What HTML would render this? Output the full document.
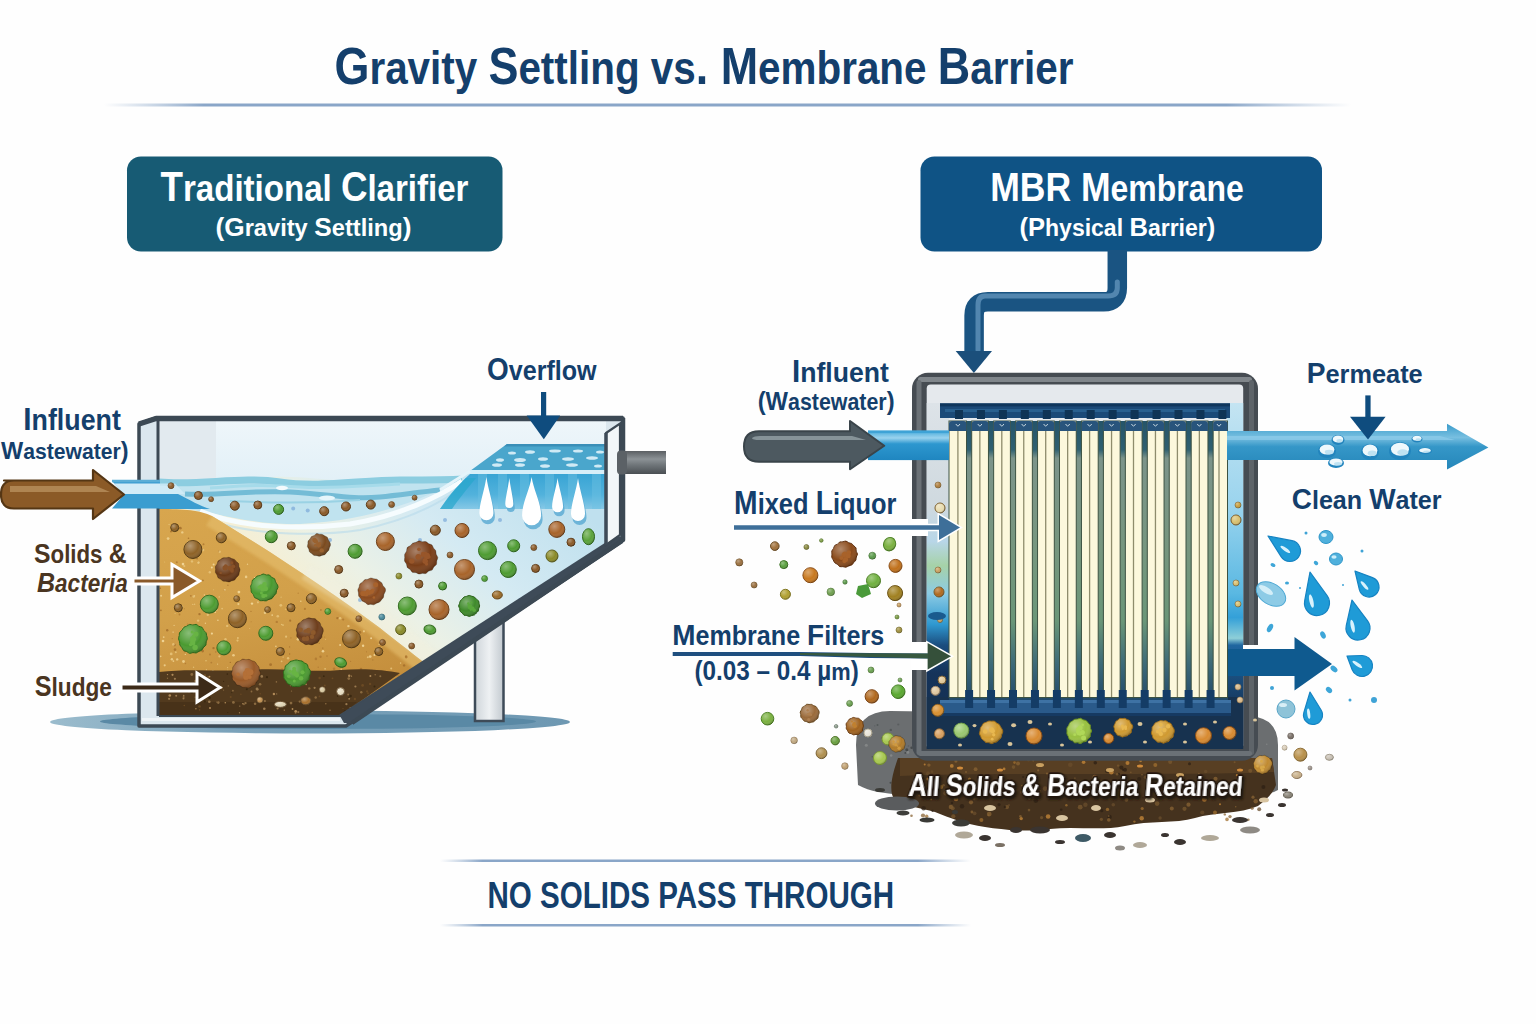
<!DOCTYPE html>
<html><head><meta charset="utf-8"><title>Gravity Settling vs. Membrane Barrier</title>
<style>
html,body{margin:0;padding:0;background:#fefefe;}
svg{display:block;}
text{font-family:'Liberation Sans',sans-serif;font-weight:bold;}
</style></head>
<body>
<svg width="1536" height="1024" viewBox="0 0 1536 1024">
<rect width="1536" height="1024" fill="#fefefe"/>

<defs>
 <linearGradient id="hline" x1="0" x2="1" y1="0" y2="0">
  <stop offset="0" stop-color="#9fb6d2" stop-opacity="0"/>
  <stop offset="0.08" stop-color="#8aa6c8" stop-opacity="1"/>
  <stop offset="0.9" stop-color="#8aa6c8" stop-opacity="1"/>
  <stop offset="1" stop-color="#9fb6d2" stop-opacity="0"/>
 </linearGradient>
 <linearGradient id="airL" x1="0" x2="0" y1="0" y2="1">
  <stop offset="0" stop-color="#eef6fa"/>
  <stop offset="1" stop-color="#e2f0f7"/>
 </linearGradient>
 <linearGradient id="waterL" gradientUnits="userSpaceOnUse" x1="560" y1="490" x2="400" y2="670">
  <stop offset="0" stop-color="#bfe0ee"/>
  <stop offset="0.45" stop-color="#d4eaf3"/>
  <stop offset="0.8" stop-color="#ebf1e6"/>
  <stop offset="1" stop-color="#f4efd6"/>
 </linearGradient>
 <linearGradient id="sludgeL" x1="0" x2="0.3" y1="0" y2="1">
  <stop offset="0" stop-color="#d8a64e"/>
  <stop offset="0.5" stop-color="#d2a04a"/>
  <stop offset="1" stop-color="#c48e3c"/>
 </linearGradient>
 <linearGradient id="sludgeGlow" x1="0" x2="1" y1="0" y2="0">
  <stop offset="0" stop-color="#e8c878" stop-opacity="0"/>
  <stop offset="1" stop-color="#e8c878" stop-opacity="0.7"/>
 </linearGradient>
 <linearGradient id="weirFace" x1="0" x2="0" y1="0" y2="1">
  <stop offset="0" stop-color="#38a4d4"/>
  <stop offset="0.6" stop-color="#52b2dc"/>
  <stop offset="1" stop-color="#86c8e6"/>
 </linearGradient>
 <linearGradient id="gapG" gradientUnits="userSpaceOnUse" x1="0" x2="0" y1="421" y2="707">
  <stop offset="0" stop-color="#24546a"/>
  <stop offset="0.1" stop-color="#2f6070"/>
  <stop offset="0.13" stop-color="#7c948a"/>
  <stop offset="0.45" stop-color="#76967f"/>
  <stop offset="0.7" stop-color="#6a9678"/>
  <stop offset="0.85" stop-color="#3d6a78"/>
  <stop offset="1" stop-color="#1d4468"/>
 </linearGradient>
 <linearGradient id="pipeL" x1="0" x2="0" y1="0" y2="1">
  <stop offset="0" stop-color="#5b5f63"/>
  <stop offset="0.35" stop-color="#8c9296"/>
  <stop offset="0.6" stop-color="#70767a"/>
  <stop offset="1" stop-color="#4a4f53"/>
 </linearGradient>
 <linearGradient id="legL" x1="0" x2="1" y1="0" y2="0">
  <stop offset="0" stop-color="#cfd5da"/>
  <stop offset="0.5" stop-color="#eef1f3"/>
  <stop offset="1" stop-color="#c2c9cf"/>
 </linearGradient>
 <linearGradient id="stripL" x1="0" x2="0" y1="0" y2="1">
  <stop offset="0" stop-color="#dde3e8"/>
  <stop offset="0.3" stop-color="#cfd9df"/>
  <stop offset="0.4" stop-color="#b8d6e8"/>
  <stop offset="0.47" stop-color="#a6d2a8"/>
  <stop offset="0.55" stop-color="#8ccbe4"/>
  <stop offset="0.64" stop-color="#2f98d0"/>
  <stop offset="0.7" stop-color="#1b4d7e"/>
  <stop offset="0.78" stop-color="#15335a"/>
  <stop offset="1" stop-color="#15304d"/>
 </linearGradient>
 <linearGradient id="stripR" x1="0" x2="0" y1="0" y2="1">
  <stop offset="0" stop-color="#c4e4f2"/>
  <stop offset="0.3" stop-color="#9ad4ee"/>
  <stop offset="0.55" stop-color="#5ab8e2"/>
  <stop offset="0.62" stop-color="#34a0d8"/>
  <stop offset="0.68" stop-color="#8ecfd8"/>
  <stop offset="0.7" stop-color="#1f66a0"/>
  <stop offset="0.85" stop-color="#183e66"/>
  <stop offset="1" stop-color="#16304d"/>
 </linearGradient>
 <linearGradient id="bluePipe" x1="0" x2="0" y1="0" y2="1">
  <stop offset="0" stop-color="#46a9da"/>
  <stop offset="0.25" stop-color="#9ad3ee"/>
  <stop offset="0.45" stop-color="#2d97cf"/>
  <stop offset="1" stop-color="#1f86c0"/>
 </linearGradient>
 <linearGradient id="permPipe" x1="0" x2="0" y1="0" y2="1">
  <stop offset="0" stop-color="#3a9ccb"/>
  <stop offset="0.3" stop-color="#78bfe0"/>
  <stop offset="0.5" stop-color="#3597c8"/>
  <stop offset="1" stop-color="#2586b9"/>
 </linearGradient>
 <linearGradient id="wallG" x1="0" x2="1" y1="0" y2="0">
  <stop offset="0" stop-color="#474d53"/>
  <stop offset="0.5" stop-color="#6b7176"/>
  <stop offset="1" stop-color="#474d53"/>
 </linearGradient>
 <linearGradient id="wallGH" x1="0" x2="0" y1="0" y2="1">
  <stop offset="0" stop-color="#42484e"/>
  <stop offset="0.5" stop-color="#7d8388"/>
  <stop offset="1" stop-color="#42484e"/>
 </linearGradient>
 <linearGradient id="mudG" x1="0" x2="0" y1="0" y2="1">
  <stop offset="0" stop-color="#4e3a22"/>
  <stop offset="1" stop-color="#5e4528"/>
 </linearGradient>
 <radialGradient id="ballShade" cx="0.35" cy="0.3" r="0.75">
  <stop offset="0" stop-color="#fff" stop-opacity="0.35"/>
  <stop offset="0.6" stop-color="#fff" stop-opacity="0"/>
  <stop offset="1" stop-color="#000" stop-opacity="0.25"/>
 </radialGradient>
 <filter id="tshadow" x="-5%" y="-20%" width="110%" height="140%">
  <feDropShadow dx="1.5" dy="2" stdDeviation="0.8" flood-color="#1a120a" flood-opacity="0.95"/>
 </filter>
 <filter id="blur1"><feGaussianBlur stdDeviation="0.6"/></filter>
 <filter id="blur2"><feGaussianBlur stdDeviation="1.5"/></filter>
</defs>

<text x="334.5" y="83.5" font-size="51.5" textLength="739" lengthAdjust="spacingAndGlyphs" fill="#143f6c" style="" xml:space="preserve" ><tspan font-size="51.50">G</tspan><tspan font-size="46.35">ravity </tspan><tspan font-size="51.50">S</tspan><tspan font-size="46.35">ettling vs</tspan><tspan font-size="51.50">. M</tspan><tspan font-size="46.35">embrane </tspan><tspan font-size="51.50">B</tspan><tspan font-size="46.35">arrier</tspan></text>
<rect x="104" y="103.5" width="1247" height="3" fill="url(#hline)"/>
<rect x="127" y="156.5" width="375.5" height="95" rx="14" fill="#175b74"/>
<text x="160.5" y="201" font-size="42" textLength="308" lengthAdjust="spacingAndGlyphs" fill="#ffffff" style="" xml:space="preserve" ><tspan font-size="42.00">T</tspan><tspan font-size="37.80">raditional </tspan><tspan font-size="42.00">C</tspan><tspan font-size="37.80">larifier</tspan></text>
<text x="215.5" y="235.5" font-size="26.5" textLength="196" lengthAdjust="spacingAndGlyphs" fill="#ffffff" style="" xml:space="preserve" ><tspan font-size="26.50">(G</tspan><tspan font-size="23.85">ravity </tspan><tspan font-size="26.50">S</tspan><tspan font-size="23.85">ettling</tspan><tspan font-size="26.50">)</tspan></text>
<rect x="920.5" y="156.5" width="401.5" height="95" rx="14" fill="#0f5385"/>
<text x="990.2" y="200.6" font-size="40.5" textLength="253.5" lengthAdjust="spacingAndGlyphs" fill="#ffffff" style="" xml:space="preserve" ><tspan font-size="40.50">MBR M</tspan><tspan font-size="36.45">embrane</tspan></text>
<text x="1019.5" y="235.5" font-size="26.5" textLength="195.75" lengthAdjust="spacingAndGlyphs" fill="#ffffff" style="" xml:space="preserve" ><tspan font-size="26.50">(P</tspan><tspan font-size="23.85">hysical </tspan><tspan font-size="26.50">B</tspan><tspan font-size="23.85">arrier</tspan><tspan font-size="26.50">)</tspan></text>
<path d="M1117.3 250 V288 Q1117.3 301.7 1103.6 301.7 H987.9 Q974.1 301.7 974.1 315.5 V352"
 fill="none" stroke="#1a5482" stroke-width="19.5"/>
<path d="M1117.3 282 V288 Q1117.3 296 1108 296 H985 Q978 296 978 305 V350" fill="none" stroke="#5d8fb7" stroke-width="5" stroke-linecap="round" opacity="0.85"/>
<path d="M955.7 351 L992 351 L973.9 373 Z" fill="#1b4f7b"/>
<rect x="440" y="859.5" width="531" height="2.5" fill="url(#hline)"/>
<rect x="440" y="924" width="531" height="2.5" fill="url(#hline)"/>
<text x="487.5" y="908" font-size="36.3" textLength="406.6" lengthAdjust="spacingAndGlyphs" fill="#143f6c" style="" xml:space="preserve" ><tspan font-size="36.30">NO SOLIDS PASS THROUGH</tspan></text>
<linearGradient id="shadowG" x1="0" x2="1" y1="0" y2="0"><stop offset="0" stop-color="#9bbccd"/><stop offset="0.35" stop-color="#7aa2ba"/><stop offset="1" stop-color="#6e98b2"/></linearGradient>
<ellipse cx="310" cy="722" rx="260" ry="11.5" fill="url(#shadowG)"/>
<ellipse cx="318" cy="721.5" rx="218" ry="7.5" fill="#5a89a5"/>
<rect x="475" y="600" width="28.5" height="121" fill="url(#legL)" stroke="#3e4b58" stroke-width="2.5"/>
<path d="M139 726 L139 424 L156 418 L623 418 L623 540 L352 722 L346 726 Z" fill="#dbe7ee" stroke="#3c4954" stroke-width="3.5" stroke-linejoin="round"/>
<clipPath id="clipL"><path d="M159 421 L606 421 L606 544 L340 716 L159 716 Z"/></clipPath>
<g clip-path="url(#clipL)">
<path d="M159 421 L606 421 L606 544 L340 716 L159 716 Z" fill="url(#waterL)"/>
<path d="M159 421 H606 V444 L507 444 L470 471 L459 480 C420 484 400 478 360 480 C320 482 300 474 260 478 C220 482 190 481 159 480 Z" fill="url(#airL)"/>
<rect x="159" y="421" width="57" height="60" fill="#e2eaef"/>
<path d="M159 481 C200 484 240 472 290 482 C330 490 380 482 420 481 C440 480 452 480 462 479 C430 495 380 520 300 524 C240 526 200 505 159 508 Z" fill="#c0e3ef"/>
<path d="M159 482 C200 486 240 476 280 482 C320 488 360 480 400 480 C430 480 450 480 462 479" fill="none" stroke="#8ccde0" stroke-width="7"/>
<path d="M185 494 C220 496 250 490 290 492 C330 494 350 500 380 497 C400 495 420 492 440 490" fill="none" stroke="#74bcd6" stroke-width="5"/>
<path d="M210 488 C240 486 260 484 300 487 C330 489 360 486 400 484" fill="none" stroke="#a6dbea" stroke-width="3"/>
<ellipse cx="282" cy="488" rx="6" ry="2.2" fill="#f2fafd"/>
<ellipse cx="327" cy="498" rx="8" ry="2.5" fill="#e6f6fb"/>
<path d="M230 501 C270 503 320 503 360 500" fill="none" stroke="#9ad2e4" stroke-width="2"/>
<path d="M200 511 C240 528 300 530 350 524 C400 516 440 496 462 481" fill="none" stroke="#f6fcfe" stroke-width="5"/>
<path d="M215 522 C260 536 320 536 360 530 C410 520 445 500 464 486" fill="none" stroke="#b7dbeb" stroke-width="2" opacity="0.6"/>
<path d="M159 494 L178 494 C190 500 200 506 210 509 L159 509 Z" fill="#3a9dd0"/>
<path d="M159 483.5 L175 483.5 L185 494 L159 494 Z" fill="#d2ecf7" opacity="0.8"/>
<path d="M440 509 C450 495 458 485 470 474 L606 474 L606 509 Z" fill="url(#weirFace)"/>
<path d="M440 509 C448 497 455 488 466 478 L476 478 C466 490 458 500 452 509 Z" fill="#26a6cc" opacity="0.7"/>
<rect x="478" y="474" width="9" height="35" fill="#6cc0e2" opacity="0.45"/>
<rect x="498" y="474" width="9" height="35" fill="#6cc0e2" opacity="0.45"/>
<rect x="520" y="474" width="9" height="35" fill="#6cc0e2" opacity="0.45"/>
<rect x="545" y="474" width="9" height="35" fill="#6cc0e2" opacity="0.45"/>
<rect x="568" y="474" width="9" height="35" fill="#6cc0e2" opacity="0.45"/>
<rect x="592" y="474" width="9" height="35" fill="#6cc0e2" opacity="0.45"/>
<path d="M507 444 L606 444 L606 471 L470 471 Z" fill="#4aa6cc"/>
<path d="M507 444 L606 444 L606 446.5 L504 446.5 Z" fill="#3a8fb8"/>
<path d="M470 470 L606 470 L606 474 L466 474 Z" fill="#d6eef8"/>
<path d="M470 471 L440 490" stroke="#e4f4fa" stroke-width="3"/>
<ellipse cx="512" cy="453" rx="4" ry="1.6" fill="#cfeaf5"/>
<ellipse cx="530" cy="452" rx="5" ry="1.8" fill="#cfeaf5"/>
<ellipse cx="555" cy="451" rx="6" ry="1.6" fill="#cfeaf5"/>
<ellipse cx="578" cy="451" rx="5" ry="1.5" fill="#cfeaf5"/>
<ellipse cx="600" cy="452" rx="4" ry="1.6" fill="#cfeaf5"/>
<ellipse cx="500" cy="460" rx="4" ry="1.8" fill="#cfeaf5"/>
<ellipse cx="520" cy="460" rx="6" ry="2" fill="#cfeaf5"/>
<ellipse cx="543" cy="459" rx="5" ry="1.8" fill="#cfeaf5"/>
<ellipse cx="568" cy="459" rx="6" ry="1.8" fill="#cfeaf5"/>
<ellipse cx="592" cy="458" rx="6" ry="1.8" fill="#cfeaf5"/>
<ellipse cx="497" cy="465" rx="5" ry="1.8" fill="#cfeaf5"/>
<ellipse cx="520" cy="465" rx="5" ry="1.8" fill="#cfeaf5"/>
<ellipse cx="545" cy="466" rx="5" ry="1.8" fill="#cfeaf5"/>
<ellipse cx="572" cy="465" rx="6" ry="1.8" fill="#cfeaf5"/>
<ellipse cx="598" cy="466" rx="4" ry="1.6" fill="#cfeaf5"/>
<path d="M486.4 477 C488.15 489.99 493.4 503.49999999999994 493.4 513.3 A7.0 7.0 0 0 1 479.4 513.3 C479.4 503.49999999999994 484.65 489.99 486.4 477 Z" fill="#58a9d2" transform="translate(1.5 4)" opacity="0.8"/>
<path d="M486.4 477 C488.15 489.99 493.4 503.49999999999994 493.4 513.3 A7.0 7.0 0 0 1 479.4 513.3 C479.4 503.49999999999994 484.65 489.99 486.4 477 Z" fill="#ffffff"/>
<path d="M509.3 478 C510.3 487.0 513.3 498.4 513.3 504.0 A4.0 4.0 0 0 1 505.3 504.0 C505.3 498.4 508.3 487.0 509.3 478 Z" fill="#58a9d2" transform="translate(1.5 4)" opacity="0.8"/>
<path d="M509.3 478 C510.3 487.0 513.3 498.4 513.3 504.0 A4.0 4.0 0 0 1 505.3 504.0 C505.3 498.4 508.3 487.0 509.3 478 Z" fill="#ffffff"/>
<path d="M531.6 477 C533.975 491.49 541.1 502.49999999999994 541.1 515.8 A9.5 9.5 0 0 1 522.1 515.8 C522.1 502.49999999999994 529.225 491.49 531.6 477 Z" fill="#58a9d2" transform="translate(1.5 4)" opacity="0.8"/>
<path d="M531.6 477 C533.975 491.49 541.1 502.49999999999994 541.1 515.8 A9.5 9.5 0 0 1 522.1 515.8 C522.1 502.49999999999994 529.225 491.49 531.6 477 Z" fill="#ffffff"/>
<path d="M557.6 478 C558.975 488.28999999999996 563.1 499.09999999999997 563.1 506.79999999999995 A5.5 5.5 0 0 1 552.1 506.79999999999995 C552.1 499.09999999999997 556.225 488.28999999999996 557.6 478 Z" fill="#58a9d2" transform="translate(1.5 4)" opacity="0.8"/>
<path d="M557.6 478 C558.975 488.28999999999996 563.1 499.09999999999997 563.1 506.79999999999995 A5.5 5.5 0 0 1 552.1 506.79999999999995 C552.1 499.09999999999997 556.225 488.28999999999996 557.6 478 Z" fill="#ffffff"/>
<path d="M578 478 C579.75 490.9 585.0 504.2 585.0 514.0 A7.0 7.0 0 0 1 571.0 514.0 C571.0 504.2 576.25 490.9 578 478 Z" fill="#58a9d2" transform="translate(1.5 4)" opacity="0.8"/>
<path d="M578 478 C579.75 490.9 585.0 504.2 585.0 514.0 A7.0 7.0 0 0 1 571.0 514.0 C571.0 504.2 576.25 490.9 578 478 Z" fill="#ffffff"/>
<path d="M159 509 C185 509 200 510 212 516 C260 545 330 590 380 628 C395 640 408 650 426 664 L340 716 L159 716 Z" fill="url(#sludgeL)"/>
<path d="M300 578 C330 598 360 615 380 628 C395 640 408 650 426 664" fill="none" stroke="#f0f0e0" stroke-width="16" opacity="0.55" filter="url(#blur2)" transform="translate(6 -6)"/>
<clipPath id="sludgeClip"><path d="M159 509 C185 509 200 510 212 516 C260 545 330 590 380 628 C395 640 408 650 426 664 L340 716 L159 716 Z"/></clipPath>
<path d="M212 516 C260 545 330 590 380 628 C395 640 408 650 426 664" fill="none" stroke="#e6c070" stroke-width="22" opacity="0.6" filter="url(#blur2)" clip-path="url(#sludgeClip)"/>
<circle cx="175.1" cy="613.5" r="0.6" fill="#e8c47a" opacity="0.85"/>
<circle cx="307.0" cy="701.5" r="1.1" fill="#e8c47a" opacity="0.85"/>
<circle cx="263.1" cy="707.3" r="1.0" fill="#e8c47a" opacity="0.85"/>
<circle cx="194.6" cy="595.8" r="0.6" fill="#f4dca0" opacity="0.85"/>
<circle cx="240.2" cy="675.2" r="0.6" fill="#b07a32" opacity="0.85"/>
<circle cx="185.3" cy="654.4" r="0.6" fill="#f4dca0" opacity="0.85"/>
<circle cx="213.5" cy="648.1" r="1.2" fill="#a56e2c" opacity="0.85"/>
<circle cx="281.1" cy="696.7" r="0.8" fill="#f0d290" opacity="0.85"/>
<circle cx="366.5" cy="651.8" r="0.6" fill="#b07a32" opacity="0.85"/>
<circle cx="238.1" cy="611.0" r="1.2" fill="#f0d290" opacity="0.85"/>
<circle cx="234.9" cy="708.0" r="1.0" fill="#e8c47a" opacity="0.85"/>
<circle cx="202.9" cy="580.4" r="0.9" fill="#a56e2c" opacity="0.85"/>
<circle cx="305.1" cy="669.8" r="0.8" fill="#f0d290" opacity="0.85"/>
<circle cx="251.0" cy="611.3" r="0.6" fill="#a56e2c" opacity="0.85"/>
<circle cx="184.3" cy="566.0" r="1.1" fill="#e8c47a" opacity="0.85"/>
<circle cx="175.8" cy="652.3" r="1.0" fill="#e8c47a" opacity="0.85"/>
<circle cx="346.3" cy="689.4" r="0.5" fill="#f0d290" opacity="0.85"/>
<circle cx="224.4" cy="590.2" r="0.6" fill="#a56e2c" opacity="0.85"/>
<circle cx="276.8" cy="621.9" r="1.2" fill="#b07a32" opacity="0.85"/>
<circle cx="268.0" cy="583.8" r="1.4" fill="#a56e2c" opacity="0.85"/>
<circle cx="199.2" cy="547.2" r="1.1" fill="#b07a32" opacity="0.85"/>
<circle cx="163.1" cy="678.2" r="0.7" fill="#b07a32" opacity="0.85"/>
<circle cx="161.1" cy="595.8" r="1.0" fill="#f0d290" opacity="0.85"/>
<circle cx="383.4" cy="702.0" r="1.1" fill="#e8c47a" opacity="0.85"/>
<circle cx="174.0" cy="691.9" r="1.2" fill="#e8c47a" opacity="0.85"/>
<circle cx="262.0" cy="591.8" r="0.9" fill="#e8c47a" opacity="0.85"/>
<circle cx="188.6" cy="632.1" r="0.5" fill="#e8c47a" opacity="0.85"/>
<circle cx="198.6" cy="562.5" r="1.0" fill="#f0d290" opacity="0.85"/>
<circle cx="286.9" cy="707.6" r="0.9" fill="#a56e2c" opacity="0.85"/>
<circle cx="182.3" cy="532.4" r="1.2" fill="#f0d290" opacity="0.85"/>
<circle cx="284.4" cy="650.4" r="0.5" fill="#f4dca0" opacity="0.85"/>
<circle cx="198.1" cy="620.6" r="1.2" fill="#e8c47a" opacity="0.85"/>
<circle cx="237.5" cy="640.6" r="1.1" fill="#e8c47a" opacity="0.85"/>
<circle cx="227.9" cy="585.3" r="0.8" fill="#b07a32" opacity="0.85"/>
<circle cx="217.9" cy="620.3" r="0.8" fill="#f4dca0" opacity="0.85"/>
<circle cx="218.0" cy="674.3" r="1.2" fill="#b07a32" opacity="0.85"/>
<circle cx="372.8" cy="660.0" r="0.7" fill="#b07a32" opacity="0.85"/>
<circle cx="288.1" cy="658.2" r="1.2" fill="#e8c47a" opacity="0.85"/>
<circle cx="370.2" cy="656.6" r="1.4" fill="#f0d290" opacity="0.85"/>
<circle cx="219.0" cy="551.3" r="0.9" fill="#b07a32" opacity="0.85"/>
<circle cx="160.5" cy="693.8" r="1.2" fill="#f0d290" opacity="0.85"/>
<circle cx="182.0" cy="644.1" r="1.2" fill="#a56e2c" opacity="0.85"/>
<circle cx="206.4" cy="669.8" r="0.6" fill="#f0d290" opacity="0.85"/>
<circle cx="406.0" cy="656.4" r="0.9" fill="#a56e2c" opacity="0.85"/>
<circle cx="406.2" cy="657.0" r="1.4" fill="#b07a32" opacity="0.85"/>
<circle cx="167.2" cy="630.2" r="1.2" fill="#a56e2c" opacity="0.85"/>
<circle cx="198.0" cy="677.3" r="1.1" fill="#a56e2c" opacity="0.85"/>
<circle cx="251.1" cy="621.7" r="0.5" fill="#b07a32" opacity="0.85"/>
<circle cx="367.8" cy="657.3" r="1.0" fill="#e8c47a" opacity="0.85"/>
<circle cx="386.7" cy="677.2" r="0.5" fill="#b07a32" opacity="0.85"/>
<circle cx="215.3" cy="612.2" r="0.8" fill="#f4dca0" opacity="0.85"/>
<circle cx="301.5" cy="678.8" r="1.3" fill="#e8c47a" opacity="0.85"/>
<circle cx="252.0" cy="603.6" r="1.2" fill="#f4dca0" opacity="0.85"/>
<circle cx="294.4" cy="677.4" r="0.6" fill="#f4dca0" opacity="0.85"/>
<circle cx="199.5" cy="614.1" r="1.2" fill="#a56e2c" opacity="0.85"/>
<circle cx="318.2" cy="667.2" r="0.7" fill="#b07a32" opacity="0.85"/>
<circle cx="283.1" cy="657.0" r="0.6" fill="#f4dca0" opacity="0.85"/>
<circle cx="337.4" cy="618.1" r="1.2" fill="#a56e2c" opacity="0.85"/>
<circle cx="187.6" cy="624.1" r="0.7" fill="#b07a32" opacity="0.85"/>
<circle cx="171.0" cy="531.5" r="1.0" fill="#a56e2c" opacity="0.85"/>
<circle cx="357.6" cy="694.5" r="0.8" fill="#a56e2c" opacity="0.85"/>
<circle cx="211.8" cy="567.4" r="1.0" fill="#f4dca0" opacity="0.85"/>
<circle cx="284.3" cy="700.3" r="1.0" fill="#e8c47a" opacity="0.85"/>
<circle cx="387.8" cy="697.6" r="1.3" fill="#f4dca0" opacity="0.85"/>
<circle cx="212.7" cy="601.5" r="0.6" fill="#a56e2c" opacity="0.85"/>
<circle cx="334.1" cy="668.8" r="1.3" fill="#b07a32" opacity="0.85"/>
<circle cx="281.6" cy="661.3" r="0.9" fill="#e8c47a" opacity="0.85"/>
<circle cx="286.7" cy="710.0" r="0.6" fill="#b07a32" opacity="0.85"/>
<circle cx="272.2" cy="615.1" r="0.9" fill="#f0d290" opacity="0.85"/>
<circle cx="255.1" cy="579.6" r="0.9" fill="#a56e2c" opacity="0.85"/>
<circle cx="164.7" cy="578.3" r="0.8" fill="#f4dca0" opacity="0.85"/>
<circle cx="230.7" cy="693.2" r="0.7" fill="#b07a32" opacity="0.85"/>
<circle cx="193.7" cy="596.5" r="1.2" fill="#e8c47a" opacity="0.85"/>
<circle cx="175.0" cy="649.6" r="1.3" fill="#a56e2c" opacity="0.85"/>
<circle cx="183.0" cy="564.1" r="1.3" fill="#f4dca0" opacity="0.85"/>
<circle cx="177.3" cy="684.6" r="0.5" fill="#a56e2c" opacity="0.85"/>
<circle cx="171.2" cy="653.9" r="1.4" fill="#e8c47a" opacity="0.85"/>
<circle cx="275.9" cy="646.4" r="0.8" fill="#f0d290" opacity="0.85"/>
<circle cx="164.7" cy="562.1" r="0.5" fill="#e8c47a" opacity="0.85"/>
<circle cx="291.5" cy="707.6" r="0.9" fill="#f4dca0" opacity="0.85"/>
<circle cx="288.7" cy="678.9" r="1.4" fill="#a56e2c" opacity="0.85"/>
<circle cx="219.7" cy="551.7" r="1.2" fill="#e8c47a" opacity="0.85"/>
<circle cx="196.3" cy="709.9" r="1.3" fill="#e8c47a" opacity="0.85"/>
<circle cx="163.7" cy="637.1" r="0.9" fill="#f0d290" opacity="0.85"/>
<circle cx="174.4" cy="645.0" r="1.3" fill="#a56e2c" opacity="0.85"/>
<circle cx="223.0" cy="570.6" r="0.7" fill="#a56e2c" opacity="0.85"/>
<circle cx="254.7" cy="577.8" r="0.8" fill="#f4dca0" opacity="0.85"/>
<circle cx="169.0" cy="688.5" r="0.8" fill="#b07a32" opacity="0.85"/>
<circle cx="160.3" cy="588.3" r="0.8" fill="#a56e2c" opacity="0.85"/>
<circle cx="237.9" cy="637.9" r="1.0" fill="#e8c47a" opacity="0.85"/>
<circle cx="297.6" cy="662.1" r="1.3" fill="#e8c47a" opacity="0.85"/>
<circle cx="363.9" cy="631.3" r="1.1" fill="#f0d290" opacity="0.85"/>
<circle cx="374.5" cy="655.0" r="1.1" fill="#f4dca0" opacity="0.85"/>
<circle cx="350.8" cy="674.4" r="1.3" fill="#b07a32" opacity="0.85"/>
<circle cx="338.5" cy="671.6" r="1.1" fill="#e8c47a" opacity="0.85"/>
<circle cx="168.1" cy="538.6" r="1.4" fill="#f0d290" opacity="0.85"/>
<circle cx="257.9" cy="602.3" r="1.1" fill="#e8c47a" opacity="0.85"/>
<circle cx="322.8" cy="648.1" r="0.7" fill="#a56e2c" opacity="0.85"/>
<circle cx="402.5" cy="691.6" r="1.1" fill="#e8c47a" opacity="0.85"/>
<circle cx="177.2" cy="659.4" r="1.2" fill="#f0d290" opacity="0.85"/>
<circle cx="172.2" cy="638.6" r="0.6" fill="#b07a32" opacity="0.85"/>
<circle cx="198.3" cy="562.8" r="1.1" fill="#e8c47a" opacity="0.85"/>
<circle cx="285.4" cy="609.2" r="0.6" fill="#e8c47a" opacity="0.85"/>
<circle cx="216.6" cy="609.9" r="1.0" fill="#e8c47a" opacity="0.85"/>
<circle cx="280.8" cy="605.3" r="1.4" fill="#e8c47a" opacity="0.85"/>
<circle cx="182.3" cy="606.6" r="0.9" fill="#f0d290" opacity="0.85"/>
<circle cx="373.2" cy="705.6" r="1.4" fill="#a56e2c" opacity="0.85"/>
<circle cx="260.6" cy="695.3" r="0.6" fill="#b07a32" opacity="0.85"/>
<circle cx="183.5" cy="661.5" r="1.4" fill="#f0d290" opacity="0.85"/>
<circle cx="194.5" cy="676.0" r="0.8" fill="#f4dca0" opacity="0.85"/>
<circle cx="189.3" cy="585.0" r="1.3" fill="#a56e2c" opacity="0.85"/>
<circle cx="160.9" cy="610.3" r="0.9" fill="#a56e2c" opacity="0.85"/>
<circle cx="246.1" cy="576.9" r="1.3" fill="#f0d290" opacity="0.85"/>
<circle cx="191.2" cy="697.3" r="0.5" fill="#e8c47a" opacity="0.85"/>
<circle cx="176.9" cy="590.0" r="0.6" fill="#f4dca0" opacity="0.85"/>
<circle cx="400.6" cy="663.1" r="0.8" fill="#e8c47a" opacity="0.85"/>
<circle cx="173.4" cy="644.4" r="1.3" fill="#e8c47a" opacity="0.85"/>
<circle cx="224.8" cy="565.1" r="0.8" fill="#f4dca0" opacity="0.85"/>
<circle cx="361.0" cy="669.0" r="1.3" fill="#a56e2c" opacity="0.85"/>
<circle cx="371.1" cy="638.2" r="1.0" fill="#f4dca0" opacity="0.85"/>
<circle cx="355.7" cy="640.9" r="0.9" fill="#f0d290" opacity="0.85"/>
<circle cx="204.4" cy="595.0" r="0.8" fill="#f0d290" opacity="0.85"/>
<circle cx="352.1" cy="707.3" r="0.9" fill="#f0d290" opacity="0.85"/>
<circle cx="222.1" cy="608.6" r="0.9" fill="#e8c47a" opacity="0.85"/>
<circle cx="203.5" cy="544.3" r="1.0" fill="#b07a32" opacity="0.85"/>
<circle cx="205.4" cy="623.2" r="0.7" fill="#f0d290" opacity="0.85"/>
<circle cx="227.2" cy="625.9" r="1.2" fill="#e8c47a" opacity="0.85"/>
<circle cx="267.3" cy="594.8" r="0.7" fill="#f4dca0" opacity="0.85"/>
<circle cx="230.3" cy="662.4" r="0.7" fill="#a56e2c" opacity="0.85"/>
<circle cx="290.9" cy="637.9" r="0.6" fill="#b07a32" opacity="0.85"/>
<circle cx="241.1" cy="674.9" r="0.6" fill="#e8c47a" opacity="0.85"/>
<circle cx="270.6" cy="664.7" r="1.4" fill="#a56e2c" opacity="0.85"/>
<circle cx="401.9" cy="697.6" r="1.3" fill="#f4dca0" opacity="0.85"/>
<circle cx="188.4" cy="542.9" r="1.4" fill="#f4dca0" opacity="0.85"/>
<circle cx="188.3" cy="677.1" r="1.1" fill="#e8c47a" opacity="0.85"/>
<circle cx="225.5" cy="639.3" r="1.2" fill="#e8c47a" opacity="0.85"/>
<circle cx="185.9" cy="572.1" r="0.7" fill="#f4dca0" opacity="0.85"/>
<circle cx="227.8" cy="670.1" r="0.5" fill="#e8c47a" opacity="0.85"/>
<circle cx="238.4" cy="604.1" r="1.1" fill="#f0d290" opacity="0.85"/>
<circle cx="221.0" cy="561.4" r="1.1" fill="#a56e2c" opacity="0.85"/>
<circle cx="289.6" cy="646.9" r="0.6" fill="#a56e2c" opacity="0.85"/>
<circle cx="219.2" cy="596.9" r="0.7" fill="#f0d290" opacity="0.85"/>
<circle cx="168.9" cy="579.6" r="0.8" fill="#a56e2c" opacity="0.85"/>
<circle cx="235.9" cy="681.0" r="0.7" fill="#e8c47a" opacity="0.85"/>
<circle cx="217.6" cy="664.1" r="0.6" fill="#f0d290" opacity="0.85"/>
<circle cx="322.1" cy="634.0" r="0.9" fill="#b07a32" opacity="0.85"/>
<circle cx="314.6" cy="696.4" r="0.7" fill="#e8c47a" opacity="0.85"/>
<circle cx="173.5" cy="524.0" r="0.9" fill="#a56e2c" opacity="0.85"/>
<circle cx="203.1" cy="550.1" r="1.3" fill="#e8c47a" opacity="0.85"/>
<circle cx="257.2" cy="578.3" r="0.6" fill="#b07a32" opacity="0.85"/>
<circle cx="180.3" cy="528.2" r="1.4" fill="#a56e2c" opacity="0.85"/>
<circle cx="192.2" cy="704.9" r="0.8" fill="#b07a32" opacity="0.85"/>
<circle cx="300.8" cy="601.3" r="0.8" fill="#f0d290" opacity="0.85"/>
<circle cx="266.8" cy="674.4" r="0.5" fill="#a56e2c" opacity="0.85"/>
<circle cx="169.1" cy="524.5" r="0.7" fill="#e8c47a" opacity="0.85"/>
<circle cx="354.3" cy="691.7" r="0.8" fill="#f0d290" opacity="0.85"/>
<circle cx="247.1" cy="702.8" r="0.7" fill="#e8c47a" opacity="0.85"/>
<circle cx="356.5" cy="695.3" r="1.4" fill="#e8c47a" opacity="0.85"/>
<circle cx="177.0" cy="677.2" r="0.9" fill="#e8c47a" opacity="0.85"/>
<circle cx="408.8" cy="702.8" r="1.2" fill="#a56e2c" opacity="0.85"/>
<circle cx="397.5" cy="675.0" r="1.3" fill="#b07a32" opacity="0.85"/>
<circle cx="207.6" cy="672.5" r="0.8" fill="#e8c47a" opacity="0.85"/>
<circle cx="221.4" cy="684.2" r="0.8" fill="#a56e2c" opacity="0.85"/>
<circle cx="211.3" cy="662.6" r="0.9" fill="#b07a32" opacity="0.85"/>
<circle cx="178.8" cy="636.9" r="0.6" fill="#b07a32" opacity="0.85"/>
<circle cx="289.6" cy="654.0" r="0.7" fill="#a56e2c" opacity="0.85"/>
<circle cx="194.6" cy="604.2" r="0.7" fill="#e8c47a" opacity="0.85"/>
<circle cx="300.0" cy="666.8" r="1.2" fill="#e8c47a" opacity="0.85"/>
<circle cx="236.4" cy="567.9" r="0.8" fill="#f0d290" opacity="0.85"/>
<circle cx="224.3" cy="561.1" r="0.8" fill="#b07a32" opacity="0.85"/>
<circle cx="176.8" cy="562.3" r="1.0" fill="#b07a32" opacity="0.85"/>
<circle cx="220.2" cy="673.7" r="0.9" fill="#e8c47a" opacity="0.85"/>
<circle cx="276.6" cy="586.8" r="0.7" fill="#f0d290" opacity="0.85"/>
<circle cx="173.1" cy="632.1" r="0.7" fill="#f4dca0" opacity="0.85"/>
<circle cx="179.5" cy="614.5" r="0.9" fill="#b07a32" opacity="0.85"/>
<circle cx="227.6" cy="667.6" r="0.6" fill="#e8c47a" opacity="0.85"/>
<circle cx="315.0" cy="636.0" r="0.5" fill="#b07a32" opacity="0.85"/>
<circle cx="350.4" cy="694.8" r="1.2" fill="#e8c47a" opacity="0.85"/>
<circle cx="266.3" cy="586.4" r="0.8" fill="#f4dca0" opacity="0.85"/>
<circle cx="212.9" cy="671.1" r="0.9" fill="#f4dca0" opacity="0.85"/>
<circle cx="266.1" cy="671.2" r="1.0" fill="#e8c47a" opacity="0.85"/>
<circle cx="202.6" cy="651.1" r="1.4" fill="#a56e2c" opacity="0.85"/>
<circle cx="173.4" cy="661.1" r="0.9" fill="#f0d290" opacity="0.85"/>
<circle cx="164.7" cy="665.3" r="1.1" fill="#f0d290" opacity="0.85"/>
<circle cx="261.6" cy="593.0" r="0.9" fill="#e8c47a" opacity="0.85"/>
<circle cx="183.5" cy="627.6" r="0.9" fill="#f0d290" opacity="0.85"/>
<circle cx="303.4" cy="640.1" r="0.6" fill="#a56e2c" opacity="0.85"/>
<circle cx="233.7" cy="616.2" r="0.6" fill="#e8c47a" opacity="0.85"/>
<circle cx="287.5" cy="673.0" r="0.8" fill="#b07a32" opacity="0.85"/>
<circle cx="318.0" cy="639.3" r="1.3" fill="#e8c47a" opacity="0.85"/>
<circle cx="321.3" cy="676.9" r="1.1" fill="#b07a32" opacity="0.85"/>
<circle cx="283.0" cy="625.1" r="0.9" fill="#e8c47a" opacity="0.85"/>
<circle cx="192.0" cy="561.4" r="1.2" fill="#e8c47a" opacity="0.85"/>
<circle cx="210.1" cy="688.8" r="0.5" fill="#e8c47a" opacity="0.85"/>
<circle cx="315.9" cy="622.0" r="1.2" fill="#e8c47a" opacity="0.85"/>
<circle cx="224.8" cy="589.8" r="0.9" fill="#f0d290" opacity="0.85"/>
<circle cx="320.9" cy="609.9" r="0.9" fill="#b07a32" opacity="0.85"/>
<circle cx="320.8" cy="675.8" r="1.2" fill="#b07a32" opacity="0.85"/>
<circle cx="253.2" cy="585.1" r="1.0" fill="#a56e2c" opacity="0.85"/>
<circle cx="193.9" cy="696.4" r="1.2" fill="#f0d290" opacity="0.85"/>
<circle cx="382.8" cy="711.2" r="1.1" fill="#e8c47a" opacity="0.85"/>
<circle cx="188.5" cy="538.3" r="0.8" fill="#a56e2c" opacity="0.85"/>
<circle cx="370.9" cy="671.0" r="1.2" fill="#e8c47a" opacity="0.85"/>
<circle cx="251.2" cy="663.2" r="0.8" fill="#b07a32" opacity="0.85"/>
<circle cx="319.5" cy="693.0" r="0.6" fill="#a56e2c" opacity="0.85"/>
<circle cx="290.6" cy="696.0" r="1.0" fill="#b07a32" opacity="0.85"/>
<circle cx="264.9" cy="639.3" r="1.1" fill="#f0d290" opacity="0.85"/>
<circle cx="298.0" cy="639.3" r="1.4" fill="#f0d290" opacity="0.85"/>
<circle cx="277.8" cy="616.3" r="1.3" fill="#e8c47a" opacity="0.85"/>
<circle cx="187.2" cy="710.6" r="1.3" fill="#e8c47a" opacity="0.85"/>
<circle cx="257.7" cy="585.8" r="0.8" fill="#b07a32" opacity="0.85"/>
<circle cx="206.0" cy="660.7" r="0.8" fill="#e8c47a" opacity="0.85"/>
<circle cx="411.1" cy="686.1" r="1.3" fill="#e8c47a" opacity="0.85"/>
<circle cx="350.6" cy="661.4" r="0.6" fill="#b07a32" opacity="0.85"/>
<circle cx="293.3" cy="691.1" r="0.9" fill="#b07a32" opacity="0.85"/>
<circle cx="174.1" cy="625.4" r="0.6" fill="#f0d290" opacity="0.85"/>
<circle cx="311.7" cy="629.8" r="0.8" fill="#b07a32" opacity="0.85"/>
<circle cx="163.7" cy="672.3" r="0.6" fill="#e8c47a" opacity="0.85"/>
<circle cx="184.9" cy="639.6" r="1.2" fill="#e8c47a" opacity="0.85"/>
<circle cx="163.0" cy="641.0" r="1.3" fill="#f4dca0" opacity="0.85"/>
<circle cx="314.6" cy="627.7" r="1.3" fill="#f4dca0" opacity="0.85"/>
<circle cx="298.2" cy="593.2" r="0.6" fill="#b07a32" opacity="0.85"/>
<circle cx="319.3" cy="643.4" r="0.6" fill="#b07a32" opacity="0.85"/>
<circle cx="211.9" cy="633.6" r="1.1" fill="#f4dca0" opacity="0.85"/>
<circle cx="268.0" cy="634.6" r="0.8" fill="#f4dca0" opacity="0.85"/>
<circle cx="391.2" cy="668.6" r="1.0" fill="#e8c47a" opacity="0.85"/>
<circle cx="257.5" cy="599.3" r="0.6" fill="#a56e2c" opacity="0.85"/>
<circle cx="391.7" cy="697.0" r="1.1" fill="#f0d290" opacity="0.85"/>
<circle cx="229.2" cy="622.8" r="1.1" fill="#a56e2c" opacity="0.85"/>
<circle cx="398.5" cy="706.4" r="1.1" fill="#f0d290" opacity="0.85"/>
<circle cx="227.7" cy="559.2" r="0.7" fill="#e8c47a" opacity="0.85"/>
<circle cx="201.4" cy="695.0" r="1.3" fill="#b07a32" opacity="0.85"/>
<circle cx="340.1" cy="645.0" r="0.9" fill="#f4dca0" opacity="0.85"/>
<circle cx="378.3" cy="651.5" r="0.9" fill="#e8c47a" opacity="0.85"/>
<circle cx="348.4" cy="626.1" r="1.2" fill="#f0d290" opacity="0.85"/>
<circle cx="261.8" cy="629.1" r="1.3" fill="#f4dca0" opacity="0.85"/>
<circle cx="187.7" cy="697.8" r="1.4" fill="#f0d290" opacity="0.85"/>
<circle cx="196.0" cy="640.7" r="1.1" fill="#e8c47a" opacity="0.85"/>
<circle cx="372.6" cy="675.9" r="0.6" fill="#e8c47a" opacity="0.85"/>
<circle cx="385.6" cy="694.9" r="0.6" fill="#a56e2c" opacity="0.85"/>
<circle cx="169.0" cy="681.5" r="0.6" fill="#e8c47a" opacity="0.85"/>
<circle cx="355.4" cy="638.5" r="0.6" fill="#a56e2c" opacity="0.85"/>
<circle cx="185.4" cy="663.5" r="0.8" fill="#b07a32" opacity="0.85"/>
<circle cx="247.5" cy="564.2" r="0.7" fill="#f0d290" opacity="0.85"/>
<circle cx="233.5" cy="655.2" r="1.3" fill="#f0d290" opacity="0.85"/>
<circle cx="360.0" cy="632.4" r="1.3" fill="#a56e2c" opacity="0.85"/>
<circle cx="267.4" cy="599.3" r="0.8" fill="#e8c47a" opacity="0.85"/>
<circle cx="343.2" cy="619.6" r="1.1" fill="#b07a32" opacity="0.85"/>
<circle cx="234.6" cy="599.2" r="0.7" fill="#f4dca0" opacity="0.85"/>
<circle cx="358.2" cy="707.6" r="0.8" fill="#e8c47a" opacity="0.85"/>
<circle cx="184.9" cy="651.0" r="1.4" fill="#b07a32" opacity="0.85"/>
<circle cx="314.1" cy="703.4" r="0.7" fill="#f4dca0" opacity="0.85"/>
<circle cx="215.8" cy="651.9" r="0.6" fill="#a56e2c" opacity="0.85"/>
<circle cx="404.1" cy="665.4" r="1.2" fill="#a56e2c" opacity="0.85"/>
<circle cx="341.3" cy="669.4" r="0.8" fill="#e8c47a" opacity="0.85"/>
<circle cx="184.7" cy="697.7" r="0.6" fill="#e8c47a" opacity="0.85"/>
<circle cx="213.6" cy="564.6" r="1.0" fill="#f4dca0" opacity="0.85"/>
<circle cx="258.6" cy="688.8" r="1.3" fill="#b07a32" opacity="0.85"/>
<circle cx="193.0" cy="630.8" r="1.2" fill="#e8c47a" opacity="0.85"/>
<circle cx="379.2" cy="644.4" r="0.8" fill="#e8c47a" opacity="0.85"/>
<circle cx="280.4" cy="649.8" r="1.0" fill="#f0d290" opacity="0.85"/>
<circle cx="192.8" cy="604.4" r="0.7" fill="#e8c47a" opacity="0.85"/>
<circle cx="209.8" cy="572.3" r="1.2" fill="#e8c47a" opacity="0.85"/>
<circle cx="320.5" cy="656.7" r="1.2" fill="#b07a32" opacity="0.85"/>
<circle cx="221.4" cy="703.2" r="1.4" fill="#f0d290" opacity="0.85"/>
<circle cx="259.9" cy="708.8" r="1.2" fill="#f0d290" opacity="0.85"/>
<circle cx="213.7" cy="589.7" r="0.5" fill="#e8c47a" opacity="0.85"/>
<circle cx="217.8" cy="708.2" r="0.9" fill="#f0d290" opacity="0.85"/>
<circle cx="196.9" cy="632.7" r="0.5" fill="#a56e2c" opacity="0.85"/>
<circle cx="223.0" cy="682.6" r="1.0" fill="#e8c47a" opacity="0.85"/>
<circle cx="219.4" cy="656.4" r="1.1" fill="#e8c47a" opacity="0.85"/>
<circle cx="381.6" cy="647.9" r="0.6" fill="#e8c47a" opacity="0.85"/>
<circle cx="342.2" cy="690.9" r="1.2" fill="#b07a32" opacity="0.85"/>
<circle cx="345.4" cy="637.9" r="1.3" fill="#f0d290" opacity="0.85"/>
<circle cx="331.9" cy="686.6" r="0.8" fill="#e8c47a" opacity="0.85"/>
<circle cx="162.8" cy="678.4" r="0.5" fill="#e8c47a" opacity="0.85"/>
<circle cx="363.3" cy="700.1" r="0.8" fill="#f4dca0" opacity="0.85"/>
<circle cx="213.3" cy="607.1" r="1.1" fill="#e8c47a" opacity="0.85"/>
<circle cx="266.7" cy="701.6" r="1.4" fill="#b07a32" opacity="0.85"/>
<circle cx="207.8" cy="614.8" r="1.2" fill="#e8c47a" opacity="0.85"/>
<circle cx="319.6" cy="639.5" r="0.7" fill="#f0d290" opacity="0.85"/>
<circle cx="268.8" cy="596.1" r="1.1" fill="#e8c47a" opacity="0.85"/>
<circle cx="238.9" cy="592.1" r="1.4" fill="#f4dca0" opacity="0.85"/>
<circle cx="418.5" cy="704.2" r="0.7" fill="#a56e2c" opacity="0.85"/>
<circle cx="193.6" cy="667.3" r="0.7" fill="#e8c47a" opacity="0.85"/>
<circle cx="327.0" cy="656.1" r="0.8" fill="#b07a32" opacity="0.85"/>
<circle cx="326.1" cy="675.7" r="0.9" fill="#a56e2c" opacity="0.85"/>
<circle cx="236.5" cy="621.7" r="1.2" fill="#b07a32" opacity="0.85"/>
<circle cx="282.0" cy="668.7" r="0.7" fill="#b07a32" opacity="0.85"/>
<circle cx="160.7" cy="656.4" r="0.8" fill="#f0d290" opacity="0.85"/>
<circle cx="286.1" cy="636.7" r="1.1" fill="#e8c47a" opacity="0.85"/>
<circle cx="254.2" cy="697.7" r="0.6" fill="#a56e2c" opacity="0.85"/>
<circle cx="375.3" cy="693.2" r="1.0" fill="#b07a32" opacity="0.85"/>
<circle cx="249.7" cy="628.5" r="0.5" fill="#e8c47a" opacity="0.85"/>
<circle cx="197.1" cy="558.7" r="0.8" fill="#a56e2c" opacity="0.85"/>
<circle cx="199.7" cy="692.8" r="0.7" fill="#f4dca0" opacity="0.85"/>
<circle cx="363.1" cy="645.7" r="1.2" fill="#f4dca0" opacity="0.85"/>
<circle cx="340.1" cy="618.2" r="1.3" fill="#e8c47a" opacity="0.85"/>
<circle cx="190.8" cy="595.8" r="0.9" fill="#b07a32" opacity="0.85"/>
<circle cx="304.9" cy="608.9" r="1.1" fill="#b07a32" opacity="0.85"/>
<circle cx="315.9" cy="658.9" r="1.3" fill="#b07a32" opacity="0.85"/>
<circle cx="281.7" cy="624.5" r="0.8" fill="#e8c47a" opacity="0.85"/>
<circle cx="281.1" cy="597.2" r="0.6" fill="#e8c47a" opacity="0.85"/>
<circle cx="325.6" cy="639.2" r="0.5" fill="#e8c47a" opacity="0.85"/>
<circle cx="171.9" cy="659.3" r="1.2" fill="#f0d290" opacity="0.85"/>
<circle cx="184.4" cy="608.8" r="0.5" fill="#b07a32" opacity="0.85"/>
<circle cx="346.7" cy="637.1" r="0.6" fill="#f0d290" opacity="0.85"/>
<circle cx="173.7" cy="569.8" r="1.2" fill="#f0d290" opacity="0.85"/>
<circle cx="265.0" cy="612.7" r="1.3" fill="#f0d290" opacity="0.85"/>
<circle cx="210.0" cy="654.6" r="1.0" fill="#b07a32" opacity="0.85"/>
<circle cx="325.1" cy="668.8" r="0.9" fill="#e8c47a" opacity="0.85"/>
<circle cx="290.2" cy="620.7" r="1.1" fill="#a56e2c" opacity="0.85"/>
<circle cx="323.0" cy="651.3" r="1.3" fill="#f4dca0" opacity="0.85"/>
<circle cx="324.7" cy="637.1" r="0.6" fill="#b07a32" opacity="0.85"/>
<path d="M159 672 C190 668 220 672 250 670 C280 667 310 673 340 670 C365 668 385 670 400 673 L340 716 L159 716 Z" fill="#523a1e"/>
<path d="M159 702 L357 702 L340 716 L159 716 Z" fill="#3e2a14" opacity="0.5"/>
<circle cx="204.9" cy="675.4" r="1.3" fill="#6a4a24"/>
<circle cx="309.3" cy="688.4" r="1.2" fill="#8a6a40"/>
<circle cx="288.7" cy="684.1" r="0.7" fill="#3a2810"/>
<circle cx="172.5" cy="674.8" r="1.1" fill="#b08a58"/>
<circle cx="370.4" cy="676.1" r="1.0" fill="#b08a58"/>
<circle cx="346.4" cy="704.2" r="1.1" fill="#9a7a50"/>
<circle cx="367.1" cy="691.4" r="1.1" fill="#6a4a24"/>
<circle cx="295.6" cy="712.7" r="1.0" fill="#8a6a40"/>
<circle cx="255.7" cy="678.0" r="0.8" fill="#9a7a50"/>
<circle cx="198.4" cy="674.6" r="0.6" fill="#6a4a24"/>
<circle cx="312.3" cy="712.5" r="0.8" fill="#6a4a24"/>
<circle cx="191.7" cy="692.4" r="1.2" fill="#3a2810"/>
<circle cx="218.3" cy="702.6" r="1.3" fill="#8a6a40"/>
<circle cx="245.5" cy="703.1" r="1.2" fill="#8a6a40"/>
<circle cx="183.5" cy="698.5" r="1.0" fill="#9a7a50"/>
<circle cx="370.1" cy="683.9" r="1.2" fill="#6a4a24"/>
<circle cx="167.5" cy="674.6" r="0.7" fill="#b08a58"/>
<circle cx="233.4" cy="702.4" r="1.4" fill="#8a6a40"/>
<circle cx="348.7" cy="697.7" r="0.9" fill="#3a2810"/>
<circle cx="291.5" cy="691.1" r="0.7" fill="#8a6a40"/>
<circle cx="340.4" cy="688.2" r="1.1" fill="#8a6a40"/>
<circle cx="257.0" cy="689.0" r="1.4" fill="#9a7a50"/>
<circle cx="337.6" cy="696.1" r="0.8" fill="#3a2810"/>
<circle cx="301.8" cy="699.4" r="0.9" fill="#b08a58"/>
<circle cx="298.3" cy="712.1" r="1.1" fill="#8a6a40"/>
<circle cx="232.9" cy="690.7" r="0.9" fill="#8a6a40"/>
<circle cx="315.7" cy="697.5" r="1.2" fill="#8a6a40"/>
<circle cx="227.3" cy="674.1" r="0.8" fill="#3a2810"/>
<circle cx="199.6" cy="709.9" r="0.8" fill="#6a4a24"/>
<circle cx="195.9" cy="708.7" r="0.7" fill="#b08a58"/>
<circle cx="285.5" cy="704.3" r="0.9" fill="#9a7a50"/>
<circle cx="183.7" cy="695.6" r="0.8" fill="#9a7a50"/>
<circle cx="330.0" cy="710.3" r="0.8" fill="#8a6a40"/>
<circle cx="177.7" cy="689.4" r="1.3" fill="#8a6a40"/>
<circle cx="294.0" cy="674.4" r="1.0" fill="#9a7a50"/>
<circle cx="184.3" cy="705.5" r="0.8" fill="#6a4a24"/>
<circle cx="292.5" cy="709.0" r="0.9" fill="#b08a58"/>
<circle cx="276.4" cy="681.9" r="0.8" fill="#8a6a40"/>
<circle cx="204.8" cy="701.3" r="1.1" fill="#3a2810"/>
<circle cx="244.0" cy="704.4" r="0.8" fill="#8a6a40"/>
<circle cx="368.0" cy="693.2" r="0.9" fill="#6a4a24"/>
<circle cx="267.0" cy="677.2" r="1.1" fill="#3a2810"/>
<circle cx="240.9" cy="694.3" r="0.7" fill="#6a4a24"/>
<circle cx="210.0" cy="708.0" r="1.0" fill="#b08a58"/>
<circle cx="289.8" cy="684.2" r="0.9" fill="#3a2810"/>
<circle cx="345.1" cy="711.6" r="1.3" fill="#3a2810"/>
<circle cx="239.5" cy="712.8" r="0.7" fill="#9a7a50"/>
<circle cx="176.2" cy="695.7" r="1.0" fill="#9a7a50"/>
<circle cx="354.9" cy="699.0" r="1.2" fill="#6a4a24"/>
<circle cx="184.8" cy="686.4" r="1.1" fill="#8a6a40"/>
<circle cx="251.5" cy="691.5" r="0.9" fill="#8a6a40"/>
<circle cx="216.7" cy="702.1" r="0.6" fill="#8a6a40"/>
<circle cx="221.3" cy="687.7" r="1.3" fill="#b08a58"/>
<circle cx="349.2" cy="675.8" r="1.2" fill="#b08a58"/>
<circle cx="307.3" cy="712.4" r="0.7" fill="#6a4a24"/>
<circle cx="234.9" cy="674.2" r="1.1" fill="#8a6a40"/>
<circle cx="230.7" cy="697.1" r="1.0" fill="#6a4a24"/>
<circle cx="246.8" cy="689.2" r="1.0" fill="#3a2810"/>
<circle cx="202.1" cy="683.3" r="1.3" fill="#8a6a40"/>
<circle cx="361.3" cy="692.2" r="1.2" fill="#8a6a40"/>
<circle cx="199.5" cy="706.5" r="1.3" fill="#6a4a24"/>
<circle cx="195.7" cy="691.4" r="1.3" fill="#6a4a24"/>
<circle cx="249.7" cy="674.8" r="1.0" fill="#6a4a24"/>
<circle cx="239.8" cy="706.1" r="0.7" fill="#9a7a50"/>
<circle cx="245.5" cy="686.9" r="0.7" fill="#6a4a24"/>
<circle cx="264.3" cy="708.7" r="1.3" fill="#9a7a50"/>
<circle cx="223.6" cy="690.1" r="0.6" fill="#8a6a40"/>
<circle cx="290.6" cy="685.6" r="0.8" fill="#8a6a40"/>
<circle cx="189.0" cy="691.8" r="0.7" fill="#9a7a50"/>
<circle cx="380.3" cy="676.2" r="1.0" fill="#8a6a40"/>
<circle cx="348.8" cy="678.6" r="1.4" fill="#8a6a40"/>
<circle cx="260.1" cy="684.2" r="1.3" fill="#8a6a40"/>
<circle cx="186.5" cy="685.3" r="0.6" fill="#8a6a40"/>
<circle cx="324.8" cy="685.4" r="1.0" fill="#6a4a24"/>
<circle cx="276.7" cy="693.9" r="0.6" fill="#9a7a50"/>
<circle cx="348.1" cy="694.5" r="0.9" fill="#8a6a40"/>
<circle cx="173.9" cy="689.9" r="1.1" fill="#3a2810"/>
<circle cx="195.4" cy="681.0" r="1.2" fill="#8a6a40"/>
<circle cx="208.3" cy="677.1" r="1.3" fill="#6a4a24"/>
<circle cx="325.8" cy="703.7" r="0.8" fill="#8a6a40"/>
<circle cx="299.7" cy="701.6" r="1.1" fill="#8a6a40"/>
<circle cx="209.5" cy="676.6" r="0.9" fill="#b08a58"/>
<circle cx="323.8" cy="676.2" r="0.9" fill="#3a2810"/>
<circle cx="350.2" cy="707.7" r="0.7" fill="#9a7a50"/>
<circle cx="255.1" cy="703.8" r="1.3" fill="#8a6a40"/>
<circle cx="223.6" cy="681.3" r="0.6" fill="#3a2810"/>
<circle cx="319.5" cy="696.4" r="0.9" fill="#6a4a24"/>
<circle cx="180.7" cy="687.9" r="1.3" fill="#8a6a40"/>
<circle cx="355.4" cy="686.5" r="1.1" fill="#9a7a50"/>
<circle cx="362.6" cy="685.4" r="1.4" fill="#6a4a24"/>
<circle cx="273.9" cy="694.0" r="1.2" fill="#b08a58"/>
<circle cx="194.6" cy="683.5" r="0.8" fill="#6a4a24"/>
<circle cx="205.1" cy="678.0" r="1.0" fill="#3a2810"/>
<circle cx="375.2" cy="674.8" r="0.8" fill="#8a6a40"/>
<circle cx="349.2" cy="698.8" r="1.0" fill="#9a7a50"/>
<circle cx="319.6" cy="678.0" r="1.2" fill="#6a4a24"/>
<circle cx="174.9" cy="678.8" r="1.1" fill="#9a7a50"/>
<circle cx="332.5" cy="678.3" r="0.9" fill="#6a4a24"/>
<circle cx="195.1" cy="697.1" r="0.7" fill="#8a6a40"/>
<circle cx="291.0" cy="703.1" r="1.4" fill="#8a6a40"/>
<circle cx="169.1" cy="698.8" r="1.1" fill="#9a7a50"/>
<circle cx="297.6" cy="675.4" r="1.2" fill="#6a4a24"/>
<circle cx="239.5" cy="683.4" r="1.2" fill="#3a2810"/>
<circle cx="350.5" cy="696.0" r="1.3" fill="#3a2810"/>
<circle cx="351.5" cy="676.1" r="0.7" fill="#b08a58"/>
<circle cx="314.6" cy="687.8" r="1.1" fill="#9a7a50"/>
<circle cx="167.5" cy="678.3" r="0.7" fill="#8a6a40"/>
<circle cx="260.3" cy="693.7" r="0.8" fill="#6a4a24"/>
<circle cx="257.6" cy="689.5" r="1.1" fill="#9a7a50"/>
<circle cx="343.0" cy="708.5" r="0.6" fill="#6a4a24"/>
<circle cx="306.1" cy="684.4" r="0.8" fill="#b08a58"/>
<circle cx="284.3" cy="710.1" r="0.7" fill="#b08a58"/>
<circle cx="191.8" cy="674.5" r="1.4" fill="#8a6a40"/>
<circle cx="228.3" cy="685.9" r="0.7" fill="#8a6a40"/>
<circle cx="295.7" cy="711.3" r="1.3" fill="#b08a58"/>
<circle cx="183.6" cy="697.0" r="1.0" fill="#8a6a40"/>
<circle cx="277.6" cy="708.5" r="1.1" fill="#9a7a50"/>
<circle cx="225.3" cy="702.7" r="0.8" fill="#b08a58"/>
<circle cx="264.9" cy="701.1" r="1.1" fill="#8a6a40"/>
<circle cx="209.3" cy="701.7" r="1.3" fill="#9a7a50"/>
<circle cx="231.8" cy="692.6" r="0.6" fill="#3a2810"/>
<circle cx="238.4" cy="681.4" r="0.9" fill="#b08a58"/>
<circle cx="293.9" cy="674.5" r="0.7" fill="#3a2810"/>
<circle cx="374.5" cy="686.6" r="1.0" fill="#3a2810"/>
<circle cx="227.7" cy="712.5" r="0.6" fill="#3a2810"/>
<circle cx="169.8" cy="695.5" r="1.3" fill="#b08a58"/>
<circle cx="261.8" cy="676.4" r="1.3" fill="#9a7a50"/>
<circle cx="242.9" cy="703.8" r="0.8" fill="#b08a58"/>
<circle cx="199.0" cy="687.1" r="0.7" fill="#3a2810"/>
<circle cx="209.5" cy="697.8" r="1.3" fill="#3a2810"/>
<circle cx="278.9" cy="702.8" r="0.8" fill="#9a7a50"/>
<circle cx="303.7" cy="698.7" r="0.9" fill="#8a6a40"/>
<circle cx="187.7" cy="690.0" r="1.1" fill="#b08a58"/>
<ellipse cx="192.9" cy="549.5" rx="9.0" ry="9.0" fill="#8e6226" stroke="#5a3e14" stroke-width="1"/><ellipse cx="192.9" cy="549.5" rx="9.0" ry="9.0" fill="url(#ballShade)"/>
<ellipse cx="237.4" cy="618.7" rx="9.0" ry="9.0" fill="#8e6226" stroke="#5a3e14" stroke-width="1"/><ellipse cx="237.4" cy="618.7" rx="9.0" ry="9.0" fill="url(#ballShade)"/>
<ellipse cx="351.5" cy="638.8" rx="9.0" ry="9.0" fill="#8e6226" stroke="#5a3e14" stroke-width="1"/><ellipse cx="351.5" cy="638.8" rx="9.0" ry="9.0" fill="url(#ballShade)"/>
<ellipse cx="174.7" cy="527.6" rx="4.0" ry="4.0" fill="#8e6226" stroke="#5a3e14" stroke-width="1"/><ellipse cx="174.7" cy="527.6" rx="4.0" ry="4.0" fill="url(#ballShade)"/>
<ellipse cx="221.3" cy="537.8" rx="5.0" ry="5.0" fill="#8e6226" stroke="#5a3e14" stroke-width="1"/><ellipse cx="221.3" cy="537.8" rx="5.0" ry="5.0" fill="url(#ballShade)"/>
<ellipse cx="311.4" cy="598.7" rx="5.0" ry="5.0" fill="#8e6226" stroke="#5a3e14" stroke-width="1"/><ellipse cx="311.4" cy="598.7" rx="5.0" ry="5.0" fill="url(#ballShade)"/>
<ellipse cx="267.6" cy="609.6" rx="3.0" ry="3.0" fill="#8e6226" stroke="#5a3e14" stroke-width="0.6"/><ellipse cx="267.6" cy="609.6" rx="3.0" ry="3.0" fill="url(#ballShade)"/>
<ellipse cx="280.4" cy="651.5" rx="4.0" ry="4.0" fill="#8e6226" stroke="#5a3e14" stroke-width="1"/><ellipse cx="280.4" cy="651.5" rx="4.0" ry="4.0" fill="url(#ballShade)"/>
<ellipse cx="291.0" cy="607.8" rx="4.0" ry="4.0" fill="#8e6226" stroke="#5a3e14" stroke-width="1"/><ellipse cx="291.0" cy="607.8" rx="4.0" ry="4.0" fill="url(#ballShade)"/>
<ellipse cx="236.7" cy="598.7" rx="3.0" ry="3.0" fill="#8e6226" stroke="#5a3e14" stroke-width="0.6"/><ellipse cx="236.7" cy="598.7" rx="3.0" ry="3.0" fill="url(#ballShade)"/>
<ellipse cx="378.8" cy="651.5" rx="4.0" ry="4.0" fill="#8e6226" stroke="#5a3e14" stroke-width="1"/><ellipse cx="378.8" cy="651.5" rx="4.0" ry="4.0" fill="url(#ballShade)"/>
<ellipse cx="178.3" cy="607.8" rx="4.0" ry="4.0" fill="#8e6226" stroke="#5a3e14" stroke-width="1"/><ellipse cx="178.3" cy="607.8" rx="4.0" ry="4.0" fill="url(#ballShade)"/>
<ellipse cx="209.3" cy="604.2" rx="9.0" ry="9.0" fill="#4e9c32" stroke="#2f6a1c" stroke-width="1"/><ellipse cx="209.3" cy="604.2" rx="9.0" ry="9.0" fill="url(#ballShade)"/>
<ellipse cx="223.9" cy="647.9" rx="7.0" ry="7.0" fill="#4e9c32" stroke="#2f6a1c" stroke-width="1"/><ellipse cx="223.9" cy="647.9" rx="7.0" ry="7.0" fill="url(#ballShade)"/>
<ellipse cx="265.8" cy="633.3" rx="7.0" ry="7.0" fill="#4e9c32" stroke="#2f6a1c" stroke-width="1"/><ellipse cx="265.8" cy="633.3" rx="7.0" ry="7.0" fill="url(#ballShade)"/>
<ellipse cx="327.8" cy="611.4" rx="3.0" ry="3.0" fill="#4e9c32" stroke="#2f6a1c" stroke-width="0.6"/><ellipse cx="327.8" cy="611.4" rx="3.0" ry="3.0" fill="url(#ballShade)"/>
<ellipse cx="340.6" cy="662.5" rx="6.0" ry="4.5" fill="#4e9c32" stroke="#2f6a1c" stroke-width="1" transform="rotate(20 340.6 662.5)"/><ellipse cx="340.6" cy="662.5" rx="6.0" ry="4.5" fill="url(#ballShade)" transform="rotate(20 340.6 662.5)"/>
<path d="M239.5 568.1 Q240.5 569.5 239.8 570.9 Q239.1 572.4 239.1 574.0 Q239.0 575.5 237.6 576.4 Q236.2 577.2 235.6 578.8 Q235.0 580.3 233.4 580.5 Q231.7 580.6 230.4 581.5 Q229.1 582.4 227.6 581.7 Q226.1 581.0 224.5 581.3 Q222.9 581.6 221.9 580.3 Q220.9 579.1 219.3 578.6 Q217.7 578.2 217.5 576.5 Q217.3 574.8 216.2 573.7 Q215.0 572.6 215.4 571.0 Q215.8 569.5 215.4 568.0 Q215.0 566.4 216.2 565.3 Q217.3 564.2 217.5 562.5 Q217.6 560.8 219.2 560.2 Q220.7 559.7 221.8 558.5 Q222.9 557.4 224.5 557.7 Q226.1 558.0 227.6 557.4 Q229.0 556.9 230.3 557.8 Q231.6 558.7 233.1 558.9 Q234.7 559.0 235.5 560.4 Q236.3 561.7 237.6 562.6 Q239.0 563.4 238.8 565.1 Q238.5 566.8 239.5 568.1Z" fill="#6a3a18" stroke="#00000040" stroke-width="1"/><circle cx="227.5" cy="569.5" r="12" fill="url(#ballShade)"/><circle cx="229.9" cy="568.2" r="2.4" fill="#8a5228"/><circle cx="231.7" cy="562.7" r="1.5" fill="#8a5228"/><circle cx="220.7" cy="572.9" r="1.2" fill="#8a5228"/><circle cx="232.0" cy="570.9" r="1.9" fill="#8a5228"/><circle cx="233.2" cy="566.4" r="2.0" fill="#8a5228"/><circle cx="231.8" cy="569.5" r="1.9" fill="#8a5228"/><circle cx="226.2" cy="566.5" r="1.7" fill="#8a5228"/><circle cx="225.1" cy="567.8" r="2.6" fill="#8a5228"/><circle cx="225.5" cy="565.6" r="1.3" fill="#8a5228"/>
<path d="M323.3 629.9 Q323.5 631.5 322.7 632.9 Q321.8 634.4 322.0 636.1 Q322.2 637.8 320.7 638.7 Q319.3 639.6 318.7 641.3 Q318.2 643.0 316.4 643.2 Q314.7 643.4 313.4 644.4 Q312.0 645.3 310.5 644.7 Q308.9 644.0 307.2 644.5 Q305.5 645.0 304.3 643.9 Q303.1 642.8 301.6 642.2 Q300.0 641.6 299.5 640.0 Q299.0 638.4 297.6 637.4 Q296.2 636.4 296.8 634.7 Q297.3 632.9 296.6 631.4 Q295.8 629.9 296.6 628.5 Q297.4 627.1 297.5 625.4 Q297.7 623.6 299.3 623.0 Q300.9 622.3 301.8 621.0 Q302.7 619.6 304.3 619.4 Q305.9 619.1 307.3 618.2 Q308.8 617.3 310.3 618.1 Q311.8 618.8 313.6 618.5 Q315.3 618.3 316.3 619.7 Q317.3 621.1 318.8 621.8 Q320.3 622.5 320.5 624.2 Q320.6 626.0 321.9 627.1 Q323.1 628.3 323.3 629.9Z" fill="#6e3e1c" stroke="#00000040" stroke-width="1"/><circle cx="309.6" cy="631.5" r="13" fill="url(#ballShade)"/><circle cx="305.0" cy="631.2" r="1.6" fill="#8e5a2c"/><circle cx="312.0" cy="636.7" r="2.2" fill="#8e5a2c"/><circle cx="304.1" cy="638.7" r="2.3" fill="#8e5a2c"/><circle cx="313.2" cy="632.5" r="2.5" fill="#8e5a2c"/><circle cx="307.4" cy="637.4" r="1.3" fill="#8e5a2c"/><circle cx="307.0" cy="638.7" r="2.2" fill="#8e5a2c"/><circle cx="308.7" cy="629.9" r="2.1" fill="#8e5a2c"/><circle cx="307.3" cy="630.7" r="2.3" fill="#8e5a2c"/><circle cx="300.7" cy="629.7" r="2.2" fill="#8e5a2c"/><circle cx="308.7" cy="632.1" r="1.5" fill="#8e5a2c"/>
<path d="M260.1 671.9 Q261.1 673.4 259.9 674.9 Q258.7 676.3 258.9 678.1 Q259.1 679.8 257.7 680.8 Q256.2 681.7 255.7 683.5 Q255.2 685.2 253.5 685.6 Q251.8 685.9 250.5 687.1 Q249.2 688.2 247.5 687.7 Q245.8 687.2 244.2 687.5 Q242.5 687.8 241.3 686.5 Q240.1 685.3 238.2 685.3 Q236.2 685.4 235.8 683.6 Q235.3 681.8 233.7 680.9 Q232.0 680.0 232.3 678.2 Q232.7 676.4 231.8 674.9 Q231.0 673.4 231.9 671.9 Q232.8 670.4 232.6 668.7 Q232.5 667.0 233.7 665.9 Q234.9 664.7 235.6 663.1 Q236.3 661.5 238.1 661.4 Q240.0 661.3 241.2 660.0 Q242.4 658.7 244.1 659.3 Q245.8 659.9 247.4 659.5 Q249.1 659.0 250.5 659.9 Q251.8 660.9 253.6 661.2 Q255.3 661.5 256.0 663.1 Q256.7 664.7 258.0 665.8 Q259.4 666.9 259.3 668.6 Q259.1 670.4 260.1 671.9Z" fill="#9a5a28" stroke="#00000040" stroke-width="1"/><circle cx="245.8" cy="673.4" r="14" fill="url(#ballShade)"/><circle cx="245.8" cy="673.8" r="3.0" fill="#b47038"/><circle cx="247.7" cy="671.0" r="2.9" fill="#b47038"/><circle cx="247.0" cy="670.7" r="2.4" fill="#b47038"/><circle cx="250.5" cy="672.2" r="3.0" fill="#b47038"/><circle cx="246.0" cy="677.2" r="2.6" fill="#b47038"/><circle cx="246.3" cy="676.4" r="2.9" fill="#b47038"/><circle cx="238.1" cy="674.2" r="1.8" fill="#b47038"/><circle cx="247.4" cy="676.5" r="1.7" fill="#b47038"/><circle cx="248.6" cy="672.9" r="2.3" fill="#b47038"/><circle cx="249.7" cy="676.9" r="2.0" fill="#b47038"/><circle cx="245.3" cy="673.8" r="1.6" fill="#b47038"/>
<path d="M277.9 586.1 Q278.3 587.7 277.2 589.1 Q276.2 590.6 276.3 592.2 Q276.4 593.9 274.9 594.8 Q273.5 595.7 272.9 597.2 Q272.3 598.8 270.6 599.0 Q268.9 599.1 267.6 600.1 Q266.4 601.2 264.8 600.8 Q263.3 600.4 261.6 600.7 Q260.0 601.0 258.9 599.7 Q257.8 598.4 256.0 598.2 Q254.3 598.0 254.0 596.2 Q253.7 594.5 252.4 593.4 Q251.0 592.4 251.1 590.8 Q251.2 589.2 250.8 587.6 Q250.3 586.1 251.3 584.8 Q252.2 583.4 252.1 581.6 Q252.1 579.8 253.6 579.1 Q255.2 578.4 256.1 577.1 Q257.1 575.8 258.8 575.8 Q260.4 575.7 261.8 574.6 Q263.2 573.5 264.7 574.4 Q266.2 575.4 267.9 574.9 Q269.7 574.5 270.5 576.1 Q271.4 577.8 273.2 578.1 Q275.0 578.4 275.1 580.2 Q275.3 582.0 276.4 583.3 Q277.5 584.5 277.9 586.1Z" fill="#4a9a30" stroke="#2f6a1c" stroke-width="1"/><circle cx="264" cy="587.7" r="13" fill="url(#ballShade)"/><circle cx="262.9" cy="588.0" r="2.4" fill="#68b444"/><circle cx="263.4" cy="595.9" r="2.2" fill="#68b444"/><circle cx="262.5" cy="589.4" r="2.2" fill="#68b444"/><circle cx="265.9" cy="595.4" r="1.5" fill="#68b444"/><circle cx="259.1" cy="587.3" r="1.7" fill="#68b444"/><circle cx="264.5" cy="584.2" r="2.3" fill="#68b444"/><circle cx="261.4" cy="586.5" r="1.9" fill="#68b444"/><circle cx="265.4" cy="588.5" r="2.6" fill="#68b444"/><circle cx="261.4" cy="593.1" r="1.5" fill="#68b444"/><circle cx="261.0" cy="586.5" r="2.1" fill="#68b444"/>
<path d="M207.2 637.3 Q207.8 638.8 206.8 640.3 Q205.8 641.7 206.1 643.5 Q206.4 645.3 204.9 646.2 Q203.3 647.1 202.7 648.7 Q202.1 650.4 200.5 650.8 Q198.9 651.2 197.5 652.3 Q196.2 653.4 194.6 652.8 Q192.9 652.3 191.2 653.1 Q189.5 653.9 188.2 652.6 Q186.9 651.2 185.1 651.1 Q183.3 650.9 182.7 649.2 Q182.0 647.5 180.8 646.3 Q179.6 645.2 179.7 643.5 Q179.8 641.8 179.0 640.3 Q178.2 638.8 178.8 637.3 Q179.5 635.7 179.3 634.0 Q179.2 632.2 180.8 631.3 Q182.4 630.4 182.9 628.7 Q183.5 627.0 185.2 626.7 Q186.9 626.4 188.2 625.2 Q189.5 623.9 191.2 624.7 Q192.9 625.4 194.6 624.6 Q196.3 623.8 197.5 625.2 Q198.7 626.7 200.6 626.8 Q202.4 626.9 202.9 628.7 Q203.3 630.5 204.8 631.4 Q206.2 632.4 206.4 634.0 Q206.5 635.7 207.2 637.3Z" fill="#4a9a30" stroke="#2f6a1c" stroke-width="1"/><circle cx="192.9" cy="638.8" r="14" fill="url(#ballShade)"/><circle cx="192.2" cy="631.9" r="1.5" fill="#68b444"/><circle cx="194.4" cy="639.2" r="1.7" fill="#68b444"/><circle cx="191.7" cy="642.3" r="1.5" fill="#68b444"/><circle cx="190.6" cy="644.6" r="1.7" fill="#68b444"/><circle cx="195.9" cy="634.1" r="2.6" fill="#68b444"/><circle cx="192.8" cy="643.1" r="2.5" fill="#68b444"/><circle cx="192.9" cy="638.8" r="2.8" fill="#68b444"/><circle cx="193.4" cy="636.0" r="1.5" fill="#68b444"/><circle cx="196.5" cy="634.1" r="1.5" fill="#68b444"/><circle cx="192.9" cy="639.9" r="2.7" fill="#68b444"/><circle cx="195.1" cy="647.5" r="2.7" fill="#68b444"/>
<path d="M310.5 671.8 Q310.5 673.4 309.9 674.9 Q309.2 676.3 309.2 678.0 Q309.3 679.7 307.9 680.6 Q306.6 681.6 306.0 683.2 Q305.3 684.9 303.5 684.8 Q301.7 684.8 300.5 685.9 Q299.2 686.9 297.6 686.6 Q296.0 686.3 294.4 686.6 Q292.8 686.8 291.6 685.7 Q290.3 684.6 288.7 684.2 Q287.1 683.7 286.6 682.1 Q286.1 680.4 284.7 679.4 Q283.4 678.3 283.8 676.6 Q284.2 674.9 283.5 673.3 Q282.9 671.8 284.1 670.5 Q285.3 669.2 285.1 667.4 Q284.9 665.6 286.6 664.9 Q288.2 664.3 289.0 662.8 Q289.8 661.2 291.4 661.1 Q293.1 661.0 294.5 660.3 Q296.0 659.7 297.5 660.2 Q299.0 660.8 300.6 660.8 Q302.2 660.8 303.3 662.0 Q304.4 663.2 306.1 663.7 Q307.7 664.2 307.8 666.0 Q307.9 667.8 309.2 669.0 Q310.5 670.2 310.5 671.8Z" fill="#4a9a30" stroke="#2f6a1c" stroke-width="1"/><circle cx="296.8" cy="673.4" r="13" fill="url(#ballShade)"/><circle cx="302.5" cy="672.3" r="2.1" fill="#68b444"/><circle cx="296.8" cy="673.9" r="1.9" fill="#68b444"/><circle cx="295.2" cy="674.4" r="1.8" fill="#68b444"/><circle cx="301.0" cy="678.3" r="2.3" fill="#68b444"/><circle cx="297.0" cy="675.6" r="2.1" fill="#68b444"/><circle cx="288.8" cy="676.3" r="1.8" fill="#68b444"/><circle cx="294.3" cy="681.1" r="1.5" fill="#68b444"/><circle cx="294.0" cy="672.2" r="2.6" fill="#68b444"/><circle cx="290.2" cy="671.3" r="1.6" fill="#68b444"/><circle cx="294.1" cy="668.7" r="2.0" fill="#68b444"/>
<ellipse cx="322.3" cy="689.8" rx="3.0" ry="3.0" fill="#d8c8a0" stroke="#6a5030" stroke-width="0.6"/><ellipse cx="322.3" cy="689.8" rx="3.0" ry="3.0" fill="url(#ballShade)"/>
<ellipse cx="340.6" cy="691.6" rx="4.0" ry="4.0" fill="#e6dcc0" stroke="#6a5030" stroke-width="1"/><ellipse cx="340.6" cy="691.6" rx="4.0" ry="4.0" fill="url(#ballShade)"/>
<ellipse cx="280.4" cy="704.4" rx="6.0" ry="3.0" fill="#e0d4b4" stroke="#6a5030" stroke-width="1"/><ellipse cx="280.4" cy="704.4" rx="6.0" ry="3.0" fill="url(#ballShade)"/>
<ellipse cx="305.9" cy="700.8" rx="5.0" ry="4.0" fill="#a8702c" stroke="#6a5030" stroke-width="1"/><ellipse cx="305.9" cy="700.8" rx="5.0" ry="4.0" fill="url(#ballShade)"/>
<ellipse cx="260.0" cy="700.0" rx="3.0" ry="3.0" fill="#c09050" stroke="#6a5030" stroke-width="0.6"/><ellipse cx="260.0" cy="700.0" rx="3.0" ry="3.0" fill="url(#ballShade)"/>
<ellipse cx="200.0" cy="690.0" rx="3.0" ry="2.0" fill="#9a7040" stroke="#6a5030" stroke-width="0.6"/><ellipse cx="200.0" cy="690.0" rx="3.0" ry="2.0" fill="url(#ballShade)"/>
<ellipse cx="171.0" cy="485.7" rx="3.0" ry="3.0" fill="#8a5a28" stroke="#5e3a16" stroke-width="0.6"/><ellipse cx="171.0" cy="485.7" rx="3.0" ry="3.0" fill="url(#ballShade)"/>
<ellipse cx="198.4" cy="495.5" rx="4.0" ry="4.0" fill="#8a5a28" stroke="#5e3a16" stroke-width="1"/><ellipse cx="198.4" cy="495.5" rx="4.0" ry="4.0" fill="url(#ballShade)"/>
<ellipse cx="211.1" cy="499.2" rx="2.5" ry="2.5" fill="#8a5a28" stroke="#5e3a16" stroke-width="0.6"/><ellipse cx="211.1" cy="499.2" rx="2.5" ry="2.5" fill="url(#ballShade)"/>
<ellipse cx="234.8" cy="505.7" rx="4.5" ry="4.5" fill="#8a5a28" stroke="#5e3a16" stroke-width="1"/><ellipse cx="234.8" cy="505.7" rx="4.5" ry="4.5" fill="url(#ballShade)"/>
<ellipse cx="257.8" cy="505.0" rx="4.0" ry="4.0" fill="#8a5a28" stroke="#5e3a16" stroke-width="1"/><ellipse cx="257.8" cy="505.0" rx="4.0" ry="4.0" fill="url(#ballShade)"/>
<ellipse cx="324.2" cy="511.2" rx="4.5" ry="4.5" fill="#8a5a28" stroke="#5e3a16" stroke-width="1"/><ellipse cx="324.2" cy="511.2" rx="4.5" ry="4.5" fill="url(#ballShade)"/>
<ellipse cx="346.0" cy="506.5" rx="4.5" ry="4.5" fill="#8a5a28" stroke="#5e3a16" stroke-width="1"/><ellipse cx="346.0" cy="506.5" rx="4.5" ry="4.5" fill="url(#ballShade)"/>
<ellipse cx="370.8" cy="504.6" rx="4.5" ry="4.5" fill="#8a5a28" stroke="#5e3a16" stroke-width="1"/><ellipse cx="370.8" cy="504.6" rx="4.5" ry="4.5" fill="url(#ballShade)"/>
<ellipse cx="391.6" cy="504.6" rx="3.0" ry="3.0" fill="#8a5a28" stroke="#5e3a16" stroke-width="0.6"/><ellipse cx="391.6" cy="504.6" rx="3.0" ry="3.0" fill="url(#ballShade)"/>
<ellipse cx="414.6" cy="497.7" rx="2.5" ry="2.5" fill="#8a5a28" stroke="#5e3a16" stroke-width="0.6"/><ellipse cx="414.6" cy="497.7" rx="2.5" ry="2.5" fill="url(#ballShade)"/>
<ellipse cx="291.3" cy="545.8" rx="4.0" ry="4.0" fill="#8a5a28" stroke="#5e3a16" stroke-width="1"/><ellipse cx="291.3" cy="545.8" rx="4.0" ry="4.0" fill="url(#ballShade)"/>
<ellipse cx="338.7" cy="569.5" rx="4.0" ry="4.0" fill="#8a5a28" stroke="#5e3a16" stroke-width="1"/><ellipse cx="338.7" cy="569.5" rx="4.0" ry="4.0" fill="url(#ballShade)"/>
<ellipse cx="435.3" cy="530.2" rx="5.0" ry="5.0" fill="#8a5a28" stroke="#5e3a16" stroke-width="1"/><ellipse cx="435.3" cy="530.2" rx="5.0" ry="5.0" fill="url(#ballShade)"/>
<ellipse cx="450.0" cy="555.0" rx="3.0" ry="3.0" fill="#8a5a28" stroke="#5e3a16" stroke-width="0.6"/><ellipse cx="450.0" cy="555.0" rx="3.0" ry="3.0" fill="url(#ballShade)"/>
<ellipse cx="533.8" cy="547.6" rx="3.0" ry="3.0" fill="#8a5a28" stroke="#5e3a16" stroke-width="0.6"/><ellipse cx="533.8" cy="547.6" rx="3.0" ry="3.0" fill="url(#ballShade)"/>
<ellipse cx="535.6" cy="568.4" rx="4.0" ry="4.0" fill="#8a5a28" stroke="#5e3a16" stroke-width="1"/><ellipse cx="535.6" cy="568.4" rx="4.0" ry="4.0" fill="url(#ballShade)"/>
<ellipse cx="571.0" cy="542.2" rx="4.0" ry="4.0" fill="#8a5a28" stroke="#5e3a16" stroke-width="1"/><ellipse cx="571.0" cy="542.2" rx="4.0" ry="4.0" fill="url(#ballShade)"/>
<ellipse cx="344.2" cy="593.2" rx="4.0" ry="4.0" fill="#8a5a28" stroke="#5e3a16" stroke-width="1"/><ellipse cx="344.2" cy="593.2" rx="4.0" ry="4.0" fill="url(#ballShade)"/>
<ellipse cx="358.8" cy="618.7" rx="3.0" ry="3.0" fill="#8a5a28" stroke="#5e3a16" stroke-width="0.6"/><ellipse cx="358.8" cy="618.7" rx="3.0" ry="3.0" fill="url(#ballShade)"/>
<ellipse cx="411.7" cy="646.0" rx="3.0" ry="3.0" fill="#8a5a28" stroke="#5e3a16" stroke-width="0.6"/><ellipse cx="411.7" cy="646.0" rx="3.0" ry="3.0" fill="url(#ballShade)"/>
<ellipse cx="382.5" cy="642.4" rx="3.0" ry="3.0" fill="#8a5a28" stroke="#5e3a16" stroke-width="0.6"/><ellipse cx="382.5" cy="642.4" rx="3.0" ry="3.0" fill="url(#ballShade)"/>
<ellipse cx="418.9" cy="584.1" rx="4.0" ry="4.0" fill="#8a5a28" stroke="#5e3a16" stroke-width="1"/><ellipse cx="418.9" cy="584.1" rx="4.0" ry="4.0" fill="url(#ballShade)"/>
<ellipse cx="385.4" cy="541.5" rx="9.0" ry="9.0" fill="#a8642a" stroke="#6e3e16" stroke-width="1"/><ellipse cx="385.4" cy="541.5" rx="9.0" ry="9.0" fill="url(#ballShade)"/>
<ellipse cx="462.0" cy="530.5" rx="7.0" ry="7.0" fill="#a8642a" stroke="#6e3e16" stroke-width="1"/><ellipse cx="462.0" cy="530.5" rx="7.0" ry="7.0" fill="url(#ballShade)"/>
<ellipse cx="464.5" cy="569.5" rx="10.0" ry="10.0" fill="#a8642a" stroke="#6e3e16" stroke-width="1"/><ellipse cx="464.5" cy="569.5" rx="10.0" ry="10.0" fill="url(#ballShade)"/>
<ellipse cx="556.8" cy="529.4" rx="8.0" ry="8.0" fill="#a8642a" stroke="#6e3e16" stroke-width="1"/><ellipse cx="556.8" cy="529.4" rx="8.0" ry="8.0" fill="url(#ballShade)"/>
<ellipse cx="439.0" cy="609.6" rx="10.0" ry="10.0" fill="#a8642a" stroke="#6e3e16" stroke-width="1"/><ellipse cx="439.0" cy="609.6" rx="10.0" ry="10.0" fill="url(#ballShade)"/>
<ellipse cx="278.6" cy="509.4" rx="5.0" ry="5.0" fill="#4e9c32" stroke="#2f6a1c" stroke-width="1"/><ellipse cx="278.6" cy="509.4" rx="5.0" ry="5.0" fill="url(#ballShade)"/>
<ellipse cx="271.3" cy="536.7" rx="6.0" ry="6.0" fill="#4e9c32" stroke="#2f6a1c" stroke-width="1"/><ellipse cx="271.3" cy="536.7" rx="6.0" ry="6.0" fill="url(#ballShade)"/>
<ellipse cx="355.1" cy="551.3" rx="7.0" ry="7.0" fill="#4e9c32" stroke="#2f6a1c" stroke-width="1"/><ellipse cx="355.1" cy="551.3" rx="7.0" ry="7.0" fill="url(#ballShade)"/>
<ellipse cx="487.5" cy="550.6" rx="9.0" ry="9.0" fill="#4e9c32" stroke="#2f6a1c" stroke-width="1"/><ellipse cx="487.5" cy="550.6" rx="9.0" ry="9.0" fill="url(#ballShade)"/>
<ellipse cx="508.3" cy="569.5" rx="8.0" ry="8.0" fill="#4e9c32" stroke="#2f6a1c" stroke-width="1"/><ellipse cx="508.3" cy="569.5" rx="8.0" ry="8.0" fill="url(#ballShade)"/>
<ellipse cx="513.7" cy="545.8" rx="6.0" ry="6.0" fill="#4e9c32" stroke="#2f6a1c" stroke-width="1"/><ellipse cx="513.7" cy="545.8" rx="6.0" ry="6.0" fill="url(#ballShade)"/>
<ellipse cx="484.6" cy="578.6" rx="3.0" ry="3.0" fill="#4e9c32" stroke="#2f6a1c" stroke-width="0.6"/><ellipse cx="484.6" cy="578.6" rx="3.0" ry="3.0" fill="url(#ballShade)"/>
<ellipse cx="442.6" cy="586.0" rx="4.0" ry="4.0" fill="#4e9c32" stroke="#2f6a1c" stroke-width="1"/><ellipse cx="442.6" cy="586.0" rx="4.0" ry="4.0" fill="url(#ballShade)"/>
<ellipse cx="407.3" cy="606.0" rx="9.0" ry="9.0" fill="#4e9c32" stroke="#2f6a1c" stroke-width="1"/><ellipse cx="407.3" cy="606.0" rx="9.0" ry="9.0" fill="url(#ballShade)"/>
<ellipse cx="588.5" cy="536.7" rx="6.0" ry="8.0" fill="#5aa23a" stroke="#2f6a1c" stroke-width="1"/><ellipse cx="588.5" cy="536.7" rx="6.0" ry="8.0" fill="url(#ballShade)"/>
<ellipse cx="429.9" cy="629.7" rx="6.0" ry="4.5" fill="#4e9c32" stroke="#2f6a1c" stroke-width="1" transform="rotate(15 429.9 629.7)"/><ellipse cx="429.9" cy="629.7" rx="6.0" ry="4.5" fill="url(#ballShade)" transform="rotate(15 429.9 629.7)"/>
<ellipse cx="552.0" cy="556.0" rx="6.0" ry="6.0" fill="#8a8a28" stroke="#5a5a18" stroke-width="1"/><ellipse cx="552.0" cy="556.0" rx="6.0" ry="6.0" fill="url(#ballShade)"/>
<ellipse cx="400.7" cy="629.7" rx="5.0" ry="5.0" fill="#8a8a28" stroke="#5a5a18" stroke-width="1"/><ellipse cx="400.7" cy="629.7" rx="5.0" ry="5.0" fill="url(#ballShade)"/>
<ellipse cx="398.9" cy="576.1" rx="3.0" ry="3.0" fill="#8a8a28" stroke="#5a5a18" stroke-width="0.6"/><ellipse cx="398.9" cy="576.1" rx="3.0" ry="3.0" fill="url(#ballShade)"/>
<ellipse cx="497.3" cy="595.0" rx="5.0" ry="4.0" fill="#9a6a28" stroke="#6e4a16" stroke-width="1"/><ellipse cx="497.3" cy="595.0" rx="5.0" ry="4.0" fill="url(#ballShade)"/>
<ellipse cx="381.8" cy="617.0" rx="3.0" ry="3.0" fill="#4a8a9a" stroke="#2a6070" stroke-width="0.6"/><ellipse cx="381.8" cy="617.0" rx="3.0" ry="3.0" fill="url(#ballShade)"/>
<circle cx="293.2" cy="508.6" r="2" fill="#7aa8d8" opacity="0.7"/>
<circle cx="307.7" cy="510.5" r="2" fill="#7aa8d8" opacity="0.7"/>
<circle cx="330" cy="540" r="2" fill="#7aa8d8" opacity="0.7"/>
<circle cx="420" cy="540" r="2" fill="#7aa8d8" opacity="0.7"/>
<circle cx="445" cy="520" r="2" fill="#7aa8d8" opacity="0.7"/>
<circle cx="360" cy="600" r="2" fill="#7aa8d8" opacity="0.7"/>
<circle cx="500" cy="520" r="2" fill="#7aa8d8" opacity="0.7"/>
<circle cx="590" cy="560" r="2" fill="#7aa8d8" opacity="0.7"/>
<circle cx="520" cy="600" r="2" fill="#7aa8d8" opacity="0.7"/>
<path d="M330.4 543.7 Q330.8 545.1 330.0 546.5 Q329.2 547.8 329.1 549.3 Q328.9 550.7 327.6 551.5 Q326.4 552.3 325.7 553.7 Q325.0 555.1 323.5 555.1 Q321.9 555.1 320.7 555.9 Q319.4 556.7 318.1 556.1 Q316.7 555.4 315.2 555.6 Q313.7 555.7 312.8 554.5 Q311.8 553.4 310.5 552.7 Q309.1 552.1 309.1 550.5 Q309.0 548.9 308.0 547.8 Q307.0 546.6 307.6 545.2 Q308.1 543.8 307.9 542.3 Q307.7 540.8 309.0 539.9 Q310.2 539.0 310.8 537.6 Q311.3 536.2 312.8 536.0 Q314.3 535.7 315.4 534.4 Q316.4 533.1 317.9 533.7 Q319.4 534.3 320.8 534.2 Q322.3 534.1 323.4 535.0 Q324.5 536.0 326.0 536.4 Q327.6 536.8 327.8 538.3 Q328.1 539.9 329.0 541.1 Q330.0 542.2 330.4 543.7Z" fill="#7a4a1e" stroke="#00000040" stroke-width="1"/><circle cx="318.7" cy="545.1" r="11" fill="url(#ballShade)"/><circle cx="315.4" cy="545.3" r="1.4" fill="#9a6230"/><circle cx="318.6" cy="545.1" r="2.3" fill="#9a6230"/><circle cx="315.7" cy="541.3" r="2.3" fill="#9a6230"/><circle cx="317.6" cy="543.5" r="1.4" fill="#9a6230"/><circle cx="318.8" cy="545.3" r="2.1" fill="#9a6230"/><circle cx="319.9" cy="543.2" r="1.3" fill="#9a6230"/><circle cx="314.5" cy="540.1" r="2.3" fill="#9a6230"/><circle cx="321.7" cy="550.4" r="2.2" fill="#9a6230"/>
<path d="M385.6 589.7 Q385.7 591.4 384.7 592.8 Q383.6 594.3 383.7 595.9 Q383.8 597.6 382.6 598.6 Q381.4 599.7 380.6 601.1 Q379.8 602.5 378.1 602.7 Q376.5 602.9 375.2 604.1 Q373.9 605.3 372.4 604.6 Q370.8 603.9 369.1 604.5 Q367.4 605.1 366.3 603.6 Q365.3 602.1 363.7 601.7 Q362.1 601.4 361.5 599.9 Q360.9 598.4 359.6 597.3 Q358.2 596.2 358.5 594.6 Q358.7 592.9 358.1 591.3 Q357.4 589.8 358.4 588.4 Q359.4 587.0 359.4 585.2 Q359.5 583.5 361.2 582.9 Q362.8 582.2 363.7 580.7 Q364.5 579.2 366.2 579.4 Q368.0 579.6 369.3 578.6 Q370.7 577.5 372.2 578.2 Q373.7 578.9 375.3 578.9 Q376.9 578.8 378.0 580.0 Q379.1 581.2 380.6 581.9 Q382.1 582.5 382.4 584.2 Q382.7 585.8 384.1 586.9 Q385.5 588.1 385.6 589.7Z" fill="#8a4a1e" stroke="#00000040" stroke-width="1"/><circle cx="371.5" cy="591.4" r="13" fill="url(#ballShade)"/><circle cx="371.8" cy="591.6" r="2.0" fill="#a8622c"/><circle cx="373.9" cy="597.5" r="1.3" fill="#a8622c"/><circle cx="375.7" cy="584.8" r="2.5" fill="#a8622c"/><circle cx="369.2" cy="592.6" r="2.3" fill="#a8622c"/><circle cx="367.7" cy="591.0" r="1.8" fill="#a8622c"/><circle cx="365.9" cy="593.7" r="2.6" fill="#a8622c"/><circle cx="372.7" cy="590.6" r="1.8" fill="#a8622c"/><circle cx="366.7" cy="593.2" r="1.8" fill="#a8622c"/><circle cx="371.8" cy="592.1" r="1.8" fill="#a8622c"/><circle cx="362.9" cy="593.6" r="2.7" fill="#a8622c"/>
<path d="M437.1 555.9 Q438.4 557.5 437.4 559.2 Q436.4 560.8 436.7 562.8 Q437.0 564.7 435.2 565.7 Q433.4 566.7 433.0 568.6 Q432.6 570.6 430.5 570.6 Q428.3 570.6 427.3 572.3 Q426.2 574.1 424.3 573.6 Q422.4 573.0 420.7 573.8 Q419.0 574.5 417.5 573.4 Q416.0 572.3 414.0 572.6 Q411.9 572.8 411.2 570.9 Q410.4 569.0 408.6 568.4 Q406.7 567.7 406.8 565.7 Q406.8 563.7 405.4 562.4 Q404.0 561.1 404.5 559.3 Q404.9 557.5 404.6 555.8 Q404.3 554.0 405.6 552.7 Q406.9 551.3 406.8 549.3 Q406.7 547.2 408.6 546.6 Q410.4 546.0 411.4 544.4 Q412.4 542.9 414.2 542.7 Q416.0 542.6 417.5 541.5 Q419.0 540.4 420.7 541.2 Q422.4 542.0 424.3 541.6 Q426.1 541.1 427.3 542.6 Q428.6 544.0 430.5 544.3 Q432.4 544.6 432.8 546.5 Q433.3 548.4 434.8 549.5 Q436.2 550.6 436.0 552.5 Q435.7 554.3 437.1 555.9Z" fill="#7a3e18" stroke="#00000040" stroke-width="1"/><circle cx="420.8" cy="557.5" r="16" fill="url(#ballShade)"/><circle cx="425.5" cy="553.6" r="1.8" fill="#98562a"/><circle cx="422.6" cy="555.3" r="1.8" fill="#98562a"/><circle cx="418.0" cy="557.0" r="2.5" fill="#98562a"/><circle cx="418.4" cy="556.7" r="2.7" fill="#98562a"/><circle cx="425.2" cy="561.2" r="2.7" fill="#98562a"/><circle cx="424.8" cy="559.7" r="1.7" fill="#98562a"/><circle cx="411.8" cy="561.1" r="2.7" fill="#98562a"/><circle cx="418.9" cy="549.2" r="1.8" fill="#98562a"/><circle cx="428.9" cy="557.0" r="1.8" fill="#98562a"/><circle cx="422.9" cy="553.7" r="1.9" fill="#98562a"/><circle cx="426.9" cy="555.9" r="3.1" fill="#98562a"/><circle cx="426.5" cy="564.1" r="1.7" fill="#98562a"/>
<path d="M479.4 604.7 Q479.9 606.0 479.3 607.2 Q478.6 608.5 478.5 609.9 Q478.4 611.3 477.3 612.1 Q476.2 612.9 475.4 614.1 Q474.6 615.2 473.2 615.2 Q471.8 615.3 470.5 616.1 Q469.3 616.9 468.1 616.1 Q466.8 615.3 465.3 615.4 Q463.8 615.6 463.1 614.2 Q462.4 612.9 461.1 612.2 Q459.8 611.5 459.8 610.0 Q459.9 608.5 459.1 607.3 Q458.2 606.0 459.0 604.7 Q459.7 603.4 459.9 602.1 Q460.1 600.7 461.2 599.9 Q462.3 599.0 463.1 597.9 Q463.9 596.7 465.3 596.6 Q466.7 596.5 468.0 595.8 Q469.3 595.1 470.6 595.8 Q471.9 596.4 473.2 596.6 Q474.6 596.8 475.3 598.0 Q476.1 599.2 477.4 599.9 Q478.8 600.5 478.9 602.0 Q478.9 603.4 479.4 604.7Z" fill="#3e8a2a" stroke="#2a6018" stroke-width="1"/><circle cx="469.3" cy="606" r="10" fill="url(#ballShade)"/><circle cx="469.2" cy="605.7" r="1.7" fill="#5aa83c"/><circle cx="472.4" cy="608.3" r="2.0" fill="#5aa83c"/><circle cx="474.2" cy="610.2" r="1.8" fill="#5aa83c"/><circle cx="469.3" cy="607.4" r="1.5" fill="#5aa83c"/><circle cx="471.4" cy="602.5" r="1.1" fill="#5aa83c"/><circle cx="470.1" cy="606.1" r="2.0" fill="#5aa83c"/><circle cx="470.8" cy="609.6" r="1.3" fill="#5aa83c"/><circle cx="468.3" cy="603.5" r="1.2" fill="#5aa83c"/>
</g>
<path d="M340 716 L606 544" fill="none" stroke="#3e4b58" stroke-width="3"/>
<path d="M340 716 L606 544 L606 538 L623 536 L623 543 L352 723 L344 723 Z" fill="#3e4b58"/>
<path d="M159 716 L341 716" stroke="#3c4954" stroke-width="2.2"/>
<path d="M158 716 L158 421" stroke="#3c4954" stroke-width="3"/>
<path d="M606 433 L620 423.5 L620 535 L606 545 Z" fill="#f2f7f9" stroke="#3c4954" stroke-width="2.2"/>
<path d="M606 433 L606 545" stroke="#3e4b58" stroke-width="3.5"/>
<path d="M142 719.5 L340 719.5" stroke="#eef4f7" stroke-width="3"/>
<path d="M139 424 L156 418.5 L623 418.5" fill="none" stroke="#3c4954" stroke-width="5.5" stroke-linejoin="round"/>
<path d="M623 418 L623 540 L352 723" fill="none" stroke="#3c4954" stroke-width="4.5" stroke-linejoin="round"/>
<path d="M621 451 H666 V474 H621 Z" fill="url(#pipeL)"/>
<rect x="617" y="450.5" width="10" height="24" rx="4" fill="#5b6166"/>
<path d="M112 481 L160 481 L160 508.5 L112 508.5 L124 494.5 Z" fill="#3a9dd0"/>
<path d="M114 483.5 L160 483.5 L160 494 L124 494 Z" fill="#d2ecf7"/>
<path d="M112 481 L160 481" stroke="#5aaed6" stroke-width="2.5"/>
<path d="M4 480.5 H93 V470 L124 494.5 L93 519 V508.5 H14 Q1 508.5 1 494.5 Q1 480.5 14 480.5 Z" fill="#8b5a27" stroke="#553614" stroke-width="2.2" stroke-linejoin="round"/>
<path d="M10 486 H96 L110 492 H10 Z" fill="#b38a58" opacity="0.9"/>
<rect x="541" y="392" width="5.2" height="25" fill="#0f4c7e"/>
<path d="M526.7 415.4 L560.2 415.4 L543.8 439.3 Z" fill="#0f4c7e"/>
<text x="23.3" y="430.3" font-size="32" textLength="97.6" lengthAdjust="spacingAndGlyphs" fill="#143f6c" style="" xml:space="preserve" ><tspan font-size="32.00">I</tspan><tspan font-size="28.80">nfluent</tspan></text>
<text x="1.0" y="459.1" font-size="24" textLength="127.5" lengthAdjust="spacingAndGlyphs" fill="#143f6c" style="" xml:space="preserve" ><tspan font-size="24.00">W</tspan><tspan font-size="21.60">astewater</tspan><tspan font-size="24.00">)</tspan></text>
<text x="487.0" y="380" font-size="30.5" textLength="109.6" lengthAdjust="spacingAndGlyphs" fill="#143f6c" style="" xml:space="preserve" ><tspan font-size="30.50">O</tspan><tspan font-size="27.45">verflow</tspan></text>
<text x="34.0" y="563.4" font-size="28.3" textLength="92.6" lengthAdjust="spacingAndGlyphs" fill="#4a3521" style="" xml:space="preserve" ><tspan font-size="28.30">S</tspan><tspan font-size="25.47">olids </tspan><tspan font-size="28.30">&amp;</tspan></text>
<text x="37.0" y="591.9" font-size="28.3" textLength="90.8" lengthAdjust="spacingAndGlyphs" fill="#4a3521" style="font-style:italic;" xml:space="preserve" ><tspan font-size="28.30">B</tspan><tspan font-size="25.47">acteria</tspan></text>
<text x="34.7" y="696" font-size="29" textLength="77.3" lengthAdjust="spacingAndGlyphs" fill="#4a3521" style="" xml:space="preserve" ><tspan font-size="29.00">S</tspan><tspan font-size="26.10">ludge</tspan></text>
<path d="M133 578 H172 V564.5 L199.5 581 L172 597.5 V584 H133 Z" fill="#8a5a2a" stroke="#ffffff" stroke-width="3" stroke-linejoin="miter"/>
<path d="M121 684 H197 V673 L220 687.5 L197 702 V691 H121 Z" fill="#3c2a18" stroke="#ffffff" stroke-width="3" stroke-linejoin="miter"/>
<path d="M856 745 Q856 711 890 711 L1250 716 Q1278 718 1278 745 L1278 790 C1270 795 1262 792 1255 790 L900 795 C885 793 870 792 858 785 Z" fill="#6b6e70"/>
<circle cx="1047.7" cy="756.5" r="1.5" fill="#3e4244" opacity="0.8"/>
<circle cx="1047.5" cy="779.0" r="0.8" fill="#3e4244" opacity="0.8"/>
<circle cx="1121.4" cy="774.3" r="0.7" fill="#56595b" opacity="0.8"/>
<circle cx="918.8" cy="754.9" r="1.5" fill="#4e5254" opacity="0.8"/>
<circle cx="1107.1" cy="744.1" r="1.1" fill="#8a8c8c" opacity="0.8"/>
<circle cx="1118.6" cy="777.2" r="0.7" fill="#4e5254" opacity="0.8"/>
<circle cx="938.9" cy="732.4" r="0.6" fill="#3e4244" opacity="0.8"/>
<circle cx="995.4" cy="758.9" r="0.8" fill="#8a8c8c" opacity="0.8"/>
<circle cx="1125.7" cy="752.0" r="1.3" fill="#3e4244" opacity="0.8"/>
<circle cx="1131.7" cy="744.9" r="1.2" fill="#4e5254" opacity="0.8"/>
<circle cx="1153.7" cy="738.0" r="0.8" fill="#56595b" opacity="0.8"/>
<circle cx="872.3" cy="756.8" r="0.7" fill="#4e5254" opacity="0.8"/>
<circle cx="1211.3" cy="743.4" r="1.6" fill="#4e5254" opacity="0.8"/>
<circle cx="948.6" cy="784.5" r="0.7" fill="#3e4244" opacity="0.8"/>
<circle cx="1266.8" cy="744.2" r="0.7" fill="#8a8c8c" opacity="0.8"/>
<circle cx="1183.1" cy="734.5" r="0.7" fill="#56595b" opacity="0.8"/>
<circle cx="866.3" cy="745.2" r="1.5" fill="#8a8c8c" opacity="0.8"/>
<circle cx="962.3" cy="721.7" r="0.7" fill="#3e4244" opacity="0.8"/>
<circle cx="933.7" cy="756.5" r="1.0" fill="#8a8c8c" opacity="0.8"/>
<circle cx="1268.9" cy="772.5" r="1.0" fill="#3e4244" opacity="0.8"/>
<circle cx="908.4" cy="746.0" r="0.8" fill="#56595b" opacity="0.8"/>
<circle cx="1218.7" cy="788.1" r="1.2" fill="#4e5254" opacity="0.8"/>
<circle cx="947.4" cy="744.0" r="1.5" fill="#4e5254" opacity="0.8"/>
<circle cx="877.5" cy="725.1" r="1.0" fill="#4e5254" opacity="0.8"/>
<circle cx="1180.7" cy="739.0" r="0.9" fill="#4e5254" opacity="0.8"/>
<circle cx="890.8" cy="729.9" r="1.2" fill="#4e5254" opacity="0.8"/>
<circle cx="1109.5" cy="742.2" r="1.1" fill="#3e4244" opacity="0.8"/>
<circle cx="1205.4" cy="724.3" r="1.0" fill="#8a8c8c" opacity="0.8"/>
<circle cx="989.0" cy="731.4" r="1.2" fill="#8a8c8c" opacity="0.8"/>
<circle cx="925.8" cy="761.8" r="1.2" fill="#3e4244" opacity="0.8"/>
<circle cx="1226.1" cy="759.9" r="1.0" fill="#4e5254" opacity="0.8"/>
<circle cx="905.3" cy="752.9" r="0.9" fill="#3e4244" opacity="0.8"/>
<circle cx="966.6" cy="776.6" r="1.2" fill="#56595b" opacity="0.8"/>
<circle cx="1075.8" cy="784.6" r="1.6" fill="#8a8c8c" opacity="0.8"/>
<circle cx="954.8" cy="756.5" r="1.5" fill="#4e5254" opacity="0.8"/>
<circle cx="976.3" cy="783.7" r="0.8" fill="#4e5254" opacity="0.8"/>
<circle cx="888.7" cy="745.3" r="0.8" fill="#4e5254" opacity="0.8"/>
<circle cx="933.1" cy="742.0" r="1.2" fill="#8a8c8c" opacity="0.8"/>
<circle cx="898.3" cy="724.5" r="1.1" fill="#56595b" opacity="0.8"/>
<circle cx="1132.6" cy="766.5" r="1.2" fill="#8a8c8c" opacity="0.8"/>
<circle cx="1104.8" cy="784.2" r="1.1" fill="#56595b" opacity="0.8"/>
<circle cx="1150.9" cy="787.2" r="0.6" fill="#4e5254" opacity="0.8"/>
<circle cx="1060.1" cy="769.5" r="0.9" fill="#4e5254" opacity="0.8"/>
<circle cx="891.2" cy="755.5" r="1.3" fill="#8a8c8c" opacity="0.8"/>
<circle cx="1189.2" cy="783.5" r="1.0" fill="#3e4244" opacity="0.8"/>
<circle cx="1233.8" cy="780.2" r="1.0" fill="#4e5254" opacity="0.8"/>
<circle cx="1218.3" cy="757.5" r="1.2" fill="#3e4244" opacity="0.8"/>
<circle cx="1017.4" cy="714.9" r="0.7" fill="#4e5254" opacity="0.8"/>
<circle cx="1125.4" cy="789.5" r="1.5" fill="#56595b" opacity="0.8"/>
<circle cx="1021.2" cy="769.9" r="1.2" fill="#3e4244" opacity="0.8"/>
<circle cx="1052.0" cy="755.1" r="1.1" fill="#4e5254" opacity="0.8"/>
<circle cx="988.7" cy="720.7" r="0.6" fill="#4e5254" opacity="0.8"/>
<circle cx="1066.4" cy="760.7" r="1.5" fill="#56595b" opacity="0.8"/>
<circle cx="1232.0" cy="742.0" r="0.7" fill="#8a8c8c" opacity="0.8"/>
<circle cx="1075.1" cy="771.3" r="0.9" fill="#3e4244" opacity="0.8"/>
<circle cx="1066.8" cy="732.4" r="1.0" fill="#56595b" opacity="0.8"/>
<circle cx="942.4" cy="746.7" r="1.4" fill="#8a8c8c" opacity="0.8"/>
<circle cx="1225.3" cy="743.2" r="1.2" fill="#56595b" opacity="0.8"/>
<circle cx="947.1" cy="724.2" r="1.0" fill="#4e5254" opacity="0.8"/>
<circle cx="1155.2" cy="786.2" r="0.9" fill="#8a8c8c" opacity="0.8"/>
<circle cx="906.8" cy="749.8" r="1.5" fill="#3e4244" opacity="0.8"/>
<circle cx="1018.8" cy="753.5" r="1.3" fill="#3e4244" opacity="0.8"/>
<circle cx="992.9" cy="777.0" r="0.9" fill="#4e5254" opacity="0.8"/>
<circle cx="1141.5" cy="735.4" r="1.0" fill="#4e5254" opacity="0.8"/>
<circle cx="1126.0" cy="744.8" r="0.8" fill="#56595b" opacity="0.8"/>
<circle cx="958.5" cy="724.7" r="0.6" fill="#4e5254" opacity="0.8"/>
<circle cx="1045.3" cy="761.9" r="1.3" fill="#56595b" opacity="0.8"/>
<circle cx="1257.8" cy="766.0" r="0.8" fill="#3e4244" opacity="0.8"/>
<circle cx="966.3" cy="768.3" r="1.4" fill="#4e5254" opacity="0.8"/>
<circle cx="934.3" cy="734.7" r="0.9" fill="#8a8c8c" opacity="0.8"/>
<circle cx="1023.3" cy="774.2" r="1.5" fill="#4e5254" opacity="0.8"/>
<circle cx="1030.4" cy="781.8" r="1.0" fill="#3e4244" opacity="0.8"/>
<circle cx="1048.2" cy="761.5" r="1.5" fill="#3e4244" opacity="0.8"/>
<circle cx="1088.3" cy="763.6" r="1.1" fill="#56595b" opacity="0.8"/>
<circle cx="1052.4" cy="763.5" r="0.8" fill="#4e5254" opacity="0.8"/>
<circle cx="948.5" cy="782.4" r="1.6" fill="#56595b" opacity="0.8"/>
<circle cx="1082.8" cy="774.1" r="0.9" fill="#4e5254" opacity="0.8"/>
<circle cx="1004.6" cy="720.3" r="1.0" fill="#3e4244" opacity="0.8"/>
<circle cx="1178.8" cy="751.0" r="0.6" fill="#4e5254" opacity="0.8"/>
<circle cx="1038.0" cy="716.7" r="1.1" fill="#8a8c8c" opacity="0.8"/>
<circle cx="1055.3" cy="790.0" r="1.5" fill="#3e4244" opacity="0.8"/>
<circle cx="1252.5" cy="751.4" r="1.5" fill="#4e5254" opacity="0.8"/>
<circle cx="1174.5" cy="747.4" r="1.2" fill="#8a8c8c" opacity="0.8"/>
<circle cx="1077.0" cy="778.1" r="1.2" fill="#56595b" opacity="0.8"/>
<circle cx="1138.6" cy="786.6" r="1.5" fill="#8a8c8c" opacity="0.8"/>
<circle cx="986.3" cy="724.7" r="1.1" fill="#56595b" opacity="0.8"/>
<circle cx="1097.8" cy="729.3" r="1.1" fill="#4e5254" opacity="0.8"/>
<circle cx="1111.2" cy="716.1" r="1.6" fill="#3e4244" opacity="0.8"/>
<circle cx="1085.8" cy="789.2" r="0.7" fill="#4e5254" opacity="0.8"/>
<circle cx="1146.8" cy="719.0" r="1.1" fill="#3e4244" opacity="0.8"/>
<circle cx="1242.1" cy="774.8" r="1.0" fill="#8a8c8c" opacity="0.8"/>
<circle cx="1056.4" cy="723.6" r="1.0" fill="#3e4244" opacity="0.8"/>
<circle cx="1077.9" cy="722.3" r="1.0" fill="#4e5254" opacity="0.8"/>
<circle cx="1244.0" cy="723.8" r="1.4" fill="#4e5254" opacity="0.8"/>
<circle cx="874.8" cy="725.8" r="0.6" fill="#56595b" opacity="0.8"/>
<circle cx="993.7" cy="741.0" r="1.2" fill="#4e5254" opacity="0.8"/>
<circle cx="1067.4" cy="758.2" r="1.5" fill="#56595b" opacity="0.8"/>
<circle cx="1157.8" cy="767.3" r="1.5" fill="#4e5254" opacity="0.8"/>
<circle cx="1015.9" cy="745.4" r="1.1" fill="#8a8c8c" opacity="0.8"/>
<circle cx="1083.3" cy="779.7" r="1.1" fill="#8a8c8c" opacity="0.8"/>
<circle cx="1079.8" cy="778.7" r="1.2" fill="#8a8c8c" opacity="0.8"/>
<circle cx="956.6" cy="770.3" r="1.4" fill="#8a8c8c" opacity="0.8"/>
<circle cx="991.1" cy="737.9" r="1.5" fill="#8a8c8c" opacity="0.8"/>
<circle cx="1183.0" cy="728.8" r="0.7" fill="#8a8c8c" opacity="0.8"/>
<circle cx="915.0" cy="720.7" r="1.0" fill="#3e4244" opacity="0.8"/>
<circle cx="1205.3" cy="746.0" r="1.4" fill="#8a8c8c" opacity="0.8"/>
<circle cx="943.3" cy="761.7" r="1.4" fill="#4e5254" opacity="0.8"/>
<circle cx="943.4" cy="765.9" r="1.5" fill="#56595b" opacity="0.8"/>
<circle cx="907.9" cy="752.4" r="1.4" fill="#8a8c8c" opacity="0.8"/>
<circle cx="1193.2" cy="750.6" r="0.6" fill="#3e4244" opacity="0.8"/>
<circle cx="920.8" cy="728.0" r="0.8" fill="#8a8c8c" opacity="0.8"/>
<circle cx="1271.0" cy="784.4" r="0.7" fill="#4e5254" opacity="0.8"/>
<circle cx="915.8" cy="765.8" r="0.7" fill="#4e5254" opacity="0.8"/>
<circle cx="995.6" cy="749.5" r="1.1" fill="#3e4244" opacity="0.8"/>
<circle cx="947.2" cy="742.4" r="1.2" fill="#4e5254" opacity="0.8"/>
<circle cx="1210.4" cy="727.8" r="1.1" fill="#56595b" opacity="0.8"/>
<circle cx="1028.2" cy="728.8" r="0.8" fill="#4e5254" opacity="0.8"/>
<circle cx="994.3" cy="720.4" r="1.4" fill="#3e4244" opacity="0.8"/>
<circle cx="1096.4" cy="728.5" r="1.2" fill="#56595b" opacity="0.8"/>
<circle cx="1194.0" cy="733.6" r="1.5" fill="#8a8c8c" opacity="0.8"/>
<circle cx="1198.1" cy="744.8" r="1.5" fill="#56595b" opacity="0.8"/>
<circle cx="1178.4" cy="772.2" r="1.0" fill="#8a8c8c" opacity="0.8"/>
<circle cx="889.3" cy="740.0" r="1.1" fill="#4e5254" opacity="0.8"/>
<circle cx="1228.5" cy="789.3" r="1.5" fill="#4e5254" opacity="0.8"/>
<circle cx="956.3" cy="785.8" r="1.3" fill="#56595b" opacity="0.8"/>
<circle cx="949.7" cy="744.9" r="0.8" fill="#4e5254" opacity="0.8"/>
<circle cx="1021.7" cy="790.0" r="1.2" fill="#4e5254" opacity="0.8"/>
<circle cx="1176.1" cy="788.5" r="0.6" fill="#4e5254" opacity="0.8"/>
<circle cx="1166.6" cy="733.5" r="1.0" fill="#4e5254" opacity="0.8"/>
<circle cx="1175.9" cy="763.2" r="0.6" fill="#56595b" opacity="0.8"/>
<circle cx="964.1" cy="782.8" r="1.2" fill="#3e4244" opacity="0.8"/>
<circle cx="1261.4" cy="757.2" r="1.6" fill="#3e4244" opacity="0.8"/>
<circle cx="1196.0" cy="719.8" r="1.2" fill="#4e5254" opacity="0.8"/>
<circle cx="1020.4" cy="785.3" r="1.0" fill="#8a8c8c" opacity="0.8"/>
<circle cx="1215.1" cy="755.2" r="1.2" fill="#3e4244" opacity="0.8"/>
<circle cx="1252.3" cy="746.0" r="1.1" fill="#56595b" opacity="0.8"/>
<circle cx="1011.7" cy="735.7" r="1.3" fill="#56595b" opacity="0.8"/>
<circle cx="1135.4" cy="770.8" r="0.6" fill="#8a8c8c" opacity="0.8"/>
<circle cx="1103.1" cy="762.1" r="1.0" fill="#3e4244" opacity="0.8"/>
<circle cx="881.9" cy="738.0" r="1.0" fill="#56595b" opacity="0.8"/>
<circle cx="890.5" cy="782.8" r="1.0" fill="#3e4244" opacity="0.8"/>
<circle cx="964.1" cy="771.4" r="0.6" fill="#4e5254" opacity="0.8"/>
<circle cx="1249.0" cy="768.9" r="1.1" fill="#8a8c8c" opacity="0.8"/>
<circle cx="1110.5" cy="722.7" r="1.2" fill="#3e4244" opacity="0.8"/>
<circle cx="909.0" cy="779.4" r="1.0" fill="#8a8c8c" opacity="0.8"/>
<circle cx="911.6" cy="747.7" r="1.3" fill="#3e4244" opacity="0.8"/>
<circle cx="1109.4" cy="762.6" r="1.3" fill="#56595b" opacity="0.8"/>
<circle cx="1182.9" cy="754.3" r="1.6" fill="#56595b" opacity="0.8"/>
<circle cx="1164.7" cy="732.1" r="0.7" fill="#56595b" opacity="0.8"/>
<circle cx="1185.5" cy="761.5" r="1.0" fill="#56595b" opacity="0.8"/>
<circle cx="1113.1" cy="769.1" r="1.3" fill="#8a8c8c" opacity="0.8"/>
<circle cx="1122.7" cy="771.3" r="0.8" fill="#8a8c8c" opacity="0.8"/>
<circle cx="1068.4" cy="763.6" r="0.8" fill="#4e5254" opacity="0.8"/>
<circle cx="1120.8" cy="714.7" r="0.9" fill="#4e5254" opacity="0.8"/>
<circle cx="1118.7" cy="721.8" r="1.1" fill="#4e5254" opacity="0.8"/>
<circle cx="1173.7" cy="783.4" r="0.8" fill="#8a8c8c" opacity="0.8"/>
<circle cx="1121.9" cy="742.4" r="1.1" fill="#8a8c8c" opacity="0.8"/>
<circle cx="1000.4" cy="751.6" r="0.7" fill="#4e5254" opacity="0.8"/>
<circle cx="1192.9" cy="748.0" r="1.4" fill="#8a8c8c" opacity="0.8"/>
<circle cx="1044.4" cy="770.8" r="1.0" fill="#8a8c8c" opacity="0.8"/>
<path d="M898 758 L1272 758 L1276 785 C1272 795 1266 800 1258 806 C1240 814 1215 812 1195 818 C1175 824 1150 820 1125 826 C1100 831 1075 826 1050 829 C1025 832 1005 830 985 827 C965 824 950 818 935 812 C920 808 905 806 895 800 C888 792 892 775 898 758 Z" fill="#45321e"/>
<path d="M900 758 L1272 758 L1274 772 C1200 776 1000 772 900 776 Z" fill="#5a4024" opacity="0.9"/>
<circle cx="1035.8" cy="800.5" r="2.4" fill="#2e2014" opacity="0.75"/>
<circle cx="1007.0" cy="807.1" r="2.1" fill="#7a5a30" opacity="0.75"/>
<circle cx="1057.4" cy="782.9" r="1.0" fill="#2e2014" opacity="0.75"/>
<circle cx="928.9" cy="765.1" r="1.7" fill="#8a6434" opacity="0.75"/>
<circle cx="1200.0" cy="788.7" r="2.1" fill="#6a4e2c" opacity="0.75"/>
<circle cx="928.0" cy="773.2" r="1.9" fill="#6a4e2c" opacity="0.75"/>
<circle cx="1155.8" cy="790.7" r="2.0" fill="#2e2014" opacity="0.75"/>
<circle cx="1004.1" cy="768.9" r="1.4" fill="#c88a3a" opacity="0.75"/>
<circle cx="1020.4" cy="816.2" r="1.3" fill="#8a6434" opacity="0.75"/>
<circle cx="1109.5" cy="817.0" r="2.3" fill="#2e2014" opacity="0.75"/>
<circle cx="1061.2" cy="809.8" r="1.3" fill="#2e2014" opacity="0.75"/>
<circle cx="981.4" cy="820.0" r="2.0" fill="#a07030" opacity="0.75"/>
<circle cx="991.4" cy="782.4" r="1.4" fill="#2e2014" opacity="0.75"/>
<circle cx="1149.1" cy="796.3" r="2.1" fill="#c88a3a" opacity="0.75"/>
<circle cx="1107.5" cy="809.4" r="1.7" fill="#a07030" opacity="0.75"/>
<circle cx="1107.1" cy="770.9" r="2.0" fill="#2e2014" opacity="0.75"/>
<circle cx="1198.8" cy="773.7" r="0.9" fill="#7a5a30" opacity="0.75"/>
<circle cx="1108.8" cy="819.9" r="1.8" fill="#8a6434" opacity="0.75"/>
<circle cx="923.6" cy="793.9" r="2.1" fill="#6a4e2c" opacity="0.75"/>
<circle cx="1023.1" cy="777.0" r="1.0" fill="#2e2014" opacity="0.75"/>
<circle cx="931.2" cy="799.3" r="1.0" fill="#c88a3a" opacity="0.75"/>
<circle cx="1200.4" cy="786.2" r="1.9" fill="#8a6434" opacity="0.75"/>
<circle cx="1181.6" cy="792.3" r="2.0" fill="#8a6434" opacity="0.75"/>
<circle cx="1029.0" cy="810.1" r="1.3" fill="#7a5a30" opacity="0.75"/>
<circle cx="1081.7" cy="793.3" r="2.0" fill="#c88a3a" opacity="0.75"/>
<circle cx="1127.5" cy="762.9" r="2.0" fill="#c88a3a" opacity="0.75"/>
<circle cx="1028.5" cy="760.2" r="1.4" fill="#6a4e2c" opacity="0.75"/>
<circle cx="1227.0" cy="819.4" r="1.8" fill="#a07030" opacity="0.75"/>
<circle cx="1033.2" cy="760.6" r="1.0" fill="#8a6434" opacity="0.75"/>
<circle cx="1236.9" cy="775.2" r="1.1" fill="#c88a3a" opacity="0.75"/>
<circle cx="1038.2" cy="770.4" r="1.1" fill="#8a6434" opacity="0.75"/>
<circle cx="1094.7" cy="777.0" r="2.2" fill="#8a6434" opacity="0.75"/>
<circle cx="1013.5" cy="767.1" r="1.8" fill="#7a5a30" opacity="0.75"/>
<circle cx="1235.7" cy="806.7" r="0.8" fill="#8a6434" opacity="0.75"/>
<circle cx="1234.6" cy="762.3" r="1.0" fill="#7a5a30" opacity="0.75"/>
<circle cx="1032.2" cy="796.5" r="1.8" fill="#8a6434" opacity="0.75"/>
<circle cx="1118.9" cy="773.9" r="1.1" fill="#2e2014" opacity="0.75"/>
<circle cx="1048.1" cy="816.5" r="2.3" fill="#c88a3a" opacity="0.75"/>
<circle cx="1101.8" cy="810.7" r="1.6" fill="#2e2014" opacity="0.75"/>
<circle cx="1078.4" cy="785.0" r="2.3" fill="#c88a3a" opacity="0.75"/>
<circle cx="1101.4" cy="819.3" r="1.6" fill="#7a5a30" opacity="0.75"/>
<circle cx="1047.0" cy="773.5" r="1.0" fill="#8a6434" opacity="0.75"/>
<circle cx="1259.2" cy="809.3" r="2.0" fill="#6a4e2c" opacity="0.75"/>
<circle cx="1142.0" cy="774.7" r="0.8" fill="#8a6434" opacity="0.75"/>
<circle cx="1233.1" cy="787.9" r="1.2" fill="#8a6434" opacity="0.75"/>
<circle cx="1123.0" cy="769.8" r="1.1" fill="#2e2014" opacity="0.75"/>
<circle cx="953.3" cy="816.3" r="2.1" fill="#7a5a30" opacity="0.75"/>
<circle cx="1134.4" cy="821.6" r="1.2" fill="#a07030" opacity="0.75"/>
<circle cx="919.5" cy="795.5" r="1.1" fill="#7a5a30" opacity="0.75"/>
<circle cx="1202.3" cy="812.5" r="2.1" fill="#6a4e2c" opacity="0.75"/>
<circle cx="1029.4" cy="798.1" r="1.6" fill="#8a6434" opacity="0.75"/>
<circle cx="1155.3" cy="765.1" r="2.0" fill="#a07030" opacity="0.75"/>
<circle cx="1215.5" cy="778.8" r="2.1" fill="#8a6434" opacity="0.75"/>
<circle cx="971.0" cy="802.3" r="2.1" fill="#8a6434" opacity="0.75"/>
<circle cx="976.7" cy="793.7" r="1.6" fill="#7a5a30" opacity="0.75"/>
<circle cx="1248.3" cy="819.8" r="1.3" fill="#8a6434" opacity="0.75"/>
<circle cx="928.0" cy="779.0" r="1.5" fill="#c88a3a" opacity="0.75"/>
<circle cx="924.7" cy="764.6" r="1.0" fill="#c88a3a" opacity="0.75"/>
<circle cx="1045.1" cy="788.6" r="2.3" fill="#6a4e2c" opacity="0.75"/>
<circle cx="1140.6" cy="760.8" r="1.4" fill="#c88a3a" opacity="0.75"/>
<circle cx="1074.9" cy="778.2" r="1.0" fill="#6a4e2c" opacity="0.75"/>
<circle cx="1215.0" cy="812.4" r="2.0" fill="#a07030" opacity="0.75"/>
<circle cx="956.0" cy="798.9" r="2.3" fill="#c88a3a" opacity="0.75"/>
<circle cx="1009.7" cy="780.9" r="1.4" fill="#c88a3a" opacity="0.75"/>
<circle cx="932.0" cy="771.7" r="1.4" fill="#6a4e2c" opacity="0.75"/>
<circle cx="1021.2" cy="818.6" r="1.7" fill="#c88a3a" opacity="0.75"/>
<circle cx="1135.6" cy="787.7" r="1.4" fill="#6a4e2c" opacity="0.75"/>
<circle cx="951.8" cy="765.9" r="1.9" fill="#c88a3a" opacity="0.75"/>
<circle cx="966.0" cy="772.0" r="0.9" fill="#8a6434" opacity="0.75"/>
<circle cx="1118.1" cy="765.6" r="1.2" fill="#7a5a30" opacity="0.75"/>
<circle cx="1263.4" cy="786.9" r="2.0" fill="#2e2014" opacity="0.75"/>
<circle cx="1238.8" cy="786.5" r="1.6" fill="#c88a3a" opacity="0.75"/>
<circle cx="975.6" cy="769.2" r="1.9" fill="#8a6434" opacity="0.75"/>
<circle cx="1022.0" cy="785.6" r="0.8" fill="#8a6434" opacity="0.75"/>
<circle cx="1125.6" cy="779.7" r="2.1" fill="#7a5a30" opacity="0.75"/>
<circle cx="1143.0" cy="797.7" r="0.8" fill="#2e2014" opacity="0.75"/>
<circle cx="969.5" cy="779.0" r="1.5" fill="#a07030" opacity="0.75"/>
<circle cx="1039.0" cy="791.6" r="2.1" fill="#6a4e2c" opacity="0.75"/>
<circle cx="1125.0" cy="769.8" r="2.0" fill="#2e2014" opacity="0.75"/>
<circle cx="1101.8" cy="781.9" r="1.6" fill="#7a5a30" opacity="0.75"/>
<circle cx="1111.3" cy="772.3" r="2.3" fill="#c88a3a" opacity="0.75"/>
<circle cx="1160.1" cy="818.0" r="1.7" fill="#6a4e2c" opacity="0.75"/>
<circle cx="1130.8" cy="772.3" r="0.9" fill="#7a5a30" opacity="0.75"/>
<circle cx="1075.9" cy="785.9" r="1.3" fill="#6a4e2c" opacity="0.75"/>
<circle cx="1241.9" cy="782.4" r="1.5" fill="#6a4e2c" opacity="0.75"/>
<circle cx="1066.4" cy="805.2" r="1.2" fill="#a07030" opacity="0.75"/>
<circle cx="1100.0" cy="794.8" r="1.7" fill="#2e2014" opacity="0.75"/>
<circle cx="962.0" cy="806.2" r="2.2" fill="#2e2014" opacity="0.75"/>
<circle cx="1121.4" cy="767.6" r="2.1" fill="#2e2014" opacity="0.75"/>
<circle cx="1152.1" cy="782.5" r="2.0" fill="#2e2014" opacity="0.75"/>
<circle cx="1205.7" cy="771.5" r="1.7" fill="#6a4e2c" opacity="0.75"/>
<circle cx="1067.2" cy="785.0" r="2.1" fill="#c88a3a" opacity="0.75"/>
<circle cx="950.9" cy="806.9" r="2.2" fill="#8a6434" opacity="0.75"/>
<circle cx="1126.4" cy="799.7" r="2.0" fill="#7a5a30" opacity="0.75"/>
<circle cx="973.4" cy="789.0" r="1.0" fill="#8a6434" opacity="0.75"/>
<circle cx="943.5" cy="785.2" r="1.3" fill="#7a5a30" opacity="0.75"/>
<circle cx="997.0" cy="795.2" r="1.3" fill="#c88a3a" opacity="0.75"/>
<circle cx="1188.5" cy="804.7" r="2.1" fill="#8a6434" opacity="0.75"/>
<circle cx="1253.0" cy="797.2" r="1.6" fill="#8a6434" opacity="0.75"/>
<circle cx="1230.0" cy="816.6" r="1.7" fill="#8a6434" opacity="0.75"/>
<circle cx="1176.6" cy="790.1" r="2.4" fill="#c88a3a" opacity="0.75"/>
<circle cx="1050.5" cy="786.9" r="1.7" fill="#a07030" opacity="0.75"/>
<circle cx="1021.6" cy="792.3" r="1.5" fill="#6a4e2c" opacity="0.75"/>
<circle cx="1018.0" cy="763.4" r="2.0" fill="#8a6434" opacity="0.75"/>
<circle cx="1169.4" cy="797.0" r="2.0" fill="#2e2014" opacity="0.75"/>
<circle cx="1224.8" cy="814.4" r="1.2" fill="#8a6434" opacity="0.75"/>
<circle cx="989.2" cy="814.1" r="2.4" fill="#8a6434" opacity="0.75"/>
<circle cx="1155.7" cy="792.6" r="1.2" fill="#2e2014" opacity="0.75"/>
<circle cx="1141.7" cy="818.3" r="2.2" fill="#c88a3a" opacity="0.75"/>
<circle cx="1255.7" cy="801.3" r="2.2" fill="#8a6434" opacity="0.75"/>
<circle cx="1107.5" cy="770.2" r="1.8" fill="#8a6434" opacity="0.75"/>
<circle cx="1108.6" cy="816.0" r="1.0" fill="#7a5a30" opacity="0.75"/>
<circle cx="945.6" cy="793.3" r="2.3" fill="#6a4e2c" opacity="0.75"/>
<circle cx="1009.0" cy="805.1" r="0.8" fill="#7a5a30" opacity="0.75"/>
<circle cx="923.0" cy="815.5" r="2.1" fill="#8a6434" opacity="0.75"/>
<circle cx="952.0" cy="802.9" r="1.2" fill="#2e2014" opacity="0.75"/>
<circle cx="911.5" cy="815.7" r="1.3" fill="#8a6434" opacity="0.75"/>
<circle cx="952.7" cy="808.2" r="2.0" fill="#7a5a30" opacity="0.75"/>
<circle cx="974.6" cy="813.3" r="1.9" fill="#6a4e2c" opacity="0.75"/>
<circle cx="971.9" cy="812.0" r="1.4" fill="#8a6434" opacity="0.75"/>
<circle cx="905.9" cy="799.4" r="1.9" fill="#a07030" opacity="0.75"/>
<circle cx="974.3" cy="799.2" r="1.1" fill="#6a4e2c" opacity="0.75"/>
<circle cx="1139.2" cy="779.0" r="2.1" fill="#2e2014" opacity="0.75"/>
<circle cx="1220.0" cy="804.2" r="1.0" fill="#c88a3a" opacity="0.75"/>
<circle cx="1252.2" cy="808.3" r="1.5" fill="#7a5a30" opacity="0.75"/>
<circle cx="982.2" cy="779.0" r="1.9" fill="#7a5a30" opacity="0.75"/>
<circle cx="999.0" cy="804.6" r="1.6" fill="#2e2014" opacity="0.75"/>
<circle cx="1190.9" cy="783.1" r="1.9" fill="#6a4e2c" opacity="0.75"/>
<circle cx="1117.1" cy="774.2" r="1.3" fill="#7a5a30" opacity="0.75"/>
<circle cx="1145.5" cy="777.2" r="1.8" fill="#6a4e2c" opacity="0.75"/>
<circle cx="1070.3" cy="764.7" r="2.3" fill="#6a4e2c" opacity="0.75"/>
<circle cx="1095.3" cy="762.8" r="1.8" fill="#2e2014" opacity="0.75"/>
<circle cx="1097.7" cy="786.3" r="1.7" fill="#7a5a30" opacity="0.75"/>
<circle cx="1004.9" cy="806.9" r="1.2" fill="#2e2014" opacity="0.75"/>
<circle cx="1170.2" cy="761.8" r="2.1" fill="#7a5a30" opacity="0.75"/>
<circle cx="1263.5" cy="762.1" r="1.5" fill="#a07030" opacity="0.75"/>
<circle cx="1041.6" cy="817.6" r="1.6" fill="#7a5a30" opacity="0.75"/>
<circle cx="923.6" cy="808.2" r="2.3" fill="#2e2014" opacity="0.75"/>
<circle cx="1142.2" cy="808.5" r="1.6" fill="#a07030" opacity="0.75"/>
<circle cx="1204.4" cy="799.4" r="2.4" fill="#c88a3a" opacity="0.75"/>
<circle cx="1250.2" cy="770.8" r="2.0" fill="#7a5a30" opacity="0.75"/>
<circle cx="941.3" cy="787.0" r="1.9" fill="#a07030" opacity="0.75"/>
<circle cx="1184.5" cy="808.8" r="2.1" fill="#7a5a30" opacity="0.75"/>
<circle cx="995.6" cy="793.7" r="2.2" fill="#a07030" opacity="0.75"/>
<circle cx="1083.6" cy="762.2" r="1.8" fill="#c88a3a" opacity="0.75"/>
<circle cx="919.3" cy="787.8" r="2.2" fill="#2e2014" opacity="0.75"/>
<circle cx="955.9" cy="761.1" r="1.6" fill="#8a6434" opacity="0.75"/>
<circle cx="1085.4" cy="804.8" r="2.2" fill="#6a4e2c" opacity="0.75"/>
<circle cx="926.7" cy="816.3" r="1.7" fill="#a07030" opacity="0.75"/>
<circle cx="1113.3" cy="804.8" r="1.8" fill="#6a4e2c" opacity="0.75"/>
<circle cx="1014.5" cy="762.6" r="1.3" fill="#a07030" opacity="0.75"/>
<circle cx="1171.8" cy="808.4" r="2.0" fill="#8a6434" opacity="0.75"/>
<circle cx="932.6" cy="810.9" r="1.1" fill="#2e2014" opacity="0.75"/>
<circle cx="991.3" cy="790.8" r="1.9" fill="#a07030" opacity="0.75"/>
<circle cx="1189.5" cy="763.8" r="1.5" fill="#2e2014" opacity="0.75"/>
<circle cx="1157.1" cy="803.6" r="2.3" fill="#7a5a30" opacity="0.75"/>
<circle cx="1080.2" cy="807.2" r="2.4" fill="#7a5a30" opacity="0.75"/>
<circle cx="1174.0" cy="792.3" r="2.4" fill="#6a4e2c" opacity="0.75"/>
<circle cx="988.5" cy="815.2" r="1.0" fill="#8a6434" opacity="0.75"/>
<circle cx="1104.6" cy="789.3" r="2.3" fill="#6a4e2c" opacity="0.75"/>
<ellipse cx="897" cy="803.5" rx="22" ry="7" fill="#5a5c5e"/>
<ellipse cx="903" cy="813" rx="6.5" ry="2.5" fill="#3e3e3a"/>
<ellipse cx="927" cy="820" rx="7.5" ry="2.5" fill="#3a3a36"/>
<ellipse cx="961" cy="823" rx="9" ry="3.5" fill="#3c3c38"/>
<ellipse cx="964" cy="835" rx="9" ry="3.5" fill="#b0a898"/>
<ellipse cx="1016" cy="830" rx="6" ry="3" fill="#3a3430"/>
<ellipse cx="1040" cy="830" rx="10" ry="3.5" fill="#3a3430"/>
<ellipse cx="1083" cy="838" rx="8" ry="4" fill="#3e5a66"/>
<ellipse cx="1110" cy="835" rx="6" ry="3" fill="#3a3430"/>
<ellipse cx="1140" cy="845" rx="7" ry="3" fill="#b0a898"/>
<ellipse cx="1180" cy="842" rx="6" ry="3" fill="#3a3430"/>
<ellipse cx="1210" cy="838" rx="9" ry="3" fill="#b0a898"/>
<ellipse cx="1240" cy="820" rx="8" ry="3" fill="#3a3430"/>
<ellipse cx="1250" cy="830" rx="10" ry="3.5" fill="#8e8a84"/>
<ellipse cx="1270" cy="815" rx="4" ry="2" fill="#3a3430"/>
<ellipse cx="880" cy="790" rx="5" ry="2" fill="#3a3a36"/>
<ellipse cx="1000" cy="845" rx="5" ry="2" fill="#7a7064"/>
<ellipse cx="955" cy="812" rx="3" ry="2" fill="#3a3a36"/>
<ellipse cx="985" cy="838" rx="6" ry="3" fill="#3a3430"/>
<ellipse cx="1060" cy="842" rx="5" ry="2" fill="#3a3430"/>
<ellipse cx="1120" cy="848" rx="5" ry="2.5" fill="#8e8a84"/>
<ellipse cx="1165" cy="835" rx="4" ry="2" fill="#3a3430"/>
<ellipse cx="1285" cy="790" rx="3" ry="1.5" fill="#3a3430"/>
<ellipse cx="1282" cy="805" rx="4" ry="2" fill="#3a3430"/>
<ellipse cx="934" cy="755" rx="4" ry="4" fill="#e6e0d0"/>
<ellipse cx="990" cy="808" rx="6" ry="3" fill="#d8c4a0"/>
<ellipse cx="1028" cy="789" rx="5" ry="2.5" fill="#d8c4a0"/>
<ellipse cx="1062" cy="818" rx="6" ry="3" fill="#d8c4a0"/>
<ellipse cx="1096" cy="808" rx="5" ry="3" fill="#d8c4a0"/>
<ellipse cx="1150" cy="800" rx="5" ry="2.5" fill="#d8c4a0"/>
<ellipse cx="1220" cy="792" rx="5" ry="2.5" fill="#d8c4a0"/>
<ellipse cx="1264" cy="800" rx="5" ry="2.5" fill="#d8c4a0"/>
<ellipse cx="1180" cy="775" rx="4" ry="2" fill="#c8a060"/>
<ellipse cx="1110" cy="770" rx="4" ry="2" fill="#c8a060"/>
<ellipse cx="1040" cy="765" rx="4" ry="2" fill="#c8a060"/>
<ellipse cx="1000" cy="770" rx="3" ry="1.5" fill="#d08a3a"/>
<ellipse cx="960" cy="768" rx="3" ry="1.5" fill="#d08a3a"/>
<ellipse cx="1140" cy="766" rx="3" ry="1.5" fill="#d08a3a"/>
<ellipse cx="1240" cy="770" rx="3" ry="1.5" fill="#d08a3a"/>
<ellipse cx="888.0" cy="739.0" rx="6.0" ry="6.0" fill="#a8c850" stroke="#7a9a30" stroke-width="1"/><ellipse cx="888.0" cy="739.0" rx="6.0" ry="6.0" fill="url(#ballShade)"/>
<ellipse cx="880.0" cy="758.0" rx="6.5" ry="6.5" fill="#a8c850" stroke="#7a9a30" stroke-width="1"/><ellipse cx="880.0" cy="758.0" rx="6.5" ry="6.5" fill="url(#ballShade)"/>
<ellipse cx="868.0" cy="733.0" rx="4.0" ry="4.0" fill="#e8e4d8" stroke="#b0a890" stroke-width="1"/><ellipse cx="868.0" cy="733.0" rx="4.0" ry="4.0" fill="url(#ballShade)"/>
<path d="M905.2 742.9 Q905.7 744.0 905.1 745.1 Q904.5 746.2 904.5 747.5 Q904.5 748.8 903.3 749.4 Q902.1 749.9 901.3 750.8 Q900.5 751.8 899.3 751.6 Q898.1 751.5 896.9 752.1 Q895.7 752.7 894.8 751.9 Q893.8 751.0 892.6 750.7 Q891.5 750.4 891.0 749.3 Q890.6 748.1 889.7 747.3 Q888.8 746.4 888.9 745.2 Q889.0 744.0 888.8 742.8 Q888.5 741.5 889.6 740.7 Q890.6 739.9 891.0 738.7 Q891.4 737.6 892.6 737.2 Q893.8 736.9 894.7 736.1 Q895.7 735.2 896.9 735.7 Q898.1 736.2 899.4 736.2 Q900.6 736.1 901.4 737.0 Q902.2 738.0 903.3 738.6 Q904.4 739.2 904.5 740.5 Q904.6 741.8 905.2 742.9Z" fill="#b07a28" stroke="#00000040" stroke-width="1"/><circle cx="897" cy="744" r="8" fill="url(#ballShade)"/><circle cx="899.1" cy="748.3" r="1.7" fill="#d09a40"/><circle cx="897.5" cy="746.1" r="0.8" fill="#d09a40"/><circle cx="895.8" cy="744.7" r="1.6" fill="#d09a40"/><circle cx="897.9" cy="741.5" r="1.2" fill="#d09a40"/><circle cx="893.5" cy="741.6" r="1.3" fill="#d09a40"/><circle cx="893.5" cy="744.2" r="1.0" fill="#d09a40"/>
<path d="M1272.2 763.1 Q1272.3 764.4 1271.7 765.6 Q1271.0 766.8 1270.9 768.1 Q1270.9 769.4 1269.6 770.0 Q1268.4 770.6 1267.7 771.8 Q1267.0 772.9 1265.7 773.1 Q1264.4 773.2 1263.2 773.7 Q1261.9 774.2 1260.8 773.4 Q1259.7 772.6 1258.3 772.5 Q1256.9 772.4 1256.4 771.2 Q1255.8 769.9 1254.7 769.1 Q1253.7 768.3 1253.8 766.9 Q1253.9 765.6 1253.5 764.3 Q1253.1 763.1 1254.0 762.1 Q1254.8 761.0 1255.0 759.7 Q1255.2 758.4 1256.4 757.8 Q1257.5 757.2 1258.4 756.1 Q1259.3 755.1 1260.7 755.5 Q1262.0 755.9 1263.3 755.5 Q1264.5 755.0 1265.6 755.8 Q1266.7 756.5 1267.9 757.0 Q1269.1 757.4 1269.7 758.6 Q1270.3 759.7 1271.2 760.7 Q1272.1 761.7 1272.2 763.1Z" fill="#c08a30" stroke="#00000040" stroke-width="1"/><circle cx="1262.6" cy="764.4" r="9" fill="url(#ballShade)"/><circle cx="1257.5" cy="766.1" r="1.3" fill="#d8a848"/><circle cx="1262.4" cy="769.9" r="1.6" fill="#d8a848"/><circle cx="1261.4" cy="768.0" r="1.4" fill="#d8a848"/><circle cx="1263.8" cy="767.4" r="1.0" fill="#d8a848"/><circle cx="1263.3" cy="766.9" r="1.4" fill="#d8a848"/><circle cx="1261.5" cy="761.3" r="1.5" fill="#d8a848"/><circle cx="1261.5" cy="767.0" r="1.3" fill="#d8a848"/>
<ellipse cx="1290.7" cy="736.0" rx="3.0" ry="3.0" fill="#7a7068" stroke="#5a5048" stroke-width="0.6"/><ellipse cx="1290.7" cy="736.0" rx="3.0" ry="3.0" fill="url(#ballShade)"/>
<ellipse cx="1300.4" cy="754.7" rx="6.5" ry="6.5" fill="#b8904a" stroke="#8a6a30" stroke-width="1"/><ellipse cx="1300.4" cy="754.7" rx="6.5" ry="6.5" fill="url(#ballShade)"/>
<ellipse cx="1284.6" cy="747.7" rx="2.5" ry="2.5" fill="#d8ccb8" stroke="#a89880" stroke-width="0.6"/><ellipse cx="1284.6" cy="747.7" rx="2.5" ry="2.5" fill="url(#ballShade)"/>
<ellipse cx="1296.9" cy="775.0" rx="5.0" ry="3.5" fill="#c8b08a" stroke="#9a8060" stroke-width="1"/><ellipse cx="1296.9" cy="775.0" rx="5.0" ry="3.5" fill="url(#ballShade)"/>
<ellipse cx="1329.4" cy="757.3" rx="4.0" ry="3.0" fill="#c8c0b4" stroke="#a09888" stroke-width="1"/><ellipse cx="1329.4" cy="757.3" rx="4.0" ry="3.0" fill="url(#ballShade)"/>
<ellipse cx="1288.0" cy="795.0" rx="4.5" ry="3.0" fill="#8a8478" stroke="#6a6458" stroke-width="1"/><ellipse cx="1288.0" cy="795.0" rx="4.5" ry="3.0" fill="url(#ballShade)"/>
<ellipse cx="1310.0" cy="768.0" rx="2.0" ry="2.0" fill="#9a9088" stroke="#7a7068" stroke-width="0.6"/><ellipse cx="1310.0" cy="768.0" rx="2.0" ry="2.0" fill="url(#ballShade)"/>
<rect x="912" y="372.7" width="346" height="388" rx="16" fill="#464c52"/>
<rect x="918" y="377" width="334" height="5" rx="2.5" fill="#80868b"/>
<rect x="916.5" y="380" width="5" height="375" rx="2.5" fill="#6b7176"/>
<rect x="1249" y="380" width="5" height="375" rx="2.5" fill="#5e6469"/>
<rect x="918" y="751" width="334" height="5" rx="2.5" fill="#6b7176"/>
<rect x="926.7" y="384.6" width="316.5" height="364.4" rx="4" fill="#e5e9ed"/>
<rect x="926.7" y="403" width="22.3" height="346" fill="url(#stripL)"/>
<rect x="1227" y="403" width="16.2" height="346" fill="url(#stripR)"/>
<path d="M926.7 697 H1243.2 V744 Q1243.2 749 1238 749 H931 Q926.7 749 926.7 744 Z" fill="#17324f"/>
<rect x="949" y="421" width="279" height="286" fill="url(#gapG)"/>
<rect x="949.00" y="421" width="17.50" height="276.5" fill="#fcf8dc" stroke="#3c5242" stroke-width="1"/>
<rect x="957.25" y="431" width="1.3" height="266" fill="#8e8c6c"/>
<path d="M949.00 431 V424 Q949.00 421 952.00 421 H963.50 Q966.50 421 966.50 424 V431 Z" fill="#28547c"/>
<path d="M955.90 424 Q957.90 428 959.90 424" fill="none" stroke="#c8d8e0" stroke-width="1"/>
<rect x="971.70" y="421" width="16.75" height="276.5" fill="#fcf8dc" stroke="#3c5242" stroke-width="1"/>
<rect x="979.20" y="431" width="1.3" height="266" fill="#8e8c6c"/>
<path d="M971.70 431 V424 Q971.70 421 974.70 421 H985.45 Q988.45 421 988.45 424 V431 Z" fill="#28547c"/>
<path d="M977.85 424 Q979.85 428 981.85 424" fill="none" stroke="#c8d8e0" stroke-width="1"/>
<rect x="993.65" y="421" width="16.75" height="276.5" fill="#fcf8dc" stroke="#3c5242" stroke-width="1"/>
<rect x="1001.15" y="431" width="1.3" height="266" fill="#8e8c6c"/>
<path d="M993.65 431 V424 Q993.65 421 996.65 421 H1007.40 Q1010.40 421 1010.40 424 V431 Z" fill="#28547c"/>
<path d="M999.80 424 Q1001.80 428 1003.80 424" fill="none" stroke="#c8d8e0" stroke-width="1"/>
<rect x="1015.60" y="421" width="16.75" height="276.5" fill="#fcf8dc" stroke="#3c5242" stroke-width="1"/>
<rect x="1023.10" y="431" width="1.3" height="266" fill="#8e8c6c"/>
<path d="M1015.60 431 V424 Q1015.60 421 1018.60 421 H1029.35 Q1032.35 421 1032.35 424 V431 Z" fill="#28547c"/>
<path d="M1021.75 424 Q1023.75 428 1025.75 424" fill="none" stroke="#c8d8e0" stroke-width="1"/>
<rect x="1037.55" y="421" width="16.75" height="276.5" fill="#fcf8dc" stroke="#3c5242" stroke-width="1"/>
<rect x="1045.05" y="431" width="1.3" height="266" fill="#8e8c6c"/>
<path d="M1037.55 431 V424 Q1037.55 421 1040.55 421 H1051.30 Q1054.30 421 1054.30 424 V431 Z" fill="#28547c"/>
<path d="M1043.70 424 Q1045.70 428 1047.70 424" fill="none" stroke="#c8d8e0" stroke-width="1"/>
<rect x="1059.50" y="421" width="16.75" height="276.5" fill="#fcf8dc" stroke="#3c5242" stroke-width="1"/>
<rect x="1067.00" y="431" width="1.3" height="266" fill="#8e8c6c"/>
<path d="M1059.50 431 V424 Q1059.50 421 1062.50 421 H1073.25 Q1076.25 421 1076.25 424 V431 Z" fill="#28547c"/>
<path d="M1065.65 424 Q1067.65 428 1069.65 424" fill="none" stroke="#c8d8e0" stroke-width="1"/>
<rect x="1081.45" y="421" width="16.75" height="276.5" fill="#fcf8dc" stroke="#3c5242" stroke-width="1"/>
<rect x="1088.95" y="431" width="1.3" height="266" fill="#8e8c6c"/>
<path d="M1081.45 431 V424 Q1081.45 421 1084.45 421 H1095.20 Q1098.20 421 1098.20 424 V431 Z" fill="#28547c"/>
<path d="M1087.60 424 Q1089.60 428 1091.60 424" fill="none" stroke="#c8d8e0" stroke-width="1"/>
<rect x="1103.40" y="421" width="16.75" height="276.5" fill="#fcf8dc" stroke="#3c5242" stroke-width="1"/>
<rect x="1110.90" y="431" width="1.3" height="266" fill="#8e8c6c"/>
<path d="M1103.40 431 V424 Q1103.40 421 1106.40 421 H1117.15 Q1120.15 421 1120.15 424 V431 Z" fill="#28547c"/>
<path d="M1109.55 424 Q1111.55 428 1113.55 424" fill="none" stroke="#c8d8e0" stroke-width="1"/>
<rect x="1125.35" y="421" width="16.75" height="276.5" fill="#fcf8dc" stroke="#3c5242" stroke-width="1"/>
<rect x="1132.85" y="431" width="1.3" height="266" fill="#8e8c6c"/>
<path d="M1125.35 431 V424 Q1125.35 421 1128.35 421 H1139.10 Q1142.10 421 1142.10 424 V431 Z" fill="#28547c"/>
<path d="M1131.50 424 Q1133.50 428 1135.50 424" fill="none" stroke="#c8d8e0" stroke-width="1"/>
<rect x="1147.30" y="421" width="16.75" height="276.5" fill="#fcf8dc" stroke="#3c5242" stroke-width="1"/>
<rect x="1154.80" y="431" width="1.3" height="266" fill="#8e8c6c"/>
<path d="M1147.30 431 V424 Q1147.30 421 1150.30 421 H1161.05 Q1164.05 421 1164.05 424 V431 Z" fill="#28547c"/>
<path d="M1153.45 424 Q1155.45 428 1157.45 424" fill="none" stroke="#c8d8e0" stroke-width="1"/>
<rect x="1169.25" y="421" width="16.75" height="276.5" fill="#fcf8dc" stroke="#3c5242" stroke-width="1"/>
<rect x="1176.75" y="431" width="1.3" height="266" fill="#8e8c6c"/>
<path d="M1169.25 431 V424 Q1169.25 421 1172.25 421 H1183.00 Q1186.00 421 1186.00 424 V431 Z" fill="#28547c"/>
<path d="M1175.40 424 Q1177.40 428 1179.40 424" fill="none" stroke="#c8d8e0" stroke-width="1"/>
<rect x="1191.20" y="421" width="16.75" height="276.5" fill="#fcf8dc" stroke="#3c5242" stroke-width="1"/>
<rect x="1198.70" y="431" width="1.3" height="266" fill="#8e8c6c"/>
<path d="M1191.20 431 V424 Q1191.20 421 1194.20 421 H1204.95 Q1207.95 421 1207.95 424 V431 Z" fill="#28547c"/>
<path d="M1197.35 424 Q1199.35 428 1201.35 424" fill="none" stroke="#c8d8e0" stroke-width="1"/>
<rect x="1213.15" y="421" width="14.35" height="276.5" fill="#fcf8dc" stroke="#3c5242" stroke-width="1"/>
<rect x="1218.35" y="431" width="1.3" height="266" fill="#8e8c6c"/>
<path d="M1213.15 431 V424 Q1213.15 421 1216.15 421 H1224.50 Q1227.50 421 1227.50 424 V431 Z" fill="#28547c"/>
<path d="M1217.00 424 Q1219.00 428 1221.00 424" fill="none" stroke="#c8d8e0" stroke-width="1"/>
<rect x="940" y="403.4" width="290" height="14.6" fill="#1b4a78"/>
<rect x="940" y="403.4" width="290" height="3" fill="#0f365c"/>
<rect x="945" y="409" width="280" height="3" fill="#2f6a98" opacity="0.7"/>
<rect x="955.00" y="410" width="8" height="9" fill="#0f3456"/>
<rect x="976.95" y="410" width="8" height="9" fill="#0f3456"/>
<rect x="998.90" y="410" width="8" height="9" fill="#0f3456"/>
<rect x="1020.85" y="410" width="8" height="9" fill="#0f3456"/>
<rect x="1042.80" y="410" width="8" height="9" fill="#0f3456"/>
<rect x="1064.75" y="410" width="8" height="9" fill="#0f3456"/>
<rect x="1086.70" y="410" width="8" height="9" fill="#0f3456"/>
<rect x="1108.65" y="410" width="8" height="9" fill="#0f3456"/>
<rect x="1130.60" y="410" width="8" height="9" fill="#0f3456"/>
<rect x="1152.55" y="410" width="8" height="9" fill="#0f3456"/>
<rect x="1174.50" y="410" width="8" height="9" fill="#0f3456"/>
<rect x="1196.45" y="410" width="8" height="9" fill="#0f3456"/>
<rect x="1218.40" y="410" width="8" height="9" fill="#0f3456"/>
<rect x="940" y="700" width="291" height="16" fill="#2a5a8a"/>
<rect x="940" y="700" width="291" height="3" fill="#3e72a4"/>
<rect x="940" y="713" width="291" height="3" fill="#163a62"/>
<rect x="965.10" y="690" width="8" height="18" fill="#143c66"/>
<rect x="987.05" y="690" width="8" height="18" fill="#143c66"/>
<rect x="1009.00" y="690" width="8" height="18" fill="#143c66"/>
<rect x="1030.95" y="690" width="8" height="18" fill="#143c66"/>
<rect x="1052.90" y="690" width="8" height="18" fill="#143c66"/>
<rect x="1074.85" y="690" width="8" height="18" fill="#143c66"/>
<rect x="1096.80" y="690" width="8" height="18" fill="#143c66"/>
<rect x="1118.75" y="690" width="8" height="18" fill="#143c66"/>
<rect x="1140.70" y="690" width="8" height="18" fill="#143c66"/>
<rect x="1162.65" y="690" width="8" height="18" fill="#143c66"/>
<rect x="1184.60" y="690" width="8" height="18" fill="#143c66"/>
<rect x="1206.55" y="690" width="8" height="18" fill="#143c66"/>
<ellipse cx="935.5" cy="690.8" rx="4.5" ry="4.5" fill="#e0c8a0" stroke="#9a8060" stroke-width="1"/><ellipse cx="935.5" cy="690.8" rx="4.5" ry="4.5" fill="url(#ballShade)"/>
<ellipse cx="937.8" cy="710.3" rx="6.0" ry="6.0" fill="#d89030" stroke="#8a5a18" stroke-width="1"/><ellipse cx="937.8" cy="710.3" rx="6.0" ry="6.0" fill="url(#ballShade)"/>
<ellipse cx="939.4" cy="733.8" rx="5.0" ry="5.0" fill="#d8a060" stroke="#8a6030" stroke-width="1"/><ellipse cx="939.4" cy="733.8" rx="5.0" ry="5.0" fill="url(#ballShade)"/>
<ellipse cx="1034.0" cy="736.0" rx="8.0" ry="8.0" fill="#d88a30" stroke="#8a4a10" stroke-width="1"/><ellipse cx="1034.0" cy="736.0" rx="8.0" ry="8.0" fill="url(#ballShade)"/>
<ellipse cx="1203.5" cy="735.7" rx="8.0" ry="8.0" fill="#d88a30" stroke="#8a4a10" stroke-width="1"/><ellipse cx="1203.5" cy="735.7" rx="8.0" ry="8.0" fill="url(#ballShade)"/>
<ellipse cx="1229.5" cy="733.0" rx="6.5" ry="6.5" fill="#d88a30" stroke="#8a4a10" stroke-width="1"/><ellipse cx="1229.5" cy="733.0" rx="6.5" ry="6.5" fill="url(#ballShade)"/>
<ellipse cx="1108.7" cy="738.5" rx="5.0" ry="5.0" fill="#d88a30" stroke="#8a4a10" stroke-width="1"/><ellipse cx="1108.7" cy="738.5" rx="5.0" ry="5.0" fill="url(#ballShade)"/>
<ellipse cx="1240.0" cy="700.0" rx="3.0" ry="3.0" fill="#d8b888" stroke="#9a7a50" stroke-width="0.6"/><ellipse cx="1240.0" cy="700.0" rx="3.0" ry="3.0" fill="url(#ballShade)"/>
<ellipse cx="1238.0" cy="687.0" rx="3.0" ry="3.0" fill="#d8b888" stroke="#9a7a50" stroke-width="0.6"/><ellipse cx="1238.0" cy="687.0" rx="3.0" ry="3.0" fill="url(#ballShade)"/>
<ellipse cx="961.3" cy="730.6" rx="7.5" ry="7.5" fill="#9ac870" stroke="#6a9a40" stroke-width="1"/><ellipse cx="961.3" cy="730.6" rx="7.5" ry="7.5" fill="url(#ballShade)"/>
<path d="M1002.7 730.7 Q1003.0 732.2 1002.2 733.6 Q1001.4 734.9 1001.4 736.4 Q1001.3 737.9 1000.0 738.7 Q998.7 739.5 997.9 740.8 Q997.1 742.0 995.7 742.2 Q994.2 742.4 992.9 743.2 Q991.6 744.0 990.3 743.2 Q988.9 742.4 987.4 742.6 Q985.9 742.9 985.0 741.7 Q984.1 740.5 982.8 739.8 Q981.5 739.0 981.1 737.6 Q980.8 736.2 979.9 735.0 Q979.0 733.7 979.6 732.3 Q980.3 730.9 980.2 729.4 Q980.2 727.9 981.1 726.9 Q982.1 725.8 982.7 724.4 Q983.2 722.9 984.8 722.7 Q986.3 722.4 987.5 721.6 Q988.7 720.8 990.2 721.1 Q991.6 721.3 993.1 721.1 Q994.6 720.9 995.6 722.1 Q996.6 723.3 998.0 723.8 Q999.4 724.2 999.9 725.6 Q1000.4 727.0 1001.4 728.1 Q1002.3 729.3 1002.7 730.7Z" fill="#d09a30" stroke="#9a6a18" stroke-width="1"/><circle cx="990.9" cy="732.2" r="11" fill="url(#ballShade)"/><circle cx="991.3" cy="730.2" r="2.2" fill="#e8b850"/><circle cx="993.7" cy="734.8" r="1.7" fill="#e8b850"/><circle cx="992.9" cy="731.3" r="2.0" fill="#e8b850"/><circle cx="992.2" cy="739.2" r="1.4" fill="#e8b850"/><circle cx="991.2" cy="729.5" r="2.0" fill="#e8b850"/><circle cx="985.2" cy="731.5" r="2.3" fill="#e8b850"/><circle cx="992.1" cy="728.7" r="1.4" fill="#e8b850"/><circle cx="992.3" cy="730.3" r="2.3" fill="#e8b850"/>
<path d="M1132.7 726.2 Q1132.9 727.5 1132.1 728.7 Q1131.2 729.8 1131.4 731.2 Q1131.5 732.7 1130.3 733.4 Q1129.1 734.0 1128.3 735.0 Q1127.4 736.0 1126.1 736.0 Q1124.8 736.0 1123.5 736.7 Q1122.3 737.4 1121.2 736.5 Q1120.1 735.6 1118.7 735.6 Q1117.3 735.5 1116.7 734.3 Q1116.1 733.1 1115.2 732.2 Q1114.3 731.3 1114.4 730.0 Q1114.6 728.7 1114.0 727.4 Q1113.5 726.2 1114.3 725.1 Q1115.1 724.0 1115.3 722.7 Q1115.5 721.4 1116.7 720.8 Q1117.9 720.2 1118.8 719.2 Q1119.7 718.1 1121.0 718.4 Q1122.4 718.7 1123.7 718.4 Q1125.0 718.0 1126.0 718.9 Q1127.0 719.8 1128.4 720.0 Q1129.8 720.2 1130.0 721.7 Q1130.2 723.1 1131.4 724.0 Q1132.5 724.8 1132.7 726.2Z" fill="#d09a30" stroke="#9a6a18" stroke-width="1"/><circle cx="1123" cy="727.5" r="9" fill="url(#ballShade)"/><circle cx="1123.1" cy="728.0" r="1.0" fill="#e8b850"/><circle cx="1119.3" cy="726.5" r="1.0" fill="#e8b850"/><circle cx="1125.7" cy="728.7" r="1.4" fill="#e8b850"/><circle cx="1125.4" cy="727.0" r="1.8" fill="#e8b850"/><circle cx="1122.3" cy="725.9" r="1.4" fill="#e8b850"/><circle cx="1122.9" cy="727.5" r="1.6" fill="#e8b850"/><circle cx="1122.8" cy="729.1" r="1.1" fill="#e8b850"/>
<path d="M1174.2 730.1 Q1174.5 731.6 1173.9 733.0 Q1173.2 734.3 1173.2 735.9 Q1173.3 737.5 1171.7 738.1 Q1170.1 738.7 1169.6 740.2 Q1169.0 741.7 1167.5 741.8 Q1166.0 742.0 1164.7 742.8 Q1163.4 743.6 1162.0 742.7 Q1160.7 741.8 1159.1 742.2 Q1157.5 742.5 1156.5 741.3 Q1155.6 740.0 1154.3 739.3 Q1152.9 738.7 1152.7 737.1 Q1152.5 735.6 1151.7 734.3 Q1151.0 733.1 1151.6 731.7 Q1152.3 730.3 1152.1 728.8 Q1151.8 727.3 1152.8 726.3 Q1153.8 725.2 1154.5 723.9 Q1155.2 722.6 1156.6 722.3 Q1158.1 722.0 1159.3 721.1 Q1160.4 720.2 1161.8 720.7 Q1163.3 721.2 1164.7 720.8 Q1166.2 720.5 1167.2 721.6 Q1168.3 722.7 1169.8 723.0 Q1171.4 723.4 1171.7 724.9 Q1172.1 726.4 1173.1 727.5 Q1174.0 728.7 1174.2 730.1Z" fill="#d09a30" stroke="#9a6a18" stroke-width="1"/><circle cx="1162.6" cy="731.6" r="11" fill="url(#ballShade)"/><circle cx="1160.2" cy="733.0" r="2.0" fill="#e8b850"/><circle cx="1157.6" cy="731.7" r="1.6" fill="#e8b850"/><circle cx="1160.7" cy="724.8" r="2.1" fill="#e8b850"/><circle cx="1168.1" cy="726.3" r="2.2" fill="#e8b850"/><circle cx="1164.4" cy="730.0" r="2.2" fill="#e8b850"/><circle cx="1157.4" cy="731.2" r="1.2" fill="#e8b850"/><circle cx="1160.3" cy="729.4" r="1.7" fill="#e8b850"/><circle cx="1160.9" cy="734.1" r="2.1" fill="#e8b850"/>
<path d="M1091.1 729.6 Q1092.1 731.0 1091.1 732.4 Q1090.1 733.7 1090.3 735.4 Q1090.6 737.1 1089.1 737.9 Q1087.6 738.7 1087.0 740.2 Q1086.4 741.8 1084.7 741.7 Q1083.0 741.7 1081.8 742.9 Q1080.6 744.1 1079.1 743.2 Q1077.6 742.3 1076.0 742.8 Q1074.4 743.2 1073.5 741.8 Q1072.5 740.4 1070.8 740.1 Q1069.0 739.8 1068.8 738.1 Q1068.6 736.5 1067.6 735.2 Q1066.7 734.0 1066.9 732.5 Q1067.2 731.0 1066.9 729.5 Q1066.6 727.9 1067.7 726.8 Q1068.9 725.7 1069.2 724.1 Q1069.5 722.5 1070.9 721.9 Q1072.3 721.3 1073.4 720.2 Q1074.5 719.0 1076.0 719.2 Q1077.6 719.3 1079.1 718.6 Q1080.6 717.8 1081.9 719.0 Q1083.1 720.1 1084.8 720.2 Q1086.4 720.2 1087.2 721.7 Q1087.9 723.1 1089.3 724.0 Q1090.7 724.8 1090.4 726.5 Q1090.1 728.3 1091.1 729.6Z" fill="#98c040" stroke="#6a9020" stroke-width="1"/><circle cx="1079" cy="731" r="12" fill="url(#ballShade)"/><circle cx="1078.7" cy="733.1" r="2.2" fill="#b0d858"/><circle cx="1074.7" cy="734.7" r="1.4" fill="#b0d858"/><circle cx="1083.6" cy="738.0" r="2.5" fill="#b0d858"/><circle cx="1080.0" cy="733.8" r="2.0" fill="#b0d858"/><circle cx="1080.1" cy="727.8" r="2.5" fill="#b0d858"/><circle cx="1082.6" cy="724.8" r="1.4" fill="#b0d858"/><circle cx="1082.4" cy="732.5" r="2.5" fill="#b0d858"/><circle cx="1077.9" cy="729.5" r="2.2" fill="#b0d858"/><circle cx="1078.0" cy="731.7" r="2.0" fill="#b0d858"/>
<ellipse cx="974.5" cy="725.6" rx="2" ry="1.6" fill="#d8c49a"/>
<ellipse cx="1013.6" cy="725.2" rx="2.5" ry="2.0" fill="#d8c49a"/>
<ellipse cx="1030" cy="722" rx="2.5" ry="2.0" fill="#d8c49a"/>
<ellipse cx="1050" cy="724" rx="2" ry="1.6" fill="#d8c49a"/>
<ellipse cx="1090" cy="742" rx="2" ry="1.6" fill="#d8c49a"/>
<ellipse cx="1140" cy="724" rx="2.5" ry="2.0" fill="#d8c49a"/>
<ellipse cx="1145" cy="742" rx="2" ry="1.6" fill="#d8c49a"/>
<ellipse cx="1185" cy="724" rx="2" ry="1.6" fill="#d8c49a"/>
<ellipse cx="1185" cy="742" rx="2" ry="1.6" fill="#d8c49a"/>
<ellipse cx="1215" cy="722" rx="2" ry="1.6" fill="#d8c49a"/>
<ellipse cx="1010" cy="744" rx="2.5" ry="2.0" fill="#d8c49a"/>
<ellipse cx="960" cy="745" rx="2" ry="1.6" fill="#d8c49a"/>
<ellipse cx="1062" cy="745" rx="2" ry="1.6" fill="#d8c49a"/>
<ellipse cx="1255" cy="720" rx="2" ry="1.6" fill="#d8c49a"/>
<ellipse cx="938.0" cy="485.0" rx="3.0" ry="3.0" fill="#b08040" stroke="#7a5a28" stroke-width="0.6"/><ellipse cx="938.0" cy="485.0" rx="3.0" ry="3.0" fill="url(#ballShade)"/>
<ellipse cx="940.0" cy="508.0" rx="5.0" ry="5.0" fill="#e8dcb0" stroke="#7a5a28" stroke-width="1"/><ellipse cx="940.0" cy="508.0" rx="5.0" ry="5.0" fill="url(#ballShade)"/>
<ellipse cx="938.0" cy="570.0" rx="3.0" ry="3.0" fill="#c8a060" stroke="#7a5a28" stroke-width="0.6"/><ellipse cx="938.0" cy="570.0" rx="3.0" ry="3.0" fill="url(#ballShade)"/>
<ellipse cx="939.0" cy="592.0" rx="5.0" ry="5.0" fill="#b06a20" stroke="#7a5a28" stroke-width="1"/><ellipse cx="939.0" cy="592.0" rx="5.0" ry="5.0" fill="url(#ballShade)"/>
<ellipse cx="940.0" cy="620.0" rx="2.5" ry="2.5" fill="#c8a060" stroke="#7a5a28" stroke-width="0.6"/><ellipse cx="940.0" cy="620.0" rx="2.5" ry="2.5" fill="url(#ballShade)"/>
<ellipse cx="942.0" cy="680.0" rx="4.0" ry="4.0" fill="#e0c898" stroke="#7a5a28" stroke-width="1"/><ellipse cx="942.0" cy="680.0" rx="4.0" ry="4.0" fill="url(#ballShade)"/>
<ellipse cx="1238.0" cy="505.0" rx="3.0" ry="3.0" fill="#c8a040" stroke="#7a5a28" stroke-width="0.6"/><ellipse cx="1238.0" cy="505.0" rx="3.0" ry="3.0" fill="url(#ballShade)"/>
<ellipse cx="1236.0" cy="520.0" rx="5.0" ry="5.0" fill="#d8c070" stroke="#7a5a28" stroke-width="1"/><ellipse cx="1236.0" cy="520.0" rx="5.0" ry="5.0" fill="url(#ballShade)"/>
<ellipse cx="1236.0" cy="583.0" rx="3.0" ry="3.0" fill="#d8c070" stroke="#7a5a28" stroke-width="0.6"/><ellipse cx="1236.0" cy="583.0" rx="3.0" ry="3.0" fill="url(#ballShade)"/>
<ellipse cx="1238.0" cy="604.0" rx="3.0" ry="3.0" fill="#d8c070" stroke="#7a5a28" stroke-width="0.6"/><ellipse cx="1238.0" cy="604.0" rx="3.0" ry="3.0" fill="url(#ballShade)"/>
<ellipse cx="937" cy="616" rx="9" ry="4" fill="#1a5a8e"/>
<rect x="868" y="430.6" width="81" height="29.5" fill="url(#bluePipe)"/>
<rect x="868" y="430.6" width="81" height="2.5" fill="#3fa3d6"/>
<path d="M759 431.2 H850 V421 L884.2 445.8 L850 469.3 V461.7 H759 Q744 461.7 744 446.5 Q744 431.2 759 431.2 Z" fill="#4d5960" stroke="#3a444a" stroke-width="2" stroke-linejoin="round"/>
<path d="M760 436 H852 L866 440 H760 Q752 440 752 438 Q754 436 760 436 Z" fill="#8d999f" opacity="0.9"/>
<path d="M1227 430.9 H1447 V423.8 L1488.4 447.6 L1447 469.5 V459.9 H1227 Z" fill="url(#permPipe)"/>
<path d="M1227 436 H1440 L1455 440 H1227 Z" fill="#8ccbe8" opacity="0.8"/>
<ellipse cx="1338" cy="440" rx="6.5" ry="5" fill="#2284bd"/>
<ellipse cx="1338" cy="439.0" rx="5.3" ry="3.6" fill="#eef8fc"/>
<ellipse cx="1339.6" cy="440.8" rx="3.2" ry="1.8" fill="#bfe2f2"/>
<ellipse cx="1327" cy="451" rx="9" ry="7" fill="#2284bd"/>
<ellipse cx="1327" cy="449.6" rx="7.4" ry="5.0" fill="#eef8fc"/>
<ellipse cx="1329.2" cy="452.1" rx="4.5" ry="2.4" fill="#bfe2f2"/>
<ellipse cx="1336" cy="463" rx="8" ry="5" fill="#2284bd"/>
<ellipse cx="1336" cy="462.0" rx="6.6" ry="3.6" fill="#eef8fc"/>
<ellipse cx="1338.0" cy="463.8" rx="4.0" ry="1.8" fill="#bfe2f2"/>
<ellipse cx="1370" cy="452" rx="9" ry="8" fill="#2284bd"/>
<ellipse cx="1370" cy="450.4" rx="7.4" ry="5.8" fill="#eef8fc"/>
<ellipse cx="1372.2" cy="453.2" rx="4.5" ry="2.8" fill="#bfe2f2"/>
<ellipse cx="1400" cy="451" rx="11" ry="9" fill="#2284bd"/>
<ellipse cx="1400" cy="449.2" rx="9.0" ry="6.5" fill="#eef8fc"/>
<ellipse cx="1402.8" cy="452.4" rx="5.5" ry="3.1" fill="#bfe2f2"/>
<ellipse cx="1417" cy="439" rx="5.5" ry="3.5" fill="#2284bd"/>
<ellipse cx="1417" cy="438.3" rx="4.5" ry="2.5" fill="#eef8fc"/>
<ellipse cx="1418.4" cy="439.5" rx="2.8" ry="1.2" fill="#bfe2f2"/>
<ellipse cx="1425" cy="451" rx="7" ry="3.2" fill="#2284bd"/>
<ellipse cx="1425" cy="450.4" rx="5.7" ry="2.3" fill="#eef8fc"/>
<ellipse cx="1426.8" cy="451.5" rx="3.5" ry="1.1" fill="#bfe2f2"/>
<rect x="1365.3" y="395.4" width="5.3" height="22" fill="#0f4c7e"/>
<path d="M1350 416.8 L1385.6 416.8 L1368 439.6 Z" fill="#0f4c7e"/>
<path d="M1228 649 H1294.5 V637 L1332 664 L1294.5 690.5 V676 H1228 Z" fill="#0f5a8f"/>
<path d="M1243 645 H1258 V649 H1243 Z" fill="#ffffff"/>
<rect x="911" y="519" width="17" height="17" fill="#ffffff"/>
<rect x="911" y="642" width="17" height="28" fill="#ffffff"/>
<path d="M734 525.3 H939 V515 L960 527.5 L939 540 V529.7 H734 Z" fill="#3e6f99" stroke="#ffffff" stroke-width="3" stroke-linejoin="miter" paint-order="stroke"/>
<path d="M927.6 651 V643 L951 656.3 L927.6 669.6 V661 Z" fill="#35503a" stroke="#ffffff" stroke-width="3" paint-order="stroke"/>
<path d="M672.7 652 H800 L870 653 L928 653.5 V658.5 L870 658 L800 656 H672.7 Z" fill="#1f4f7f"/>
<path d="M800 653 L928 653.5 V658.5 L800 655 Z" fill="#3a5a3a" opacity="0.9"/>
<ellipse cx="774.8" cy="546.1" rx="4.3" ry="4.3" fill="#a0703a" stroke="#6a4a20" stroke-width="1"/><ellipse cx="774.8" cy="546.1" rx="4.3" ry="4.3" fill="url(#ballShade)"/>
<ellipse cx="806.4" cy="547.0" rx="2.5" ry="2.5" fill="#8a8a40" stroke="#5a5a20" stroke-width="0.6"/><ellipse cx="806.4" cy="547.0" rx="2.5" ry="2.5" fill="url(#ballShade)"/>
<ellipse cx="821.3" cy="540.5" rx="1.8" ry="1.8" fill="#7a9a40" stroke="#4a6a20" stroke-width="0.6"/><ellipse cx="821.3" cy="540.5" rx="1.8" ry="1.8" fill="url(#ballShade)"/>
<ellipse cx="739.3" cy="562.4" rx="3.6" ry="3.6" fill="#9a7040" stroke="#6a4a20" stroke-width="0.6"/><ellipse cx="739.3" cy="562.4" rx="3.6" ry="3.6" fill="url(#ballShade)"/>
<ellipse cx="895.5" cy="565.9" rx="6.5" ry="6.5" fill="#c0701a" stroke="#8a4a10" stroke-width="1"/><ellipse cx="895.5" cy="565.9" rx="6.5" ry="6.5" fill="url(#ballShade)"/>
<ellipse cx="810.4" cy="575.2" rx="7.5" ry="7.5" fill="#c8781e" stroke="#8a4a10" stroke-width="1"/><ellipse cx="810.4" cy="575.2" rx="7.5" ry="7.5" fill="url(#ballShade)"/>
<ellipse cx="754.1" cy="585.0" rx="3.0" ry="3.0" fill="#9a7040" stroke="#6a4a20" stroke-width="0.6"/><ellipse cx="754.1" cy="585.0" rx="3.0" ry="3.0" fill="url(#ballShade)"/>
<ellipse cx="785.4" cy="594.3" rx="5.0" ry="5.0" fill="#b0a030" stroke="#7a7018" stroke-width="1"/><ellipse cx="785.4" cy="594.3" rx="5.0" ry="5.0" fill="url(#ballShade)"/>
<ellipse cx="872.3" cy="555.7" rx="3.5" ry="3.5" fill="#5a9a4a" stroke="#3a6a2a" stroke-width="0.6"/><ellipse cx="872.3" cy="555.7" rx="3.5" ry="3.5" fill="url(#ballShade)"/>
<ellipse cx="783.8" cy="564.6" rx="4.0" ry="4.0" fill="#5aa040" stroke="#3a7020" stroke-width="1"/><ellipse cx="783.8" cy="564.6" rx="4.0" ry="4.0" fill="url(#ballShade)"/>
<ellipse cx="845.0" cy="582.0" rx="2.2" ry="2.2" fill="#5a9a4a" stroke="#3a6a2a" stroke-width="0.6"/><ellipse cx="845.0" cy="582.0" rx="2.2" ry="2.2" fill="url(#ballShade)"/>
<ellipse cx="830.8" cy="591.9" rx="3.8" ry="3.8" fill="#70a050" stroke="#4a7030" stroke-width="0.6"/><ellipse cx="830.8" cy="591.9" rx="3.8" ry="3.8" fill="url(#ballShade)"/>
<ellipse cx="895.1" cy="593.1" rx="7.5" ry="7.5" fill="#a08020" stroke="#6a5010" stroke-width="1"/><ellipse cx="895.1" cy="593.1" rx="7.5" ry="7.5" fill="url(#ballShade)"/>
<ellipse cx="767.5" cy="718.7" rx="6.3" ry="6.3" fill="#7ab040" stroke="#4a8020" stroke-width="1"/><ellipse cx="767.5" cy="718.7" rx="6.3" ry="6.3" fill="url(#ballShade)"/>
<ellipse cx="849.6" cy="703.4" rx="3.0" ry="3.0" fill="#6aa050" stroke="#4a7030" stroke-width="0.6"/><ellipse cx="849.6" cy="703.4" rx="3.0" ry="3.0" fill="url(#ballShade)"/>
<ellipse cx="871.8" cy="696.4" rx="6.7" ry="6.7" fill="#b0681e" stroke="#7a4010" stroke-width="1"/><ellipse cx="871.8" cy="696.4" rx="6.7" ry="6.7" fill="url(#ballShade)"/>
<ellipse cx="898.2" cy="691.7" rx="6.8" ry="6.8" fill="#5aa830" stroke="#3a7818" stroke-width="1"/><ellipse cx="898.2" cy="691.7" rx="6.8" ry="6.8" fill="url(#ballShade)"/>
<ellipse cx="836.1" cy="726.3" rx="1.8" ry="1.8" fill="#8a9a8a" stroke="#5a6a5a" stroke-width="0.6"/><ellipse cx="836.1" cy="726.3" rx="1.8" ry="1.8" fill="url(#ballShade)"/>
<ellipse cx="794.1" cy="740.4" rx="3.3" ry="3.3" fill="#c0a880" stroke="#8a7050" stroke-width="0.6"/><ellipse cx="794.1" cy="740.4" rx="3.3" ry="3.3" fill="url(#ballShade)"/>
<ellipse cx="835.2" cy="740.7" rx="4.2" ry="4.2" fill="#6aa040" stroke="#4a7020" stroke-width="1"/><ellipse cx="835.2" cy="740.7" rx="4.2" ry="4.2" fill="url(#ballShade)"/>
<ellipse cx="821.5" cy="753.2" rx="5.4" ry="5.4" fill="#b09050" stroke="#7a6030" stroke-width="1"/><ellipse cx="821.5" cy="753.2" rx="5.4" ry="5.4" fill="url(#ballShade)"/>
<ellipse cx="844.9" cy="766.1" rx="3.3" ry="3.3" fill="#c0a070" stroke="#8a7050" stroke-width="0.6"/><ellipse cx="844.9" cy="766.1" rx="3.3" ry="3.3" fill="url(#ballShade)"/>
<ellipse cx="897.0" cy="617.0" rx="2.0" ry="2.0" fill="#7a9a40" stroke="#4a6a20" stroke-width="0.6"/><ellipse cx="897.0" cy="617.0" rx="2.0" ry="2.0" fill="url(#ballShade)"/>
<ellipse cx="899.0" cy="630.0" rx="3.0" ry="3.0" fill="#a09040" stroke="#6a6020" stroke-width="0.6"/><ellipse cx="899.0" cy="630.0" rx="3.0" ry="3.0" fill="url(#ballShade)"/>
<ellipse cx="871.0" cy="670.0" rx="3.0" ry="3.0" fill="#6aa050" stroke="#4a7030" stroke-width="0.6"/><ellipse cx="871.0" cy="670.0" rx="3.0" ry="3.0" fill="url(#ballShade)"/>
<ellipse cx="900.0" cy="680.0" rx="2.0" ry="2.0" fill="#6aa050" stroke="#4a7030" stroke-width="0.6"/><ellipse cx="900.0" cy="680.0" rx="2.0" ry="2.0" fill="url(#ballShade)"/>
<ellipse cx="899.0" cy="605.0" rx="2.0" ry="2.0" fill="#c8a060" stroke="#8a6030" stroke-width="0.6"/><ellipse cx="899.0" cy="605.0" rx="2.0" ry="2.0" fill="url(#ballShade)"/>
<ellipse cx="889.6" cy="544.2" rx="6.0" ry="6.8" fill="#7ab040" stroke="#4a8020" stroke-width="1" transform="rotate(20 889.6 544.2)"/><ellipse cx="889.6" cy="544.2" rx="6.0" ry="6.8" fill="url(#ballShade)" transform="rotate(20 889.6 544.2)"/>
<ellipse cx="873.5" cy="580.7" rx="7.0" ry="7.0" fill="#70b040" stroke="#4a8020" stroke-width="1"/><ellipse cx="873.5" cy="580.7" rx="7.0" ry="7.0" fill="url(#ballShade)"/>
<path d="M858 586 L868 584 L871 594 L862 598 L856 594 Z" fill="#4a9a3a"/>
<path d="M856.9 552.7 Q858.0 554.1 857.0 555.5 Q856.0 557.0 856.1 558.6 Q856.2 560.3 854.9 561.3 Q853.7 562.3 852.9 563.7 Q852.0 565.2 850.4 565.4 Q848.8 565.7 847.4 566.6 Q846.0 567.5 844.5 567.0 Q842.9 566.4 841.2 566.7 Q839.5 567.0 838.5 565.5 Q837.5 564.0 836.0 563.5 Q834.5 562.9 833.9 561.4 Q833.4 559.9 832.4 558.6 Q831.5 557.3 831.8 555.7 Q832.2 554.1 831.8 552.5 Q831.5 550.9 832.6 549.7 Q833.7 548.5 834.1 546.9 Q834.4 545.2 836.0 544.8 Q837.7 544.4 838.7 543.0 Q839.7 541.7 841.3 541.9 Q842.9 542.0 844.5 541.3 Q846.0 540.7 847.3 541.8 Q848.6 543.0 850.2 543.2 Q851.9 543.3 852.7 544.6 Q853.6 545.9 855.0 546.8 Q856.5 547.8 856.1 549.5 Q855.8 551.3 856.9 552.7Z" fill="#8a4a1a" stroke="#5a2a0a" stroke-width="1"/><circle cx="844.4" cy="554.1" r="12.5" fill="url(#ballShade)"/><circle cx="843.8" cy="555.1" r="2.4" fill="#a8622a"/><circle cx="848.0" cy="553.9" r="1.3" fill="#a8622a"/><circle cx="841.5" cy="558.0" r="2.1" fill="#a8622a"/><circle cx="845.6" cy="559.4" r="2.5" fill="#a8622a"/><circle cx="844.4" cy="555.8" r="1.7" fill="#a8622a"/><circle cx="844.4" cy="561.1" r="2.1" fill="#a8622a"/><circle cx="844.8" cy="554.0" r="2.5" fill="#a8622a"/><circle cx="848.8" cy="552.5" r="2.3" fill="#a8622a"/><circle cx="844.4" cy="554.3" r="2.1" fill="#a8622a"/><circle cx="848.2" cy="555.7" r="2.6" fill="#a8622a"/>
<path d="M819.1 712.1 Q819.2 713.4 818.6 714.6 Q818.0 715.7 818.1 717.1 Q818.1 718.5 816.9 719.1 Q815.6 719.7 814.8 720.8 Q814.1 721.9 812.8 722.0 Q811.5 722.2 810.3 722.6 Q809.0 723.1 807.9 722.3 Q806.8 721.5 805.4 721.4 Q804.1 721.4 803.5 720.2 Q802.9 719.0 801.7 718.2 Q800.6 717.3 800.8 716.0 Q800.9 714.6 800.4 713.3 Q799.8 712.0 800.8 711.0 Q801.7 709.9 801.9 708.5 Q802.0 707.1 803.4 706.7 Q804.7 706.3 805.5 705.2 Q806.4 704.0 807.7 704.3 Q809.1 704.6 810.4 704.4 Q811.6 704.1 812.6 705.0 Q813.6 705.8 814.9 706.1 Q816.3 706.4 816.8 707.6 Q817.3 708.8 818.2 709.8 Q819.1 710.8 819.1 712.1Z" fill="#9a6a3a" stroke="#6a4a20" stroke-width="1"/><circle cx="809.7" cy="713.4" r="9" fill="url(#ballShade)"/><circle cx="808.7" cy="719.6" r="1.6" fill="#b08050"/><circle cx="807.8" cy="714.0" r="1.0" fill="#b08050"/><circle cx="807.6" cy="710.3" r="1.2" fill="#b08050"/><circle cx="810.0" cy="714.5" r="1.0" fill="#b08050"/><circle cx="811.0" cy="714.8" r="1.1" fill="#b08050"/><circle cx="809.1" cy="714.2" r="1.3" fill="#b08050"/><circle cx="809.8" cy="713.5" r="1.3" fill="#b08050"/>
<path d="M863.3 725.1 Q863.8 726.3 863.1 727.4 Q862.5 728.6 862.6 730.0 Q862.7 731.4 861.5 732.0 Q860.3 732.7 859.5 733.7 Q858.7 734.8 857.3 734.5 Q855.9 734.2 854.7 734.7 Q853.5 735.2 852.5 734.4 Q851.5 733.6 850.1 733.4 Q848.8 733.3 848.3 732.0 Q847.8 730.8 847.0 729.8 Q846.1 728.9 846.3 727.6 Q846.6 726.3 846.2 725.0 Q845.8 723.7 846.8 722.7 Q847.9 721.8 848.3 720.5 Q848.7 719.3 850.0 718.9 Q851.3 718.6 852.4 717.8 Q853.5 717.1 854.7 717.7 Q855.9 718.4 857.3 718.2 Q858.6 718.0 859.5 719.0 Q860.3 719.9 861.5 720.6 Q862.7 721.2 862.8 722.6 Q862.8 723.9 863.3 725.1Z" fill="#a0621e" stroke="#6a3a10" stroke-width="1"/><circle cx="854.8" cy="726.3" r="8.5" fill="url(#ballShade)"/><circle cx="854.7" cy="726.3" r="1.6" fill="#c08030"/><circle cx="852.0" cy="721.7" r="0.9" fill="#c08030"/><circle cx="853.3" cy="724.9" r="1.3" fill="#c08030"/><circle cx="854.2" cy="723.8" r="1.8" fill="#c08030"/><circle cx="855.4" cy="726.0" r="1.6" fill="#c08030"/><circle cx="854.7" cy="723.7" r="1.3" fill="#c08030"/>
<path d="M1268.0 536.0 L1292.0 540.7 A10.5 10.5 0 1 1 1281.1 556.6 Z" fill="#1f9bd7" stroke="#1683c2" stroke-width="1.2" stroke-linejoin="round"/><ellipse cx="1285.3" cy="549.4" rx="1.7" ry="5.8" fill="#d8f2fc" transform="rotate(-56 1285.3 549.4)"/>
<path d="M1310.0 572.0 L1327.1 595.7 A12.5 12.5 0 1 1 1304.7 600.7 Z" fill="#1f9bd7" stroke="#1683c2" stroke-width="1.2" stroke-linejoin="round"/><ellipse cx="1311.4" cy="601.1" rx="2.0" ry="6.9" fill="#d8f2fc" transform="rotate(-13 1311.4 601.1)"/>
<path d="M1355.0 571.0 L1372.5 577.6 A10 10 0 1 1 1359.3 589.3 Z" fill="#1f9bd7" stroke="#1683c2" stroke-width="1.2" stroke-linejoin="round"/><ellipse cx="1364.5" cy="585.5" rx="1.6" ry="5.5" fill="#d8f2fc" transform="rotate(-41 1364.5 585.5)"/>
<path d="M1352.0 600.0 L1367.6 620.8 A12 12 0 1 1 1346.3 625.4 Z" fill="#1f9bd7" stroke="#1683c2" stroke-width="1.2" stroke-linejoin="round"/><ellipse cx="1352.6" cy="626.2" rx="1.9" ry="6.6" fill="#d8f2fc" transform="rotate(-12 1352.6 626.2)"/>
<path d="M1347.0 656.0 L1361.6 655.5 A10.5 10.5 0 1 1 1352.2 669.7 Z" fill="#1f9bd7" stroke="#1683c2" stroke-width="1.2" stroke-linejoin="round"/><ellipse cx="1357.3" cy="664.4" rx="1.7" ry="5.8" fill="#d8f2fc" transform="rotate(-56 1357.3 664.4)"/>
<path d="M1310.0 692.0 L1321.1 710.0 A9.5 9.5 0 1 1 1303.9 712.3 Z" fill="#1f9bd7" stroke="#1683c2" stroke-width="1.2" stroke-linejoin="round"/><ellipse cx="1308.7" cy="713.6" rx="1.5" ry="5.2" fill="#d8f2fc" transform="rotate(-7 1308.7 713.6)"/>
<ellipse cx="1271" cy="594" rx="16" ry="10.5" fill="#8dcbe6" stroke="#4ea8d4" stroke-width="1" transform="rotate(32 1271 594)"/>
<ellipse cx="1266" cy="590" rx="8" ry="3" fill="#d4eef8" transform="rotate(32 1266 590)"/>
<circle cx="1286" cy="709" r="9" fill="#8ec3d8" stroke="#5aa6c8" stroke-width="1"/>
<ellipse cx="1283" cy="705" rx="4" ry="2" fill="#d8eef6"/>
<ellipse cx="1326" cy="537" rx="7" ry="6.5" fill="#4fb0dc" stroke="#2d95c8" stroke-width="1"/>
<ellipse cx="1324" cy="535" rx="2.8000000000000003" ry="1.95" fill="#cdeefa"/>
<ellipse cx="1336" cy="559" rx="6.5" ry="6" fill="#4fb0dc" stroke="#2d95c8" stroke-width="1"/>
<ellipse cx="1334" cy="557" rx="2.6" ry="1.7999999999999998" fill="#cdeefa"/>
<ellipse cx="1334" cy="669" rx="4" ry="2.5" fill="#3ea6d8" transform="rotate(40 1334 669)"/>
<ellipse cx="1329" cy="690" rx="3.5" ry="2.5" fill="#3ea6d8" transform="rotate(40 1329 690)"/>
<ellipse cx="1270" cy="628" rx="2.5" ry="4.5" fill="#3ea6d8" transform="rotate(30 1270 628)"/>
<ellipse cx="1323" cy="635" rx="2.5" ry="3.8" fill="#3ea6d8" transform="rotate(-25 1323 635)"/>
<ellipse cx="1273" cy="565" rx="2.5" ry="1.8" fill="#3ea6d8" transform="rotate(30 1273 565)"/>
<ellipse cx="1316" cy="563" rx="2.5" ry="1.8" fill="#3ea6d8" transform="rotate(40 1316 563)"/>
<ellipse cx="1287" cy="583" rx="2" ry="1.5" fill="#3ea6d8" transform="rotate(0 1287 583)"/>
<circle cx="1306" cy="533" r="1.5" fill="#3fa3d6"/>
<circle cx="1362" cy="551" r="1.5" fill="#3fa3d6"/>
<circle cx="1374" cy="700" r="3" fill="#3fa3d6"/>
<circle cx="1272" cy="688" r="2" fill="#3fa3d6"/>
<circle cx="1343" cy="585" r="1" fill="#3fa3d6"/>
<circle cx="1350" cy="700" r="1.5" fill="#3fa3d6"/>
<circle cx="1300" cy="588" r="1" fill="#3fa3d6"/>
<text x="792.0" y="382.4" font-size="30.5" textLength="96.9" lengthAdjust="spacingAndGlyphs" fill="#143f6c" style="" xml:space="preserve" ><tspan font-size="30.50">I</tspan><tspan font-size="27.45">nfluent</tspan></text>
<text x="757.7" y="409.7" font-size="26" textLength="136.9" lengthAdjust="spacingAndGlyphs" fill="#143f6c" style="" xml:space="preserve" ><tspan font-size="26.00">(W</tspan><tspan font-size="23.40">astewater</tspan><tspan font-size="26.00">)</tspan></text>
<text x="734.1" y="514.4" font-size="33" textLength="162.4" lengthAdjust="spacingAndGlyphs" fill="#143f6c" style="" xml:space="preserve" ><tspan font-size="33.00">M</tspan><tspan font-size="29.70">ixed </tspan><tspan font-size="33.00">L</tspan><tspan font-size="29.70">iquor</tspan></text>
<text x="672.2" y="645.2" font-size="30" textLength="212" lengthAdjust="spacingAndGlyphs" fill="#143f6c" style="" xml:space="preserve" ><tspan font-size="30.00">M</tspan><tspan font-size="27.00">embrane </tspan><tspan font-size="30.00">F</tspan><tspan font-size="27.00">ilters</tspan></text>
<text x="694.5" y="680.3" font-size="27" textLength="164.3" lengthAdjust="spacingAndGlyphs" fill="#143f6c" style="" xml:space="preserve" ><tspan font-size="27.00">(0.03 – 0.4 µ</tspan><tspan font-size="24.30">m</tspan><tspan font-size="27.00">)</tspan></text>
<text x="1306.7" y="382.5" font-size="29" textLength="116" lengthAdjust="spacingAndGlyphs" fill="#143f6c" style="" xml:space="preserve" ><tspan font-size="29.00">P</tspan><tspan font-size="26.10">ermeate</tspan></text>
<text x="1291.8" y="509.1" font-size="29" textLength="149.7" lengthAdjust="spacingAndGlyphs" fill="#143f6c" style="" xml:space="preserve" ><tspan font-size="29.00">C</tspan><tspan font-size="26.10">lean </tspan><tspan font-size="29.00">W</tspan><tspan font-size="26.10">ater</tspan></text>
<g transform="translate(909.4 796) skewX(-5)">
<text x="-1.5" y="0" font-size="31.5" textLength="334" lengthAdjust="spacingAndGlyphs" fill="#ffffff" style="" xml:space="preserve" stroke="#22160c" stroke-width="3.6" paint-order="stroke" stroke-linejoin="round" filter="url(#tshadow)"><tspan font-size="31.50">A</tspan><tspan font-size="28.35">ll </tspan><tspan font-size="31.50">S</tspan><tspan font-size="28.35">olids </tspan><tspan font-size="31.50">&amp; B</tspan><tspan font-size="28.35">acteria </tspan><tspan font-size="31.50">R</tspan><tspan font-size="28.35">etained</tspan></text>
</g>
</svg>
</body></html>
